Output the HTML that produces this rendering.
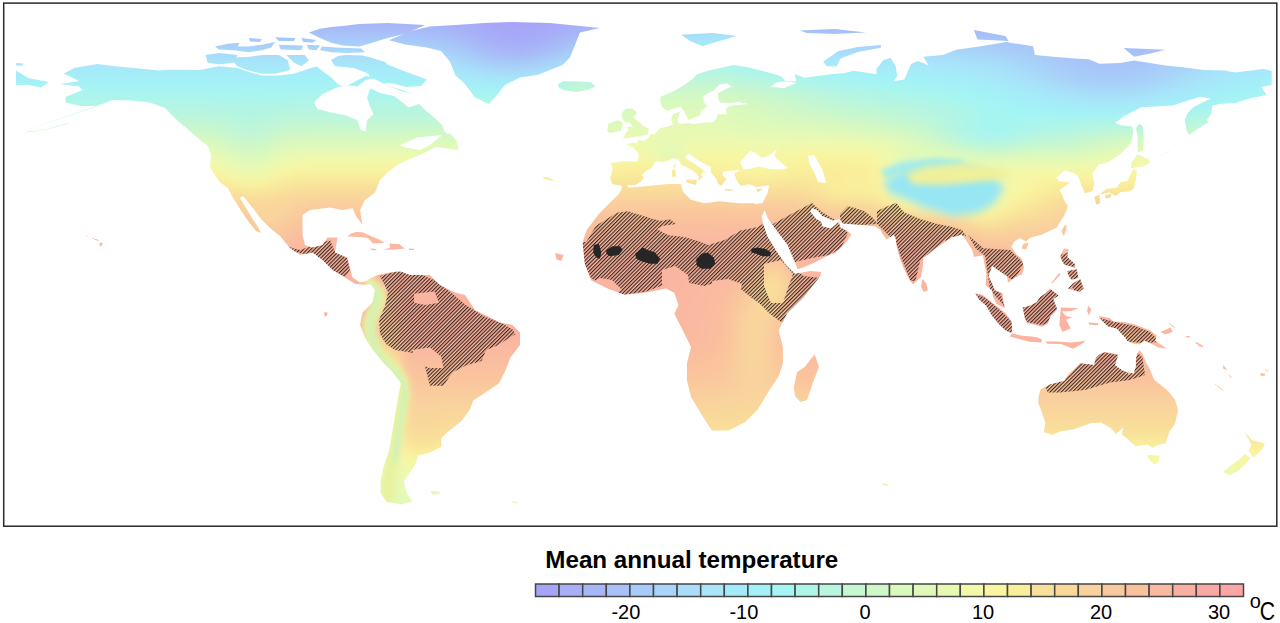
<!DOCTYPE html>
<html><head><meta charset="utf-8"><style>
html,body{margin:0;padding:0;background:#fff;width:1280px;height:623px;overflow:hidden}
svg{display:block;font-family:"Liberation Sans",sans-serif}
</style></head><body>
<svg width="1280" height="623" viewBox="0 0 1280 623">
<defs>
<clipPath id="landclip"><path d="M63.8,73.4 L75.0,67.8 L97.5,64.0 L112.5,66.0 L131.0,67.8 L159.0,70.6 L169.0,69.7 L200.0,70.0 L218.8,66.3 L237.5,68.1 L248.8,71.9 L261.9,75.6 L278.8,75.6 L293.8,73.8 L305.0,70.0 L316.3,66.3 L323.8,71.9 L331.3,77.5 L338.8,85.0 L346.3,86.0 L358.0,80.0 L366.0,76.0 L374.0,78.0 L386.0,85.0 L402.0,90.0 L415.0,95.0 L418.0,100.0 L420.0,105.0 L425.0,110.0 L435.0,118.0 L442.0,125.0 L445.0,132.0 L450.0,136.0 L447.0,142.0 L440.0,145.0 L430.0,150.0 L420.0,155.0 L407.5,160.0 L397.5,165.0 L387.5,172.5 L380.0,180.0 L375.0,192.5 L365.0,200.0 L360.0,210.0 L362.5,225.0 L356.0,216.0 L352.5,208.0 L342.5,210.0 L330.0,207.5 L310.0,210.0 L302.5,215.0 L302.5,235.0 L305.0,245.0 L312.5,247.5 L322.5,245.0 L327.5,237.5 L337.5,237.5 L335.0,252.5 L347.5,257.5 L350.0,267.5 L352.5,277.5 L360.0,282.5 L370.0,280.0 L372.0,284.0 L365.0,285.0 L355.0,283.8 L345.0,277.5 L332.5,270.0 L322.5,260.0 L312.5,252.5 L300.0,255.0 L290.0,248.0 L280.0,236.0 L270.0,228.0 L262.0,220.0 L255.0,211.0 L248.0,202.0 L243.0,196.0 L240.0,198.0 L246.0,208.0 L252.0,218.0 L258.0,227.0 L261.0,233.0 L256.0,231.0 L248.0,221.0 L240.0,209.0 L232.0,196.0 L227.5,187.5 L220.0,182.5 L215.0,175.0 L210.0,167.5 L211.0,155.0 L208.0,146.0 L200.0,140.0 L187.5,129.0 L178.0,121.0 L165.0,108.0 L150.0,102.5 L131.0,100.6 L112.5,100.0 L105.0,103.0 L17.0,133.0 L98.0,106.0 L80.6,106.0 L65.6,102.5 L65.6,97.0 L82.5,90.0 L79.0,86.5 L60.0,84.0 L79.0,81.0 Z"/><path d="M308.8,32.5 L320.0,28.8 L331.3,26.9 L342.5,25.9 L359.4,24.1 L387.5,23.1 L425.0,25.0 L406.3,33.4 L387.5,38.1 L368.8,43.8 L359.4,46.6 L342.5,45.6 L331.3,42.8 L320.0,38.1 Z"/><path d="M321.9,46.6 L335.0,47.5 L361.3,48.4 L365.0,52.2 L346.3,53.1 L331.3,52.2 L320.0,50.3 Z"/><path d="M215.0,46.6 L228.1,43.8 L239.4,42.8 L237.5,46.6 L248.8,46.6 L261.9,44.7 L275.0,41.9 L271.3,47.5 L261.9,50.3 L248.8,52.2 L233.8,50.3 L218.8,49.4 Z"/><path d="M248.8,38.1 L261.9,39.0 L260.0,41.9 L250.0,41.5 Z"/><path d="M275.0,37.2 L295.6,38.1 L293.8,40.9 L278.8,40.9 Z"/><path d="M301.3,38.1 L316.3,40.0 L312.5,42.8 L303.1,41.9 Z"/><path d="M278.8,44.7 L303.1,45.6 L301.3,50.3 L280.6,49.4 Z"/><path d="M306.9,44.7 L320.0,45.6 L316.3,50.3 L308.8,49.4 Z"/><path d="M205.6,55.0 L218.8,53.1 L237.5,55.0 L233.8,62.5 L218.8,64.4 L207.5,62.5 Z"/><path d="M230.0,57.8 L246.9,56.9 L263.8,55.0 L278.8,55.0 L288.1,60.6 L290.0,70.0 L275.0,73.8 L261.9,73.8 L246.9,70.0 L237.5,66.3 Z"/><path d="M286.3,55.0 L305.0,55.0 L308.8,60.6 L301.3,66.3 L293.8,62.5 Z"/><path d="M331.0,60.0 L338.0,56.0 L346.3,55.0 L362.0,55.5 L368.8,56.9 L385.0,62.0 L387.5,64.4 L406.3,71.9 L426.9,79.4 L421.3,86.0 L406.3,87.0 L395.0,84.0 L387.5,83.1 L372.0,86.0 L368.8,73.8 L353.8,68.1 L335.0,66.3 Z"/><path d="M350.0,86.0 L362.0,84.0 L366.0,90.0 L356.0,94.0 L349.0,91.0 Z"/><path d="M389.0,40.3 L409.3,31.6 L429.5,26.6 L455.5,25.1 L484.4,22.9 L512.5,22.0 L550.0,23.0 L570.0,25.0 L600.0,28.0 L580.0,32.5 L575.0,45.0 L570.0,57.5 L562.5,65.0 L550.0,70.0 L537.5,75.0 L520.0,77.5 L505.0,85.0 L495.0,97.5 L489.0,104.0 L475.0,97.5 L465.0,84.0 L455.5,75.6 L452.6,68.4 L449.7,61.2 L441.1,51.1 L426.6,47.5 L405.0,44.6 Z"/><path d="M562.9,81.2 L580.3,81.5 L590.8,82.2 L595.6,86.4 L587.3,89.9 L576.8,92.0 L563.9,90.2 L559.4,88.1 L557.7,84.6 Z"/><path d="M16.0,70.5 L28.0,78.0 L49.0,82.0 L41.0,87.5 L28.0,84.7 L16.0,85.0 Z"/><path d="M16.0,63.0 L23.0,63.5 L23.0,65.5 L16.0,65.5 Z"/><path d="M449.7,133.1 L456.6,140.4 L458.4,150.1 L436.4,147.3 L441.0,140.4 L443.8,135.8 Z"/><path d="M355.6,232.0 L362.6,232.3 L371.3,236.2 L379.3,239.6 L384.5,243.1 L373.0,243.5 L367.8,237.9 L359.1,236.9 L347.3,236.5 L350.4,234.1 Z"/><path d="M389.4,243.5 L399.2,244.2 L404.7,248.4 L395.7,249.4 L383.8,249.7 L390.1,247.7 Z"/><path d="M372.0,248.4 L377.2,249.4 L374.1,250.4 L369.9,249.1 Z"/><path d="M408.9,248.4 L414.5,248.7 L413.5,250.1 L408.9,250.1 Z"/><path d="M367.5,280.0 L377.5,275.0 L390.0,272.5 L400.0,271.2 L410.0,275.0 L430.0,275.0 L440.0,285.0 L455.0,292.5 L465.0,295.0 L475.0,310.0 L485.0,315.0 L500.0,322.5 L512.5,325.0 L520.0,332.5 L520.0,345.0 L510.6,357.3 L504.8,371.8 L499.1,383.3 L481.7,394.9 L473.1,400.6 L470.2,409.3 L461.5,420.9 L447.1,432.4 L441.3,438.2 L441.3,446.9 L429.7,452.6 L418.2,455.5 L415.3,464.2 L409.5,472.9 L403.8,481.5 L406.6,493.1 L412.4,501.7 L400.9,504.6 L386.4,501.7 L380.6,493.1 L380.6,481.5 L383.5,467.1 L389.3,449.7 L392.2,432.4 L395.1,415.1 L398.0,397.8 L400.9,383.3 L392.2,371.8 L383.5,363.1 L372.0,348.7 L365.0,337.5 L360.0,325.0 L362.5,312.5 L372.5,302.5 L375.0,290.0 Z"/><path d="M624.3,182.1 L628.9,187.8 L648.2,185.9 L667.4,184.0 L680.9,184.0 L682.9,191.7 L690.6,199.4 L704.0,203.2 L719.5,201.3 L738.7,203.2 L754.1,203.2 L760.0,208.0 L761.6,216.0 L763.0,223.2 L767.3,236.2 L776.0,250.6 L786.1,265.1 L794.8,273.8 L810.6,270.9 L821.0,272.0 L820.4,276.0 L803.7,296.9 L787.0,313.6 L778.7,330.3 L782.9,346.9 L782.9,363.6 L778.7,376.2 L770.3,388.7 L757.8,409.5 L745.3,422.1 L728.6,430.4 L711.9,430.4 L703.6,417.9 L691.0,397.0 L686.9,380.3 L686.9,363.6 L691.0,346.9 L682.7,330.3 L674.3,313.6 L678.5,305.2 L674.3,292.7 L666.0,288.5 L645.1,292.7 L624.3,294.8 L607.6,288.5 L590.9,280.2 L584.6,263.5 L582.5,242.6 L586.7,230.1 L599.2,213.4 L609.6,203.2 L619.3,193.6 Z"/><path d="M814.7,354.6 L818.9,366.8 L813.0,382.5 L807.1,399.9 L800.4,402.0 L795.2,396.4 L793.8,387.7 L797.0,372.0 L805.0,366.8 L810.2,359.8 Z"/><path d="M623.5,187.4 L621.1,185.7 L612.0,183.9 L610.3,178.0 L612.7,169.6 L611.0,163.0 L623.1,161.3 L637.8,161.6 L638.8,154.3 L634.3,148.0 L626.3,144.2 L632.6,142.8 L637.8,143.5 L637.4,139.7 L643.7,140.7 L648.2,138.3 L650.0,135.1 L655.2,133.8 L659.7,128.2 L667.4,126.4 L673.0,124.7 L671.2,119.5 L673.0,113.9 L679.9,111.8 L678.9,116.0 L677.1,119.5 L678.5,123.0 L681.3,124.0 L688.3,123.0 L693.5,124.0 L707.4,122.3 L712.7,122.6 L716.5,118.8 L717.9,114.2 L726.9,114.2 L725.6,109.4 L729.0,105.9 L748.5,104.1 L738.8,102.1 L730.1,103.1 L720.3,102.4 L717.9,98.6 L717.9,93.3 L726.3,88.8 L731.5,86.4 L727.3,83.6 L720.0,84.3 L713.7,90.6 L703.6,95.4 L703.6,101.7 L707.4,106.2 L701.5,110.8 L700.1,115.3 L694.2,117.7 L688.3,119.8 L686.9,117.0 L684.5,111.8 L681.3,107.3 L679.6,106.9 L672.6,109.0 L667.4,110.8 L662.5,107.6 L660.4,102.4 L660.4,96.8 L669.1,93.3 L676.1,89.9 L684.8,84.6 L693.2,78.4 L697.0,74.2 L708.8,70.4 L724.9,66.9 L732.9,65.1 L747.5,67.2 L757.9,69.7 L768.4,72.4 L780.6,75.9 L785.8,81.2 L796.3,81.2 L794.5,74.2 L805.0,77.7 L817.2,75.9 L831.1,74.2 L845.0,73.1 L853.7,70.7 L876.4,74.2 L876.4,69.0 L883.3,60.3 L890.3,57.8 L895.5,65.5 L897.3,75.9 L893.8,81.2 L904.2,79.4 L911.2,63.7 L918.2,61.0 L928.6,65.5 L923.4,56.8 L942.6,55.0 L956.5,49.8 L980.9,46.3 L1006.3,42.1 L1033.1,46.3 L1034.9,55.0 L1050.5,56.4 L1074.9,58.5 L1088.9,59.2 L1099.3,63.7 L1120.2,63.0 L1134.1,60.6 L1165.5,65.5 L1182.9,67.2 L1203.8,70.0 L1224.7,70.4 L1235.2,72.4 L1263.0,69.0 L1271.7,70.7 L1271.7,85.0 L1261.3,87.1 L1266.5,95.1 L1249.1,98.6 L1235.2,103.1 L1221.2,103.8 L1212.5,105.5 L1210.8,114.2 L1206.6,120.2 L1209.0,121.9 L1198.6,128.2 L1188.8,135.1 L1186.4,129.9 L1184.7,119.5 L1188.1,112.5 L1193.4,107.3 L1210.8,98.6 L1200.3,96.8 L1182.9,102.1 L1172.5,105.5 L1158.5,106.2 L1141.1,107.3 L1124.4,116.0 L1115.0,123.0 L1122.0,125.4 L1132.4,126.4 L1133.1,133.4 L1131.0,143.2 L1119.5,154.7 L1108.0,162.3 L1098.3,164.8 L1094.8,170.0 L1092.3,173.8 L1094.4,183.6 L1092.3,191.2 L1084.7,193.3 L1080.9,183.6 L1078.4,176.9 L1074.9,173.8 L1064.5,170.3 L1059.3,175.2 L1055.8,177.6 L1059.6,181.5 L1070.4,182.5 L1059.3,190.2 L1062.0,194.4 L1064.5,201.0 L1067.6,205.5 L1067.3,208.6 L1063.8,216.3 L1056.5,227.8 L1041.8,234.4 L1029.6,237.9 L1026.2,241.4 L1019.9,237.9 L1014.3,241.4 L1011.2,246.6 L1015.7,253.6 L1021.6,258.8 L1024.1,267.5 L1022.0,274.5 L1015.7,276.9 L1008.0,282.8 L1007.0,276.2 L1001.8,272.7 L996.6,268.9 L992.0,265.8 L991.0,269.3 L988.5,276.2 L992.0,283.2 L994.8,290.2 L1002.8,293.6 L1003.5,302.3 L1005.3,308.3 L996.6,304.1 L993.1,297.1 L992.0,290.2 L985.4,284.9 L986.5,274.5 L984.4,264.0 L983.0,255.3 L973.9,257.1 L972.2,250.1 L966.9,241.4 L961.7,234.4 L956.5,236.2 L951.3,237.2 L946.0,241.4 L938.4,246.6 L929.7,253.6 L923.4,257.8 L922.7,267.5 L921.0,276.9 L913.0,284.6 L908.4,278.0 L903.6,268.2 L900.1,258.8 L896.6,246.6 L895.9,239.6 L893.8,234.4 L886.8,239.6 L883.0,234.8 L880.6,230.2 L875.3,226.4 L862.4,225.0 L857.6,224.7 L842.6,223.6 L839.8,218.7 L832.8,220.5 L822.4,216.0 L817.2,210.0 L811.9,208.3 L810.2,211.8 L816.1,218.7 L821.3,221.9 L822.4,226.4 L831.1,228.5 L836.3,224.0 L839.1,220.8 L840.2,227.5 L847.1,230.6 L851.3,234.4 L846.8,241.4 L841.5,247.0 L834.6,253.6 L830.7,254.3 L815.1,262.3 L805.0,266.8 L797.7,269.3 L793.1,258.1 L787.6,244.9 L778.8,233.4 L767.4,217.4 L764.6,210.0 L762.1,216.3 L756.6,208.6 L755.5,204.1 L762.5,203.1 L765.3,197.8 L767.7,192.6 L769.1,185.3 L756.2,187.0 L749.6,184.3 L740.5,185.7 L737.7,182.2 L736.0,178.7 L734.3,173.5 L740.5,170.0 L730.1,170.7 L722.8,171.4 L722.8,175.2 L726.6,178.7 L725.6,180.4 L723.8,182.5 L721.4,186.0 L718.2,183.9 L716.8,179.4 L713.0,175.2 L710.6,171.7 L710.9,167.2 L706.0,164.4 L699.8,161.3 L693.5,156.7 L690.4,155.0 L691.1,154.0 L685.8,154.7 L685.8,158.1 L690.0,160.9 L698.7,166.8 L702.9,170.0 L707.4,173.5 L703.3,171.7 L700.8,174.9 L702.6,177.3 L697.7,180.8 L699.1,177.6 L696.6,173.5 L691.8,170.0 L685.8,166.8 L681.7,164.8 L678.5,160.2 L673.7,158.1 L668.4,160.6 L661.8,162.0 L655.2,161.3 L653.8,164.8 L650.7,168.6 L644.7,171.7 L642.0,175.2 L643.7,178.0 L640.6,181.8 L635.3,185.0 L627.7,185.0 Z"/><path d="M625.6,108.7 L632.6,108.7 L636.7,112.2 L633.9,117.7 L637.8,121.2 L643.3,125.7 L648.9,128.5 L647.9,133.4 L647.5,134.8 L639.5,136.2 L627.3,137.9 L623.1,138.6 L625.6,133.1 L628.7,129.9 L627.0,127.1 L632.6,126.8 L630.8,123.0 L625.6,122.3 L622.8,119.5 L621.4,116.0 L622.4,112.2 Z"/><path d="M617.6,120.2 L623.5,123.0 L621.8,127.1 L620.7,131.0 L609.9,133.1 L607.1,131.3 L608.2,127.1 L607.8,124.0 L614.1,121.2 Z"/><path d="M686.5,179.4 L697.3,179.7 L695.6,185.0 L686.2,182.2 Z"/><path d="M675.0,169.3 L676.4,176.3 L672.3,176.9 L671.6,170.3 Z"/><path d="M675.7,163.0 L675.0,168.6 L673.0,166.8 Z"/><path d="M724.9,189.1 L734.6,189.8 L730.1,190.9 L724.9,190.2 Z"/><path d="M755.5,189.1 L763.2,188.8 L757.9,192.3 Z"/><path d="M681.3,34.8 L712.7,33.1 L737.0,35.9 L719.6,41.1 L702.2,46.3 L690.0,41.1 Z"/><path d="M880.9,44.9 L857.9,47.0 L838.4,50.9 L823.1,61.7 L826.9,66.2 L836.7,66.2 L840.5,58.5 L857.9,51.9 L880.9,47.7 Z"/><path d="M799.7,30.6 L834.6,28.9 L865.9,32.4 L834.6,34.1 L806.7,33.1 Z"/><path d="M973.9,30.0 L1005.3,35.9 L1008.7,41.1 L977.4,39.4 Z"/><path d="M1123.7,48.1 L1165.5,49.8 L1151.6,53.3 L1134.1,56.8 Z"/><path d="M1139.4,123.7 L1142.9,126.4 L1143.9,138.6 L1142.9,150.8 L1137.6,152.6 L1137.6,143.9 L1137.6,135.1 L1135.9,128.2 Z"/><path d="M1137.3,154.3 L1149.1,159.5 L1149.8,163.0 L1142.2,166.5 L1130.7,168.2 L1131.7,162.3 Z"/><path d="M1133.8,168.2 L1136.9,171.7 L1135.9,179.4 L1133.8,188.4 L1130.0,191.2 L1120.2,192.3 L1116.0,196.1 L1109.8,192.6 L1099.3,194.4 L1106.3,189.1 L1116.7,187.4 L1120.2,182.2 L1127.2,180.8 L1130.7,173.5 Z"/><path d="M1099.3,194.7 L1100.4,203.1 L1096.5,204.8 L1094.1,196.8 Z"/><path d="M1111.5,193.7 L1110.5,197.8 L1105.6,198.5 L1105.2,194.7 Z"/><path d="M1066.2,224.7 L1066.6,229.2 L1063.8,236.2 L1061.3,230.9 L1064.5,225.7 Z"/><path d="M1028.6,242.8 L1026.2,249.4 L1021.6,248.4 L1023.4,243.8 Z"/><path d="M922.4,278.7 L926.2,283.2 L927.9,290.2 L923.8,291.9 L921.0,286.7 Z"/><path d="M1063.8,248.4 L1068.7,249.1 L1067.3,257.1 L1074.9,264.0 L1074.9,267.5 L1064.5,264.7 L1062.7,262.3 L1060.3,256.4 Z"/><path d="M1080.2,279.0 L1083.6,288.4 L1079.5,291.9 L1068.0,288.4 L1073.2,283.2 Z"/><path d="M1076.7,269.3 L1078.4,278.0 L1071.4,279.7 L1068.0,274.5 L1067.3,271.0 Z"/><path d="M1059.3,272.7 L1060.3,274.5 L1052.6,283.2 L1051.2,283.2 Z"/><path d="M1049.8,288.4 L1058.6,295.4 L1053.3,298.9 L1057.2,309.3 L1050.5,316.3 L1047.8,323.2 L1041.8,326.7 L1031.4,323.9 L1026.9,323.2 L1024.8,318.0 L1022.7,307.6 L1029.6,305.8 L1036.6,302.3 L1040.1,297.1 L1045.3,293.6 Z"/><path d="M975.0,293.3 L982.6,294.7 L989.6,300.6 L998.3,307.6 L1005.3,312.8 L1011.5,321.5 L1012.2,328.5 L1011.5,333.3 L1005.3,330.2 L999.3,325.0 L992.4,316.3 L986.1,305.8 L979.1,299.6 Z"/><path d="M1012.2,333.3 L1020.9,335.4 L1031.4,336.5 L1036.6,337.2 L1041.8,339.3 L1041.5,342.4 L1029.6,341.7 L1020.9,339.6 L1009.8,336.5 Z"/><path d="M1045.3,341.4 L1057.5,341.4 L1071.4,342.4 L1085.4,340.7 L1083.6,342.8 L1073.2,348.7 L1061.0,344.1 L1047.1,343.8 Z"/><path d="M1061.0,307.6 L1078.8,308.3 L1071.4,311.1 L1062.0,311.4 L1066.2,316.3 L1072.5,317.3 L1066.2,319.8 L1070.7,328.5 L1062.4,332.0 L1059.3,325.0 L1060.3,314.5 Z"/><path d="M1088.2,305.8 L1091.3,309.3 L1088.9,315.6 L1087.1,311.1 Z"/><path d="M1088.9,322.6 L1098.6,323.2 L1097.6,325.3 L1088.9,324.6 Z"/><path d="M1099.3,315.9 L1109.8,318.0 L1113.2,321.5 L1123.7,321.9 L1134.1,324.3 L1149.8,330.2 L1156.8,335.4 L1155.0,340.7 L1167.2,348.7 L1158.5,347.6 L1151.6,344.1 L1144.6,340.7 L1139.4,344.5 L1134.1,344.1 L1127.2,340.7 L1125.4,337.9 L1116.7,328.5 L1108.0,326.4 L1102.8,321.5 L1099.3,318.0 Z"/><path d="M1184.7,336.5 L1189.9,337.9 L1189.2,335.8 Z"/><path d="M1195.1,341.4 L1203.8,345.9 L1202.1,346.9 L1196.1,343.5 Z"/><path d="M1198.6,345.2 L1203.1,347.3 L1197.9,346.2 Z"/><path d="M1223.3,365.0 L1227.5,370.3 L1223.0,368.5 Z"/><path d="M1228.2,373.8 L1232.4,378.3 L1229.9,377.2 Z"/><path d="M1214.3,383.2 L1224.7,390.8 L1221.2,389.4 L1215.0,384.2 Z"/><path d="M1260.6,373.1 L1265.1,373.8 L1264.8,376.2 L1260.2,375.5 Z"/><path d="M1265.8,369.2 L1269.6,371.3 L1264.8,370.6 Z"/><path d="M1167.2,321.5 L1174.2,326.7 L1175.9,328.8 L1171.8,326.0 Z"/><path d="M324.3,312.1 L327.8,312.8 L326.7,316.3 L324.3,316.3 Z"/><path d="M430.5,491.1 L439.9,491.5 L439.2,493.9 L432.3,494.6 Z"/><path d="M510.6,500.9 L517.6,501.9 L517.9,503.3 L512.4,502.6 Z"/><path d="M882.7,482.8 L888.6,484.2 L887.5,485.9 L882.7,485.2 Z"/><path d="M555.2,252.9 L563.6,255.0 L561.1,260.9 L556.6,259.5 Z"/><path d="M543.7,176.9 L549.0,177.6 L554.9,181.5 L553.1,181.1 L543.0,178.7 Z"/><path d="M1186.4,136.9 L1181.2,142.1 L1170.7,150.8 L1155.0,157.8 L1153.3,158.5 L1169.0,151.9 L1180.1,142.8 L1185.3,137.9 Z"/><path d="M68.3,123.0 L56.1,126.4 L42.1,129.9 L26.5,131.7 L25.8,132.4 L42.1,130.6 L56.1,127.1 L68.3,123.7 Z"/><path d="M100.0,242.4 L103.1,243.5 L101.0,246.6 L99.3,244.9 Z"/><path d="M91.9,237.6 L93.7,238.6 L97.5,239.6 L99.6,241.0 L96.1,240.3 L92.3,238.6 Z"/><path d="M86.4,235.5 L88.1,236.2 L86.4,236.5 Z"/><path d="M1170.7,327.4 L1172.5,332.0 L1165.5,334.4 L1160.3,332.0 Z"/><path d="M1139.4,350.1 L1142.9,354.6 L1146.3,363.3 L1149.5,368.5 L1154.3,380.0 L1162.0,385.9 L1168.3,391.2 L1175.2,399.9 L1178.0,410.3 L1174.9,424.3 L1169.7,431.2 L1165.5,443.4 L1156.8,445.2 L1152.6,447.9 L1147.7,444.5 L1135.9,446.2 L1130.0,441.7 L1124.7,436.5 L1122.0,434.7 L1123.0,427.7 L1116.0,434.0 L1110.5,427.7 L1101.1,422.5 L1090.6,423.2 L1073.2,429.5 L1061.0,431.2 L1052.3,434.7 L1043.9,432.3 L1045.3,422.5 L1041.8,412.1 L1038.4,403.4 L1038.4,398.1 L1040.4,389.4 L1050.5,384.2 L1064.5,380.7 L1068.7,373.8 L1073.2,370.3 L1080.2,363.3 L1088.9,364.3 L1094.1,365.0 L1095.8,358.1 L1099.3,354.6 L1104.5,351.8 L1118.5,354.6 L1116.7,359.8 L1115.0,365.0 L1122.0,370.3 L1133.4,373.8 L1135.9,366.8 L1135.9,358.1 L1137.6,352.9 Z"/><path d="M1147.0,454.9 L1159.6,455.6 L1158.2,462.6 L1154.3,464.7 L1148.8,459.1 Z"/><path d="M1244.6,432.6 L1251.9,439.9 L1264.8,443.4 L1262.7,448.6 L1253.3,457.7 L1248.4,450.4 L1251.5,445.2 L1249.1,439.9 Z"/><path d="M1244.9,453.9 L1250.1,458.1 L1245.6,464.3 L1237.9,471.3 L1229.6,475.1 L1223.0,472.3 L1229.9,466.1 L1239.7,459.1 Z"/></clipPath>
<pattern id="hatch" patternUnits="userSpaceOnUse" width="2.62" height="10" patternTransform="rotate(45)">
<rect x="0" y="0" width="1.15" height="10" fill="#35201a"/></pattern>
<filter id="blur" x="0" y="0" width="1280" height="530" filterUnits="userSpaceOnUse"><feGaussianBlur stdDeviation="6"/></filter>
<filter id="ob0" x="0" y="0" width="1280" height="530" filterUnits="userSpaceOnUse"><feGaussianBlur stdDeviation="3"/></filter><filter id="ob1" x="0" y="0" width="1280" height="530" filterUnits="userSpaceOnUse"><feGaussianBlur stdDeviation="2"/></filter><filter id="pb0" x="0" y="0" width="1280" height="530" filterUnits="userSpaceOnUse"><feGaussianBlur stdDeviation="2.5"/></filter><filter id="pb1" x="0" y="0" width="1280" height="530" filterUnits="userSpaceOnUse"><feGaussianBlur stdDeviation="4"/></filter><filter id="pb2" x="0" y="0" width="1280" height="530" filterUnits="userSpaceOnUse"><feGaussianBlur stdDeviation="3"/></filter></defs>
<rect width="1280" height="623" fill="#fff"/>
<g clip-path="url(#landclip)">
<g filter="url(#blur)"><rect x="330" y="0" width="10" height="10" fill="#a6a4f9"/><rect x="340" y="0" width="10" height="10" fill="#a6a4f9"/><rect x="350" y="0" width="10" height="10" fill="#a6a4f9"/><rect x="360" y="0" width="10" height="10" fill="#a6a4f9"/><rect x="370" y="0" width="10" height="10" fill="#a6a4f9"/><rect x="380" y="0" width="10" height="10" fill="#a6a4f9"/><rect x="390" y="0" width="10" height="10" fill="#a6a4f9"/><rect x="400" y="0" width="10" height="10" fill="#a6a4f9"/><rect x="410" y="0" width="10" height="10" fill="#a6a4f9"/><rect x="420" y="0" width="10" height="10" fill="#a6a4f9"/><rect x="430" y="0" width="10" height="10" fill="#a6a4f9"/><rect x="440" y="0" width="10" height="10" fill="#a6a4f9"/><rect x="450" y="0" width="10" height="10" fill="#a6a4f9"/><rect x="460" y="0" width="10" height="10" fill="#a6a4f9"/><rect x="470" y="0" width="10" height="10" fill="#a6a4f9"/><rect x="480" y="0" width="10" height="10" fill="#a6a4f9"/><rect x="490" y="0" width="10" height="10" fill="#a6a4f9"/><rect x="500" y="0" width="10" height="10" fill="#a6a4f9"/><rect x="510" y="0" width="10" height="10" fill="#a6a4f9"/><rect x="520" y="0" width="10" height="10" fill="#a6a4f9"/><rect x="530" y="0" width="10" height="10" fill="#a6a4f9"/><rect x="540" y="0" width="10" height="10" fill="#a6a4f9"/><rect x="550" y="0" width="10" height="10" fill="#a6a4f9"/><rect x="560" y="0" width="10" height="10" fill="#a6a4f9"/><rect x="570" y="0" width="10" height="10" fill="#a6a4f9"/><rect x="580" y="0" width="10" height="10" fill="#a6a4f9"/><rect x="300" y="10" width="10" height="10" fill="#a7abf8"/><rect x="310" y="10" width="10" height="10" fill="#a7abf8"/><rect x="320" y="10" width="10" height="10" fill="#a7abf8"/><rect x="330" y="10" width="10" height="10" fill="#a7abf8"/><rect x="340" y="10" width="10" height="10" fill="#a7abf8"/><rect x="350" y="10" width="10" height="10" fill="#a7abf8"/><rect x="360" y="10" width="10" height="10" fill="#a7abf8"/><rect x="370" y="10" width="10" height="10" fill="#a7abf8"/><rect x="380" y="10" width="10" height="10" fill="#a7abf8"/><rect x="390" y="10" width="10" height="10" fill="#a7abf8"/><rect x="400" y="10" width="10" height="10" fill="#a7abf8"/><rect x="410" y="10" width="10" height="10" fill="#a7aaf8"/><rect x="420" y="10" width="10" height="10" fill="#a7aaf8"/><rect x="430" y="10" width="10" height="10" fill="#a7a9f8"/><rect x="440" y="10" width="10" height="10" fill="#a7a8f8"/><rect x="450" y="10" width="10" height="10" fill="#a7a7f8"/><rect x="460" y="10" width="10" height="10" fill="#a6a6f9"/><rect x="470" y="10" width="10" height="10" fill="#a6a4f9"/><rect x="480" y="10" width="10" height="10" fill="#a6a4f9"/><rect x="490" y="10" width="10" height="10" fill="#a6a4f9"/><rect x="500" y="10" width="10" height="10" fill="#a6a4f9"/><rect x="510" y="10" width="10" height="10" fill="#a6a4f9"/><rect x="520" y="10" width="10" height="10" fill="#a6a4f9"/><rect x="530" y="10" width="10" height="10" fill="#a6a4f9"/><rect x="540" y="10" width="10" height="10" fill="#a6a4f9"/><rect x="550" y="10" width="10" height="10" fill="#a6a4f9"/><rect x="560" y="10" width="10" height="10" fill="#a6a5f9"/><rect x="570" y="10" width="10" height="10" fill="#a6a6f9"/><rect x="580" y="10" width="10" height="10" fill="#a7a8f8"/><rect x="590" y="10" width="10" height="10" fill="#a7a9f8"/><rect x="600" y="10" width="10" height="10" fill="#a7aaf8"/><rect x="610" y="10" width="10" height="10" fill="#a7abf8"/><rect x="670" y="10" width="10" height="10" fill="#a7b2f7"/><rect x="680" y="10" width="10" height="10" fill="#a7b4f7"/><rect x="690" y="10" width="10" height="10" fill="#a6b5f7"/><rect x="700" y="10" width="10" height="10" fill="#a6b7f7"/><rect x="710" y="10" width="10" height="10" fill="#a6b8f7"/><rect x="720" y="10" width="10" height="10" fill="#a6b8f7"/><rect x="730" y="10" width="10" height="10" fill="#a6b6f7"/><rect x="780" y="10" width="10" height="10" fill="#a8b0f7"/><rect x="790" y="10" width="10" height="10" fill="#a8aef7"/><rect x="800" y="10" width="10" height="10" fill="#a8adf7"/><rect x="810" y="10" width="10" height="10" fill="#a7adf7"/><rect x="820" y="10" width="10" height="10" fill="#a7acf8"/><rect x="830" y="10" width="10" height="10" fill="#a7acf8"/><rect x="840" y="10" width="10" height="10" fill="#a7acf8"/><rect x="850" y="10" width="10" height="10" fill="#a7abf8"/><rect x="860" y="10" width="10" height="10" fill="#a7abf8"/><rect x="870" y="10" width="10" height="10" fill="#a7abf8"/><rect x="960" y="10" width="10" height="10" fill="#a7abf8"/><rect x="970" y="10" width="10" height="10" fill="#a7aaf8"/><rect x="980" y="10" width="10" height="10" fill="#a7aaf8"/><rect x="990" y="10" width="10" height="10" fill="#a7aaf8"/><rect x="1000" y="10" width="10" height="10" fill="#a7aaf8"/><rect x="210" y="20" width="10" height="10" fill="#a7b4f7"/><rect x="220" y="20" width="10" height="10" fill="#a7b4f7"/><rect x="230" y="20" width="10" height="10" fill="#a7b4f7"/><rect x="240" y="20" width="10" height="10" fill="#a7b4f7"/><rect x="250" y="20" width="10" height="10" fill="#a7b4f7"/><rect x="260" y="20" width="10" height="10" fill="#a7b4f7"/><rect x="270" y="20" width="10" height="10" fill="#a7b4f7"/><rect x="280" y="20" width="10" height="10" fill="#a7b4f7"/><rect x="290" y="20" width="10" height="10" fill="#a7b4f7"/><rect x="300" y="20" width="10" height="10" fill="#a7b4f7"/><rect x="310" y="20" width="10" height="10" fill="#a7b4f7"/><rect x="320" y="20" width="10" height="10" fill="#a7b4f7"/><rect x="330" y="20" width="10" height="10" fill="#a7b4f7"/><rect x="340" y="20" width="10" height="10" fill="#a7b4f7"/><rect x="350" y="20" width="10" height="10" fill="#a7b4f7"/><rect x="360" y="20" width="10" height="10" fill="#a7b4f7"/><rect x="370" y="20" width="10" height="10" fill="#a7b4f7"/><rect x="380" y="20" width="10" height="10" fill="#a7b4f7"/><rect x="390" y="20" width="10" height="10" fill="#a7b4f7"/><rect x="400" y="20" width="10" height="10" fill="#a7b3f7"/><rect x="410" y="20" width="10" height="10" fill="#a7b3f7"/><rect x="420" y="20" width="10" height="10" fill="#a7b2f7"/><rect x="430" y="20" width="10" height="10" fill="#a7b2f7"/><rect x="440" y="20" width="10" height="10" fill="#a7b1f7"/><rect x="450" y="20" width="10" height="10" fill="#a8aff7"/><rect x="460" y="20" width="10" height="10" fill="#a8adf7"/><rect x="470" y="20" width="10" height="10" fill="#a7aaf8"/><rect x="480" y="20" width="10" height="10" fill="#a7a7f8"/><rect x="490" y="20" width="10" height="10" fill="#a6a5f9"/><rect x="500" y="20" width="10" height="10" fill="#a6a4f9"/><rect x="510" y="20" width="10" height="10" fill="#a6a4f9"/><rect x="520" y="20" width="10" height="10" fill="#a6a4f9"/><rect x="530" y="20" width="10" height="10" fill="#a6a4f9"/><rect x="540" y="20" width="10" height="10" fill="#a6a6f9"/><rect x="550" y="20" width="10" height="10" fill="#a7a8f8"/><rect x="560" y="20" width="10" height="10" fill="#a7abf8"/><rect x="570" y="20" width="10" height="10" fill="#a8aef7"/><rect x="580" y="20" width="10" height="10" fill="#a8b0f7"/><rect x="590" y="20" width="10" height="10" fill="#a7b2f7"/><rect x="600" y="20" width="10" height="10" fill="#a7b3f7"/><rect x="610" y="20" width="10" height="10" fill="#a7b4f7"/><rect x="660" y="20" width="10" height="10" fill="#a8c0f9"/><rect x="670" y="20" width="10" height="10" fill="#a8c4f9"/><rect x="680" y="20" width="10" height="10" fill="#a8c7f9"/><rect x="690" y="20" width="10" height="10" fill="#a8caf9"/><rect x="700" y="20" width="10" height="10" fill="#a8ccf9"/><rect x="710" y="20" width="10" height="10" fill="#a8cdf9"/><rect x="720" y="20" width="10" height="10" fill="#a8cdf9"/><rect x="730" y="20" width="10" height="10" fill="#a8ccf9"/><rect x="740" y="20" width="10" height="10" fill="#a8c9f9"/><rect x="750" y="20" width="10" height="10" fill="#a8c7f9"/><rect x="780" y="20" width="10" height="10" fill="#a7bcf8"/><rect x="790" y="20" width="10" height="10" fill="#a7b9f8"/><rect x="800" y="20" width="10" height="10" fill="#a6b7f7"/><rect x="810" y="20" width="10" height="10" fill="#a6b6f7"/><rect x="820" y="20" width="10" height="10" fill="#a6b5f7"/><rect x="830" y="20" width="10" height="10" fill="#a6b5f7"/><rect x="840" y="20" width="10" height="10" fill="#a6b5f7"/><rect x="850" y="20" width="10" height="10" fill="#a7b4f7"/><rect x="860" y="20" width="10" height="10" fill="#a7b4f7"/><rect x="870" y="20" width="10" height="10" fill="#a7b4f7"/><rect x="880" y="20" width="10" height="10" fill="#a7b4f7"/><rect x="950" y="20" width="10" height="10" fill="#a7b3f7"/><rect x="960" y="20" width="10" height="10" fill="#a7b3f7"/><rect x="970" y="20" width="10" height="10" fill="#a7b3f7"/><rect x="980" y="20" width="10" height="10" fill="#a7b3f7"/><rect x="990" y="20" width="10" height="10" fill="#a7b2f7"/><rect x="1000" y="20" width="10" height="10" fill="#a7b2f7"/><rect x="1010" y="20" width="10" height="10" fill="#a7b2f7"/><rect x="1020" y="20" width="10" height="10" fill="#a7b2f7"/><rect x="1030" y="20" width="10" height="10" fill="#a7b1f7"/><rect x="200" y="30" width="10" height="10" fill="#a8c3f9"/><rect x="210" y="30" width="10" height="10" fill="#a8c3f9"/><rect x="220" y="30" width="10" height="10" fill="#a8c3f9"/><rect x="230" y="30" width="10" height="10" fill="#a8c3f9"/><rect x="240" y="30" width="10" height="10" fill="#a8c3f9"/><rect x="250" y="30" width="10" height="10" fill="#a8c3f9"/><rect x="260" y="30" width="10" height="10" fill="#a8c3f9"/><rect x="270" y="30" width="10" height="10" fill="#a8c3f9"/><rect x="280" y="30" width="10" height="10" fill="#a8c3f9"/><rect x="290" y="30" width="10" height="10" fill="#a8c3f9"/><rect x="300" y="30" width="10" height="10" fill="#a8c3f9"/><rect x="310" y="30" width="10" height="10" fill="#a8c3f9"/><rect x="320" y="30" width="10" height="10" fill="#a8c3f9"/><rect x="330" y="30" width="10" height="10" fill="#a8c3f9"/><rect x="340" y="30" width="10" height="10" fill="#a8c3f9"/><rect x="350" y="30" width="10" height="10" fill="#a8c3f9"/><rect x="360" y="30" width="10" height="10" fill="#a8c3f9"/><rect x="370" y="30" width="10" height="10" fill="#a8c3f9"/><rect x="380" y="30" width="10" height="10" fill="#a8c3f9"/><rect x="390" y="30" width="10" height="10" fill="#a8c3f9"/><rect x="400" y="30" width="10" height="10" fill="#a8c2f9"/><rect x="410" y="30" width="10" height="10" fill="#a8c1f9"/><rect x="420" y="30" width="10" height="10" fill="#a8c0f8"/><rect x="430" y="30" width="10" height="10" fill="#a7bef8"/><rect x="440" y="30" width="10" height="10" fill="#a7bbf8"/><rect x="450" y="30" width="10" height="10" fill="#a6b7f7"/><rect x="460" y="30" width="10" height="10" fill="#a7b4f7"/><rect x="470" y="30" width="10" height="10" fill="#a7b2f7"/><rect x="480" y="30" width="10" height="10" fill="#a8aff7"/><rect x="490" y="30" width="10" height="10" fill="#a7acf8"/><rect x="500" y="30" width="10" height="10" fill="#a7a9f8"/><rect x="510" y="30" width="10" height="10" fill="#a7a8f8"/><rect x="520" y="30" width="10" height="10" fill="#a7a8f8"/><rect x="530" y="30" width="10" height="10" fill="#a7aaf8"/><rect x="540" y="30" width="10" height="10" fill="#a8adf7"/><rect x="550" y="30" width="10" height="10" fill="#a8b0f7"/><rect x="560" y="30" width="10" height="10" fill="#a7b3f7"/><rect x="570" y="30" width="10" height="10" fill="#a6b6f7"/><rect x="580" y="30" width="10" height="10" fill="#a7bbf8"/><rect x="590" y="30" width="10" height="10" fill="#a7bff8"/><rect x="600" y="30" width="10" height="10" fill="#a8c3f9"/><rect x="610" y="30" width="10" height="10" fill="#a8c5f9"/><rect x="660" y="30" width="10" height="10" fill="#a8d2f9"/><rect x="670" y="30" width="10" height="10" fill="#a8d6f9"/><rect x="680" y="30" width="10" height="10" fill="#a8daf9"/><rect x="690" y="30" width="10" height="10" fill="#a8dff9"/><rect x="700" y="30" width="10" height="10" fill="#a8e1f9"/><rect x="710" y="30" width="10" height="10" fill="#a8e2f9"/><rect x="720" y="30" width="10" height="10" fill="#a8e2f9"/><rect x="730" y="30" width="10" height="10" fill="#a8e1f9"/><rect x="740" y="30" width="10" height="10" fill="#a8def9"/><rect x="750" y="30" width="10" height="10" fill="#a8d9f9"/><rect x="780" y="30" width="10" height="10" fill="#a8cdf9"/><rect x="790" y="30" width="10" height="10" fill="#a8caf9"/><rect x="800" y="30" width="10" height="10" fill="#a8c8f9"/><rect x="810" y="30" width="10" height="10" fill="#a8c7f9"/><rect x="820" y="30" width="10" height="10" fill="#a8c6f9"/><rect x="830" y="30" width="10" height="10" fill="#a8c5f9"/><rect x="840" y="30" width="10" height="10" fill="#a8c5f9"/><rect x="850" y="30" width="10" height="10" fill="#a8c4f9"/><rect x="860" y="30" width="10" height="10" fill="#a8c4f9"/><rect x="870" y="30" width="10" height="10" fill="#a8c4f9"/><rect x="880" y="30" width="10" height="10" fill="#a8c4f9"/><rect x="890" y="30" width="10" height="10" fill="#a8c4f9"/><rect x="920" y="30" width="10" height="10" fill="#a8c3f9"/><rect x="930" y="30" width="10" height="10" fill="#a8c3f9"/><rect x="940" y="30" width="10" height="10" fill="#a8c2f9"/><rect x="950" y="30" width="10" height="10" fill="#a8c2f9"/><rect x="960" y="30" width="10" height="10" fill="#a8c1f9"/><rect x="970" y="30" width="10" height="10" fill="#a8c1f9"/><rect x="980" y="30" width="10" height="10" fill="#a8c0f8"/><rect x="990" y="30" width="10" height="10" fill="#a7bff8"/><rect x="1000" y="30" width="10" height="10" fill="#a7bef8"/><rect x="1010" y="30" width="10" height="10" fill="#a7bdf8"/><rect x="1020" y="30" width="10" height="10" fill="#a7bcf8"/><rect x="1030" y="30" width="10" height="10" fill="#a7baf8"/><rect x="1040" y="30" width="10" height="10" fill="#a7b9f8"/><rect x="1050" y="30" width="10" height="10" fill="#a6b8f7"/><rect x="1110" y="30" width="10" height="10" fill="#a6b5f7"/><rect x="1120" y="30" width="10" height="10" fill="#a6b5f7"/><rect x="1130" y="30" width="10" height="10" fill="#a6b6f7"/><rect x="1140" y="30" width="10" height="10" fill="#a6b6f7"/><rect x="1150" y="30" width="10" height="10" fill="#a6b7f7"/><rect x="1160" y="30" width="10" height="10" fill="#a6b8f7"/><rect x="1170" y="30" width="10" height="10" fill="#a7b9f8"/><rect x="0" y="40" width="10" height="10" fill="#a8cff9"/><rect x="10" y="40" width="10" height="10" fill="#a8cff9"/><rect x="20" y="40" width="10" height="10" fill="#a8cff9"/><rect x="80" y="40" width="10" height="10" fill="#a8cff9"/><rect x="90" y="40" width="10" height="10" fill="#a8cff9"/><rect x="100" y="40" width="10" height="10" fill="#a8cff9"/><rect x="110" y="40" width="10" height="10" fill="#a8cff9"/><rect x="190" y="40" width="10" height="10" fill="#a8cff9"/><rect x="200" y="40" width="10" height="10" fill="#a8cff9"/><rect x="210" y="40" width="10" height="10" fill="#a8cff9"/><rect x="220" y="40" width="10" height="10" fill="#a8cff9"/><rect x="230" y="40" width="10" height="10" fill="#a8cff9"/><rect x="240" y="40" width="10" height="10" fill="#a8cff9"/><rect x="250" y="40" width="10" height="10" fill="#a8cff9"/><rect x="260" y="40" width="10" height="10" fill="#a8cff9"/><rect x="270" y="40" width="10" height="10" fill="#a8cff9"/><rect x="280" y="40" width="10" height="10" fill="#a8cff9"/><rect x="290" y="40" width="10" height="10" fill="#a8cff9"/><rect x="300" y="40" width="10" height="10" fill="#a8cff9"/><rect x="310" y="40" width="10" height="10" fill="#a8cff9"/><rect x="320" y="40" width="10" height="10" fill="#a8cff9"/><rect x="330" y="40" width="10" height="10" fill="#a8cff9"/><rect x="340" y="40" width="10" height="10" fill="#a8cff9"/><rect x="350" y="40" width="10" height="10" fill="#a8cff9"/><rect x="360" y="40" width="10" height="10" fill="#a8cff9"/><rect x="370" y="40" width="10" height="10" fill="#a8cff9"/><rect x="380" y="40" width="10" height="10" fill="#a8cff9"/><rect x="390" y="40" width="10" height="10" fill="#a8cff9"/><rect x="400" y="40" width="10" height="10" fill="#a8cef9"/><rect x="410" y="40" width="10" height="10" fill="#a8cef9"/><rect x="420" y="40" width="10" height="10" fill="#a8ccf9"/><rect x="430" y="40" width="10" height="10" fill="#a8caf9"/><rect x="440" y="40" width="10" height="10" fill="#a8c8f9"/><rect x="450" y="40" width="10" height="10" fill="#a8c5f9"/><rect x="460" y="40" width="10" height="10" fill="#a8c0f9"/><rect x="470" y="40" width="10" height="10" fill="#a7baf8"/><rect x="480" y="40" width="10" height="10" fill="#a6b5f7"/><rect x="490" y="40" width="10" height="10" fill="#a7b2f7"/><rect x="500" y="40" width="10" height="10" fill="#a8b0f7"/><rect x="510" y="40" width="10" height="10" fill="#a8aff7"/><rect x="520" y="40" width="10" height="10" fill="#a8aff7"/><rect x="530" y="40" width="10" height="10" fill="#a7b1f7"/><rect x="540" y="40" width="10" height="10" fill="#a7b4f7"/><rect x="550" y="40" width="10" height="10" fill="#a6b8f7"/><rect x="560" y="40" width="10" height="10" fill="#a7bef8"/><rect x="570" y="40" width="10" height="10" fill="#a8c4f9"/><rect x="580" y="40" width="10" height="10" fill="#a8c9f9"/><rect x="590" y="40" width="10" height="10" fill="#a8cdf9"/><rect x="600" y="40" width="10" height="10" fill="#a8d0f9"/><rect x="660" y="40" width="10" height="10" fill="#a8e2f9"/><rect x="670" y="40" width="10" height="10" fill="#a8e5f9"/><rect x="680" y="40" width="10" height="10" fill="#a6e8f9"/><rect x="690" y="40" width="10" height="10" fill="#a5eaf9"/><rect x="700" y="40" width="10" height="10" fill="#a4ebf9"/><rect x="710" y="40" width="10" height="10" fill="#a4ecf9"/><rect x="720" y="40" width="10" height="10" fill="#a4ecf9"/><rect x="730" y="40" width="10" height="10" fill="#a4ebf9"/><rect x="740" y="40" width="10" height="10" fill="#a5e9f9"/><rect x="750" y="40" width="10" height="10" fill="#a7e7f9"/><rect x="780" y="40" width="10" height="10" fill="#a8ddf9"/><rect x="790" y="40" width="10" height="10" fill="#a8d9f9"/><rect x="800" y="40" width="10" height="10" fill="#a8d7f9"/><rect x="810" y="40" width="10" height="10" fill="#a8d5f9"/><rect x="820" y="40" width="10" height="10" fill="#a8d4f9"/><rect x="830" y="40" width="10" height="10" fill="#a8d3f9"/><rect x="840" y="40" width="10" height="10" fill="#a8d2f9"/><rect x="850" y="40" width="10" height="10" fill="#a8d2f9"/><rect x="860" y="40" width="10" height="10" fill="#a8d1f9"/><rect x="870" y="40" width="10" height="10" fill="#a8d1f9"/><rect x="880" y="40" width="10" height="10" fill="#a8d0f9"/><rect x="890" y="40" width="10" height="10" fill="#a8d0f9"/><rect x="900" y="40" width="10" height="10" fill="#a8d0f9"/><rect x="910" y="40" width="10" height="10" fill="#a8cff9"/><rect x="920" y="40" width="10" height="10" fill="#a8cff9"/><rect x="930" y="40" width="10" height="10" fill="#a8cff9"/><rect x="940" y="40" width="10" height="10" fill="#a8cef9"/><rect x="950" y="40" width="10" height="10" fill="#a8cef9"/><rect x="960" y="40" width="10" height="10" fill="#a8cdf9"/><rect x="970" y="40" width="10" height="10" fill="#a8ccf9"/><rect x="980" y="40" width="10" height="10" fill="#a8cbf9"/><rect x="990" y="40" width="10" height="10" fill="#a8caf9"/><rect x="1000" y="40" width="10" height="10" fill="#a8c9f9"/><rect x="1010" y="40" width="10" height="10" fill="#a8c7f9"/><rect x="1020" y="40" width="10" height="10" fill="#a8c6f9"/><rect x="1030" y="40" width="10" height="10" fill="#a8c4f9"/><rect x="1040" y="40" width="10" height="10" fill="#a8c3f9"/><rect x="1050" y="40" width="10" height="10" fill="#a8c1f9"/><rect x="1060" y="40" width="10" height="10" fill="#a7bff8"/><rect x="1070" y="40" width="10" height="10" fill="#a7bef8"/><rect x="1080" y="40" width="10" height="10" fill="#a7bcf8"/><rect x="1090" y="40" width="10" height="10" fill="#a7bcf8"/><rect x="1100" y="40" width="10" height="10" fill="#a7bbf8"/><rect x="1110" y="40" width="10" height="10" fill="#a7bbf8"/><rect x="1120" y="40" width="10" height="10" fill="#a7bcf8"/><rect x="1130" y="40" width="10" height="10" fill="#a7bcf8"/><rect x="1140" y="40" width="10" height="10" fill="#a7bef8"/><rect x="1150" y="40" width="10" height="10" fill="#a7bff8"/><rect x="1160" y="40" width="10" height="10" fill="#a8c1f9"/><rect x="1170" y="40" width="10" height="10" fill="#a8c3f9"/><rect x="1180" y="40" width="10" height="10" fill="#a8c4f9"/><rect x="0" y="50" width="10" height="10" fill="#a8ddf9"/><rect x="10" y="50" width="10" height="10" fill="#a8ddf9"/><rect x="20" y="50" width="10" height="10" fill="#a8ddf9"/><rect x="30" y="50" width="10" height="10" fill="#a8ddf9"/><rect x="50" y="50" width="10" height="10" fill="#a8ddf9"/><rect x="60" y="50" width="10" height="10" fill="#a8ddf9"/><rect x="70" y="50" width="10" height="10" fill="#a8ddf9"/><rect x="80" y="50" width="10" height="10" fill="#a8ddf9"/><rect x="90" y="50" width="10" height="10" fill="#a8ddf9"/><rect x="100" y="50" width="10" height="10" fill="#a8ddf9"/><rect x="110" y="50" width="10" height="10" fill="#a8ddf9"/><rect x="120" y="50" width="10" height="10" fill="#a8ddf9"/><rect x="130" y="50" width="10" height="10" fill="#a8ddf9"/><rect x="140" y="50" width="10" height="10" fill="#a8ddf9"/><rect x="150" y="50" width="10" height="10" fill="#a8ddf9"/><rect x="160" y="50" width="10" height="10" fill="#a8ddf9"/><rect x="170" y="50" width="10" height="10" fill="#a8ddf9"/><rect x="180" y="50" width="10" height="10" fill="#a8ddf9"/><rect x="190" y="50" width="10" height="10" fill="#a8ddf9"/><rect x="200" y="50" width="10" height="10" fill="#a8ddf9"/><rect x="210" y="50" width="10" height="10" fill="#a8ddf9"/><rect x="220" y="50" width="10" height="10" fill="#a8ddf9"/><rect x="230" y="50" width="10" height="10" fill="#a8ddf9"/><rect x="240" y="50" width="10" height="10" fill="#a8ddf9"/><rect x="250" y="50" width="10" height="10" fill="#a8ddf9"/><rect x="260" y="50" width="10" height="10" fill="#a8ddf9"/><rect x="270" y="50" width="10" height="10" fill="#a8ddf9"/><rect x="280" y="50" width="10" height="10" fill="#a8ddf9"/><rect x="290" y="50" width="10" height="10" fill="#a8ddf9"/><rect x="300" y="50" width="10" height="10" fill="#a8ddf9"/><rect x="310" y="50" width="10" height="10" fill="#a8ddf9"/><rect x="320" y="50" width="10" height="10" fill="#a8ddf9"/><rect x="330" y="50" width="10" height="10" fill="#a8ddf9"/><rect x="340" y="50" width="10" height="10" fill="#a8ddf9"/><rect x="350" y="50" width="10" height="10" fill="#a8ddf9"/><rect x="360" y="50" width="10" height="10" fill="#a8ddf9"/><rect x="370" y="50" width="10" height="10" fill="#a8ddf9"/><rect x="380" y="50" width="10" height="10" fill="#a8ddf9"/><rect x="390" y="50" width="10" height="10" fill="#a8ddf9"/><rect x="400" y="50" width="10" height="10" fill="#a8dcf9"/><rect x="410" y="50" width="10" height="10" fill="#a8dbf9"/><rect x="420" y="50" width="10" height="10" fill="#a8d9f9"/><rect x="430" y="50" width="10" height="10" fill="#a8d7f9"/><rect x="440" y="50" width="10" height="10" fill="#a8d4f9"/><rect x="450" y="50" width="10" height="10" fill="#a8d0f9"/><rect x="460" y="50" width="10" height="10" fill="#a8ccf9"/><rect x="470" y="50" width="10" height="10" fill="#a8c8f9"/><rect x="480" y="50" width="10" height="10" fill="#a8c3f9"/><rect x="490" y="50" width="10" height="10" fill="#a7bef8"/><rect x="500" y="50" width="10" height="10" fill="#a7bbf8"/><rect x="510" y="50" width="10" height="10" fill="#a7b9f7"/><rect x="520" y="50" width="10" height="10" fill="#a7baf8"/><rect x="530" y="50" width="10" height="10" fill="#a7bdf8"/><rect x="540" y="50" width="10" height="10" fill="#a8c2f9"/><rect x="550" y="50" width="10" height="10" fill="#a8c7f9"/><rect x="560" y="50" width="10" height="10" fill="#a8ccf9"/><rect x="570" y="50" width="10" height="10" fill="#a8d2f9"/><rect x="580" y="50" width="10" height="10" fill="#a8d7f9"/><rect x="670" y="50" width="10" height="10" fill="#a4edf9"/><rect x="680" y="50" width="10" height="10" fill="#a4eff9"/><rect x="690" y="50" width="10" height="10" fill="#a4f1f8"/><rect x="700" y="50" width="10" height="10" fill="#a4f2f7"/><rect x="710" y="50" width="10" height="10" fill="#a4f3f6"/><rect x="720" y="50" width="10" height="10" fill="#a4f3f6"/><rect x="730" y="50" width="10" height="10" fill="#a4f2f7"/><rect x="740" y="50" width="10" height="10" fill="#a4f0f9"/><rect x="750" y="50" width="10" height="10" fill="#a4eef9"/><rect x="760" y="50" width="10" height="10" fill="#a4ecf9"/><rect x="770" y="50" width="10" height="10" fill="#a5eaf9"/><rect x="780" y="50" width="10" height="10" fill="#a6e8f9"/><rect x="790" y="50" width="10" height="10" fill="#a7e6f9"/><rect x="800" y="50" width="10" height="10" fill="#a8e5f9"/><rect x="810" y="50" width="10" height="10" fill="#a8e3f9"/><rect x="820" y="50" width="10" height="10" fill="#a8e2f9"/><rect x="830" y="50" width="10" height="10" fill="#a8e2f9"/><rect x="840" y="50" width="10" height="10" fill="#a8e1f9"/><rect x="850" y="50" width="10" height="10" fill="#a8e0f9"/><rect x="860" y="50" width="10" height="10" fill="#a8e0f9"/><rect x="870" y="50" width="10" height="10" fill="#a8dff9"/><rect x="880" y="50" width="10" height="10" fill="#a8dff9"/><rect x="890" y="50" width="10" height="10" fill="#a8dff9"/><rect x="900" y="50" width="10" height="10" fill="#a8def9"/><rect x="910" y="50" width="10" height="10" fill="#a8ddf9"/><rect x="920" y="50" width="10" height="10" fill="#a8ddf9"/><rect x="930" y="50" width="10" height="10" fill="#a8dcf9"/><rect x="940" y="50" width="10" height="10" fill="#a8dbf9"/><rect x="950" y="50" width="10" height="10" fill="#a8daf9"/><rect x="960" y="50" width="10" height="10" fill="#a8d9f9"/><rect x="970" y="50" width="10" height="10" fill="#a8d7f9"/><rect x="980" y="50" width="10" height="10" fill="#a8d5f9"/><rect x="990" y="50" width="10" height="10" fill="#a8d3f9"/><rect x="1000" y="50" width="10" height="10" fill="#a8d2f9"/><rect x="1010" y="50" width="10" height="10" fill="#a8cff9"/><rect x="1020" y="50" width="10" height="10" fill="#a8cdf9"/><rect x="1030" y="50" width="10" height="10" fill="#a8cbf9"/><rect x="1040" y="50" width="10" height="10" fill="#a8c9f9"/><rect x="1050" y="50" width="10" height="10" fill="#a8c7f9"/><rect x="1060" y="50" width="10" height="10" fill="#a8c5f9"/><rect x="1070" y="50" width="10" height="10" fill="#a8c3f9"/><rect x="1080" y="50" width="10" height="10" fill="#a8c1f9"/><rect x="1090" y="50" width="10" height="10" fill="#a8c0f9"/><rect x="1100" y="50" width="10" height="10" fill="#a7bff8"/><rect x="1110" y="50" width="10" height="10" fill="#a7bff8"/><rect x="1120" y="50" width="10" height="10" fill="#a8c0f9"/><rect x="1130" y="50" width="10" height="10" fill="#a8c1f9"/><rect x="1140" y="50" width="10" height="10" fill="#a8c3f9"/><rect x="1150" y="50" width="10" height="10" fill="#a8c5f9"/><rect x="1160" y="50" width="10" height="10" fill="#a8c7f9"/><rect x="1170" y="50" width="10" height="10" fill="#a8c9f9"/><rect x="1180" y="50" width="10" height="10" fill="#a8cbf9"/><rect x="1190" y="50" width="10" height="10" fill="#a8cdf9"/><rect x="1200" y="50" width="10" height="10" fill="#a8cff9"/><rect x="1210" y="50" width="10" height="10" fill="#a8d1f9"/><rect x="1220" y="50" width="10" height="10" fill="#a8d3f9"/><rect x="1230" y="50" width="10" height="10" fill="#a8d5f9"/><rect x="1240" y="50" width="10" height="10" fill="#a8d7f9"/><rect x="1250" y="50" width="10" height="10" fill="#a8d8f9"/><rect x="1260" y="50" width="10" height="10" fill="#a8d9f9"/><rect x="1270" y="50" width="10" height="10" fill="#a8daf9"/><rect x="0" y="60" width="10" height="10" fill="#a7e7f9"/><rect x="10" y="60" width="10" height="10" fill="#a7e7f9"/><rect x="20" y="60" width="10" height="10" fill="#a7e7f9"/><rect x="30" y="60" width="10" height="10" fill="#a7e7f9"/><rect x="40" y="60" width="10" height="10" fill="#a7e7f9"/><rect x="50" y="60" width="10" height="10" fill="#a7e7f9"/><rect x="60" y="60" width="10" height="10" fill="#a7e7f9"/><rect x="70" y="60" width="10" height="10" fill="#a7e7f9"/><rect x="80" y="60" width="10" height="10" fill="#a7e7f9"/><rect x="90" y="60" width="10" height="10" fill="#a7e7f9"/><rect x="100" y="60" width="10" height="10" fill="#a7e7f9"/><rect x="110" y="60" width="10" height="10" fill="#a7e7f9"/><rect x="120" y="60" width="10" height="10" fill="#a7e7f9"/><rect x="130" y="60" width="10" height="10" fill="#a7e7f9"/><rect x="140" y="60" width="10" height="10" fill="#a7e7f9"/><rect x="150" y="60" width="10" height="10" fill="#a7e7f9"/><rect x="160" y="60" width="10" height="10" fill="#a7e7f9"/><rect x="170" y="60" width="10" height="10" fill="#a7e7f9"/><rect x="180" y="60" width="10" height="10" fill="#a7e7f9"/><rect x="190" y="60" width="10" height="10" fill="#a7e7f9"/><rect x="200" y="60" width="10" height="10" fill="#a7e7f9"/><rect x="210" y="60" width="10" height="10" fill="#a7e7f9"/><rect x="220" y="60" width="10" height="10" fill="#a7e7f9"/><rect x="230" y="60" width="10" height="10" fill="#a7e7f9"/><rect x="240" y="60" width="10" height="10" fill="#a7e7f9"/><rect x="250" y="60" width="10" height="10" fill="#a7e7f9"/><rect x="260" y="60" width="10" height="10" fill="#a7e7f9"/><rect x="270" y="60" width="10" height="10" fill="#a7e7f9"/><rect x="280" y="60" width="10" height="10" fill="#a7e7f9"/><rect x="290" y="60" width="10" height="10" fill="#a7e7f9"/><rect x="300" y="60" width="10" height="10" fill="#a7e7f9"/><rect x="310" y="60" width="10" height="10" fill="#a7e7f9"/><rect x="320" y="60" width="10" height="10" fill="#a7e7f9"/><rect x="330" y="60" width="10" height="10" fill="#a7e7f9"/><rect x="340" y="60" width="10" height="10" fill="#a7e7f9"/><rect x="350" y="60" width="10" height="10" fill="#a7e7f9"/><rect x="360" y="60" width="10" height="10" fill="#a7e7f9"/><rect x="370" y="60" width="10" height="10" fill="#a7e7f9"/><rect x="380" y="60" width="10" height="10" fill="#a7e7f9"/><rect x="390" y="60" width="10" height="10" fill="#a7e7f9"/><rect x="400" y="60" width="10" height="10" fill="#a7e7f9"/><rect x="410" y="60" width="10" height="10" fill="#a8e6f9"/><rect x="420" y="60" width="10" height="10" fill="#a8e5f9"/><rect x="430" y="60" width="10" height="10" fill="#a8e4f9"/><rect x="440" y="60" width="10" height="10" fill="#a8e2f9"/><rect x="450" y="60" width="10" height="10" fill="#a8dff9"/><rect x="460" y="60" width="10" height="10" fill="#a8dbf9"/><rect x="470" y="60" width="10" height="10" fill="#a8d7f9"/><rect x="480" y="60" width="10" height="10" fill="#a8d2f9"/><rect x="490" y="60" width="10" height="10" fill="#a8cff9"/><rect x="500" y="60" width="10" height="10" fill="#a8cdf9"/><rect x="510" y="60" width="10" height="10" fill="#a8ccf9"/><rect x="520" y="60" width="10" height="10" fill="#a8cdf9"/><rect x="530" y="60" width="10" height="10" fill="#a8cff9"/><rect x="540" y="60" width="10" height="10" fill="#a8d3f9"/><rect x="550" y="60" width="10" height="10" fill="#a8d8f9"/><rect x="560" y="60" width="10" height="10" fill="#a8dff9"/><rect x="570" y="60" width="10" height="10" fill="#a8e3f9"/><rect x="580" y="60" width="10" height="10" fill="#a7e7f9"/><rect x="590" y="60" width="10" height="10" fill="#a5e9f9"/><rect x="670" y="60" width="10" height="10" fill="#a5f5f3"/><rect x="680" y="60" width="10" height="10" fill="#a8f5f0"/><rect x="690" y="60" width="10" height="10" fill="#aaf5ed"/><rect x="700" y="60" width="10" height="10" fill="#abf5ec"/><rect x="710" y="60" width="10" height="10" fill="#acf5eb"/><rect x="720" y="60" width="10" height="10" fill="#abf5ec"/><rect x="730" y="60" width="10" height="10" fill="#a9f5ee"/><rect x="740" y="60" width="10" height="10" fill="#a7f5f1"/><rect x="750" y="60" width="10" height="10" fill="#a4f5f4"/><rect x="760" y="60" width="10" height="10" fill="#a4f3f6"/><rect x="770" y="60" width="10" height="10" fill="#a4f2f7"/><rect x="780" y="60" width="10" height="10" fill="#a4f0f9"/><rect x="790" y="60" width="10" height="10" fill="#a4eff9"/><rect x="800" y="60" width="10" height="10" fill="#a4edf9"/><rect x="810" y="60" width="10" height="10" fill="#a4edf9"/><rect x="820" y="60" width="10" height="10" fill="#a4ecf9"/><rect x="830" y="60" width="10" height="10" fill="#a4ebf9"/><rect x="840" y="60" width="10" height="10" fill="#a5eaf9"/><rect x="850" y="60" width="10" height="10" fill="#a5eaf9"/><rect x="860" y="60" width="10" height="10" fill="#a5e9f9"/><rect x="870" y="60" width="10" height="10" fill="#a6e9f9"/><rect x="880" y="60" width="10" height="10" fill="#a6e8f9"/><rect x="890" y="60" width="10" height="10" fill="#a6e8f9"/><rect x="900" y="60" width="10" height="10" fill="#a6e8f9"/><rect x="910" y="60" width="10" height="10" fill="#a7e7f9"/><rect x="920" y="60" width="10" height="10" fill="#a7e7f9"/><rect x="930" y="60" width="10" height="10" fill="#a7e6f9"/><rect x="940" y="60" width="10" height="10" fill="#a8e6f9"/><rect x="950" y="60" width="10" height="10" fill="#a8e5f9"/><rect x="960" y="60" width="10" height="10" fill="#a8e3f9"/><rect x="970" y="60" width="10" height="10" fill="#a8e2f9"/><rect x="980" y="60" width="10" height="10" fill="#a8e0f9"/><rect x="990" y="60" width="10" height="10" fill="#a8dff9"/><rect x="1000" y="60" width="10" height="10" fill="#a8dcf9"/><rect x="1010" y="60" width="10" height="10" fill="#a8d9f9"/><rect x="1020" y="60" width="10" height="10" fill="#a8d5f9"/><rect x="1030" y="60" width="10" height="10" fill="#a8d2f9"/><rect x="1040" y="60" width="10" height="10" fill="#a8cff9"/><rect x="1050" y="60" width="10" height="10" fill="#a8ccf9"/><rect x="1060" y="60" width="10" height="10" fill="#a8caf9"/><rect x="1070" y="60" width="10" height="10" fill="#a8c7f9"/><rect x="1080" y="60" width="10" height="10" fill="#a8c6f9"/><rect x="1090" y="60" width="10" height="10" fill="#a8c4f9"/><rect x="1100" y="60" width="10" height="10" fill="#a8c4f9"/><rect x="1110" y="60" width="10" height="10" fill="#a8c4f9"/><rect x="1120" y="60" width="10" height="10" fill="#a8c4f9"/><rect x="1130" y="60" width="10" height="10" fill="#a8c6f9"/><rect x="1140" y="60" width="10" height="10" fill="#a8c7f9"/><rect x="1150" y="60" width="10" height="10" fill="#a8caf9"/><rect x="1160" y="60" width="10" height="10" fill="#a8ccf9"/><rect x="1170" y="60" width="10" height="10" fill="#a8cff9"/><rect x="1180" y="60" width="10" height="10" fill="#a8d2f9"/><rect x="1190" y="60" width="10" height="10" fill="#a8d5f9"/><rect x="1200" y="60" width="10" height="10" fill="#a8d8f9"/><rect x="1210" y="60" width="10" height="10" fill="#a8dcf9"/><rect x="1220" y="60" width="10" height="10" fill="#a8dff9"/><rect x="1230" y="60" width="10" height="10" fill="#a8e0f9"/><rect x="1240" y="60" width="10" height="10" fill="#a8e2f9"/><rect x="1250" y="60" width="10" height="10" fill="#a8e3f9"/><rect x="1260" y="60" width="10" height="10" fill="#a8e4f9"/><rect x="1270" y="60" width="10" height="10" fill="#a8e5f9"/><rect x="0" y="70" width="10" height="10" fill="#a4edf9"/><rect x="10" y="70" width="10" height="10" fill="#a4edf9"/><rect x="20" y="70" width="10" height="10" fill="#a4edf9"/><rect x="30" y="70" width="10" height="10" fill="#a4edf9"/><rect x="40" y="70" width="10" height="10" fill="#a4edf9"/><rect x="50" y="70" width="10" height="10" fill="#a4edf9"/><rect x="60" y="70" width="10" height="10" fill="#a4edf9"/><rect x="70" y="70" width="10" height="10" fill="#a4edf9"/><rect x="80" y="70" width="10" height="10" fill="#a4edf9"/><rect x="90" y="70" width="10" height="10" fill="#a4edf9"/><rect x="100" y="70" width="10" height="10" fill="#a4edf9"/><rect x="110" y="70" width="10" height="10" fill="#a4edf9"/><rect x="120" y="70" width="10" height="10" fill="#a4edf9"/><rect x="130" y="70" width="10" height="10" fill="#a4edf9"/><rect x="140" y="70" width="10" height="10" fill="#a4edf9"/><rect x="150" y="70" width="10" height="10" fill="#a4edf9"/><rect x="160" y="70" width="10" height="10" fill="#a4edf9"/><rect x="170" y="70" width="10" height="10" fill="#a4edf9"/><rect x="180" y="70" width="10" height="10" fill="#a4edf9"/><rect x="190" y="70" width="10" height="10" fill="#a4edf9"/><rect x="200" y="70" width="10" height="10" fill="#a4edf9"/><rect x="210" y="70" width="10" height="10" fill="#a4edf9"/><rect x="220" y="70" width="10" height="10" fill="#a4edf9"/><rect x="230" y="70" width="10" height="10" fill="#a4edf9"/><rect x="240" y="70" width="10" height="10" fill="#a4edf9"/><rect x="250" y="70" width="10" height="10" fill="#a4edf9"/><rect x="260" y="70" width="10" height="10" fill="#a4edf9"/><rect x="270" y="70" width="10" height="10" fill="#a4edf9"/><rect x="280" y="70" width="10" height="10" fill="#a4edf9"/><rect x="290" y="70" width="10" height="10" fill="#a4edf9"/><rect x="300" y="70" width="10" height="10" fill="#a4edf9"/><rect x="310" y="70" width="10" height="10" fill="#a4edf9"/><rect x="320" y="70" width="10" height="10" fill="#a4edf9"/><rect x="330" y="70" width="10" height="10" fill="#a4edf9"/><rect x="340" y="70" width="10" height="10" fill="#a4edf9"/><rect x="350" y="70" width="10" height="10" fill="#a4edf9"/><rect x="360" y="70" width="10" height="10" fill="#a4edf9"/><rect x="370" y="70" width="10" height="10" fill="#a4edf9"/><rect x="380" y="70" width="10" height="10" fill="#a4edf9"/><rect x="390" y="70" width="10" height="10" fill="#a4edf9"/><rect x="400" y="70" width="10" height="10" fill="#a4edf9"/><rect x="410" y="70" width="10" height="10" fill="#a4edf9"/><rect x="420" y="70" width="10" height="10" fill="#a4ecf9"/><rect x="430" y="70" width="10" height="10" fill="#a4ebf9"/><rect x="440" y="70" width="10" height="10" fill="#a5eaf9"/><rect x="450" y="70" width="10" height="10" fill="#a6e9f9"/><rect x="460" y="70" width="10" height="10" fill="#a7e7f9"/><rect x="470" y="70" width="10" height="10" fill="#a8e6f9"/><rect x="480" y="70" width="10" height="10" fill="#a8e3f9"/><rect x="490" y="70" width="10" height="10" fill="#a8e1f9"/><rect x="500" y="70" width="10" height="10" fill="#a8e0f9"/><rect x="510" y="70" width="10" height="10" fill="#a8e0f9"/><rect x="520" y="70" width="10" height="10" fill="#a8e1f9"/><rect x="530" y="70" width="10" height="10" fill="#a8e3f9"/><rect x="540" y="70" width="10" height="10" fill="#a8e6f9"/><rect x="550" y="70" width="10" height="10" fill="#a5eaf9"/><rect x="560" y="70" width="10" height="10" fill="#a4eef9"/><rect x="570" y="70" width="10" height="10" fill="#a4f2f7"/><rect x="580" y="70" width="10" height="10" fill="#a4f4f5"/><rect x="590" y="70" width="10" height="10" fill="#a4f5f4"/><rect x="600" y="70" width="10" height="10" fill="#a5f5f3"/><rect x="660" y="70" width="10" height="10" fill="#b3f5e3"/><rect x="670" y="70" width="10" height="10" fill="#b5f5e1"/><rect x="680" y="70" width="10" height="10" fill="#b6f5e0"/><rect x="690" y="70" width="10" height="10" fill="#b7f5df"/><rect x="700" y="70" width="10" height="10" fill="#b8f5de"/><rect x="710" y="70" width="10" height="10" fill="#b8f5de"/><rect x="720" y="70" width="10" height="10" fill="#b7f5df"/><rect x="730" y="70" width="10" height="10" fill="#b5f5e1"/><rect x="740" y="70" width="10" height="10" fill="#b3f5e3"/><rect x="750" y="70" width="10" height="10" fill="#b1f5e5"/><rect x="760" y="70" width="10" height="10" fill="#aef5e8"/><rect x="770" y="70" width="10" height="10" fill="#acf5eb"/><rect x="780" y="70" width="10" height="10" fill="#a9f5ee"/><rect x="790" y="70" width="10" height="10" fill="#a7f5f1"/><rect x="800" y="70" width="10" height="10" fill="#a4f5f4"/><rect x="810" y="70" width="10" height="10" fill="#a4f4f5"/><rect x="820" y="70" width="10" height="10" fill="#a4f3f6"/><rect x="830" y="70" width="10" height="10" fill="#a4f3f6"/><rect x="840" y="70" width="10" height="10" fill="#a4f2f7"/><rect x="850" y="70" width="10" height="10" fill="#a4f1f8"/><rect x="860" y="70" width="10" height="10" fill="#a4f0f8"/><rect x="870" y="70" width="10" height="10" fill="#a4f0f9"/><rect x="880" y="70" width="10" height="10" fill="#a4eff9"/><rect x="890" y="70" width="10" height="10" fill="#a4eff9"/><rect x="900" y="70" width="10" height="10" fill="#a4eef9"/><rect x="910" y="70" width="10" height="10" fill="#a4eef9"/><rect x="920" y="70" width="10" height="10" fill="#a4edf9"/><rect x="930" y="70" width="10" height="10" fill="#a4ecf9"/><rect x="940" y="70" width="10" height="10" fill="#a4ecf9"/><rect x="950" y="70" width="10" height="10" fill="#a4ebf9"/><rect x="960" y="70" width="10" height="10" fill="#a5eaf9"/><rect x="970" y="70" width="10" height="10" fill="#a6e9f9"/><rect x="980" y="70" width="10" height="10" fill="#a7e7f9"/><rect x="990" y="70" width="10" height="10" fill="#a8e6f9"/><rect x="1000" y="70" width="10" height="10" fill="#a8e3f9"/><rect x="1010" y="70" width="10" height="10" fill="#a8e1f9"/><rect x="1020" y="70" width="10" height="10" fill="#a8def9"/><rect x="1030" y="70" width="10" height="10" fill="#a8daf9"/><rect x="1040" y="70" width="10" height="10" fill="#a8d6f9"/><rect x="1050" y="70" width="10" height="10" fill="#a8d2f9"/><rect x="1060" y="70" width="10" height="10" fill="#a8cff9"/><rect x="1070" y="70" width="10" height="10" fill="#a8ccf9"/><rect x="1080" y="70" width="10" height="10" fill="#a8caf9"/><rect x="1090" y="70" width="10" height="10" fill="#a8c9f9"/><rect x="1100" y="70" width="10" height="10" fill="#a8c8f9"/><rect x="1110" y="70" width="10" height="10" fill="#a8c8f9"/><rect x="1120" y="70" width="10" height="10" fill="#a8c9f9"/><rect x="1130" y="70" width="10" height="10" fill="#a8caf9"/><rect x="1140" y="70" width="10" height="10" fill="#a8ccf9"/><rect x="1150" y="70" width="10" height="10" fill="#a8cff9"/><rect x="1160" y="70" width="10" height="10" fill="#a8d2f9"/><rect x="1170" y="70" width="10" height="10" fill="#a8d6f9"/><rect x="1180" y="70" width="10" height="10" fill="#a8daf9"/><rect x="1190" y="70" width="10" height="10" fill="#a8def9"/><rect x="1200" y="70" width="10" height="10" fill="#a8e1f9"/><rect x="1210" y="70" width="10" height="10" fill="#a8e3f9"/><rect x="1220" y="70" width="10" height="10" fill="#a8e6f9"/><rect x="1230" y="70" width="10" height="10" fill="#a7e7f9"/><rect x="1240" y="70" width="10" height="10" fill="#a6e8f9"/><rect x="1250" y="70" width="10" height="10" fill="#a5e9f9"/><rect x="1260" y="70" width="10" height="10" fill="#a5eaf9"/><rect x="1270" y="70" width="10" height="10" fill="#a4ebf9"/><rect x="0" y="80" width="10" height="10" fill="#a4f3f6"/><rect x="10" y="80" width="10" height="10" fill="#a4f3f6"/><rect x="20" y="80" width="10" height="10" fill="#a4f3f6"/><rect x="30" y="80" width="10" height="10" fill="#a4f3f6"/><rect x="40" y="80" width="10" height="10" fill="#a4f3f6"/><rect x="50" y="80" width="10" height="10" fill="#a4f3f6"/><rect x="60" y="80" width="10" height="10" fill="#a4f3f6"/><rect x="70" y="80" width="10" height="10" fill="#a4f3f6"/><rect x="80" y="80" width="10" height="10" fill="#a4f3f6"/><rect x="90" y="80" width="10" height="10" fill="#a4f3f6"/><rect x="100" y="80" width="10" height="10" fill="#a4f3f6"/><rect x="110" y="80" width="10" height="10" fill="#a4f3f6"/><rect x="120" y="80" width="10" height="10" fill="#a4f3f6"/><rect x="130" y="80" width="10" height="10" fill="#a4f3f6"/><rect x="140" y="80" width="10" height="10" fill="#a4f3f6"/><rect x="150" y="80" width="10" height="10" fill="#a4f3f6"/><rect x="160" y="80" width="10" height="10" fill="#a4f3f6"/><rect x="170" y="80" width="10" height="10" fill="#a4f3f6"/><rect x="180" y="80" width="10" height="10" fill="#a4f3f6"/><rect x="190" y="80" width="10" height="10" fill="#a4f3f6"/><rect x="200" y="80" width="10" height="10" fill="#a4f3f6"/><rect x="210" y="80" width="10" height="10" fill="#a4f3f6"/><rect x="220" y="80" width="10" height="10" fill="#a4f3f6"/><rect x="230" y="80" width="10" height="10" fill="#a4f3f6"/><rect x="240" y="80" width="10" height="10" fill="#a4f3f6"/><rect x="250" y="80" width="10" height="10" fill="#a4f3f6"/><rect x="260" y="80" width="10" height="10" fill="#a4f3f6"/><rect x="270" y="80" width="10" height="10" fill="#a4f3f6"/><rect x="280" y="80" width="10" height="10" fill="#a4f3f6"/><rect x="290" y="80" width="10" height="10" fill="#a4f3f6"/><rect x="300" y="80" width="10" height="10" fill="#a4f3f6"/><rect x="310" y="80" width="10" height="10" fill="#a4f3f6"/><rect x="320" y="80" width="10" height="10" fill="#a4f3f6"/><rect x="330" y="80" width="10" height="10" fill="#a4f3f6"/><rect x="340" y="80" width="10" height="10" fill="#a4f3f6"/><rect x="350" y="80" width="10" height="10" fill="#a4f3f6"/><rect x="360" y="80" width="10" height="10" fill="#a4f3f6"/><rect x="370" y="80" width="10" height="10" fill="#a4f3f6"/><rect x="380" y="80" width="10" height="10" fill="#a4f3f6"/><rect x="390" y="80" width="10" height="10" fill="#a4f3f6"/><rect x="400" y="80" width="10" height="10" fill="#a4f3f6"/><rect x="410" y="80" width="10" height="10" fill="#a4f2f6"/><rect x="420" y="80" width="10" height="10" fill="#a4f2f7"/><rect x="430" y="80" width="10" height="10" fill="#a4f2f7"/><rect x="440" y="80" width="10" height="10" fill="#a4f1f8"/><rect x="450" y="80" width="10" height="10" fill="#a4f0f9"/><rect x="460" y="80" width="10" height="10" fill="#a4eff9"/><rect x="470" y="80" width="10" height="10" fill="#a4eef9"/><rect x="480" y="80" width="10" height="10" fill="#a4edf9"/><rect x="490" y="80" width="10" height="10" fill="#a4edf9"/><rect x="500" y="80" width="10" height="10" fill="#a4ecf9"/><rect x="510" y="80" width="10" height="10" fill="#a4ecf9"/><rect x="520" y="80" width="10" height="10" fill="#a4edf9"/><rect x="530" y="80" width="10" height="10" fill="#a4eff9"/><rect x="540" y="80" width="10" height="10" fill="#a4f2f7"/><rect x="550" y="80" width="10" height="10" fill="#abf5eb"/><rect x="560" y="80" width="10" height="10" fill="#bcf6da"/><rect x="570" y="80" width="10" height="10" fill="#c8f7cf"/><rect x="580" y="80" width="10" height="10" fill="#c6f7d0"/><rect x="590" y="80" width="10" height="10" fill="#bef6d8"/><rect x="600" y="80" width="10" height="10" fill="#b9f5dd"/><rect x="610" y="80" width="10" height="10" fill="#b9f5dd"/><rect x="640" y="80" width="10" height="10" fill="#c0f6d7"/><rect x="650" y="80" width="10" height="10" fill="#c1f7d5"/><rect x="660" y="80" width="10" height="10" fill="#c3f7d3"/><rect x="670" y="80" width="10" height="10" fill="#c4f7d2"/><rect x="680" y="80" width="10" height="10" fill="#c5f7d2"/><rect x="690" y="80" width="10" height="10" fill="#c5f7d1"/><rect x="700" y="80" width="10" height="10" fill="#c5f7d1"/><rect x="710" y="80" width="10" height="10" fill="#c4f7d2"/><rect x="720" y="80" width="10" height="10" fill="#c3f7d3"/><rect x="730" y="80" width="10" height="10" fill="#c2f7d4"/><rect x="740" y="80" width="10" height="10" fill="#c0f6d6"/><rect x="750" y="80" width="10" height="10" fill="#bef6d8"/><rect x="760" y="80" width="10" height="10" fill="#bcf6db"/><rect x="770" y="80" width="10" height="10" fill="#b9f5dd"/><rect x="780" y="80" width="10" height="10" fill="#b7f5e0"/><rect x="790" y="80" width="10" height="10" fill="#b4f5e2"/><rect x="800" y="80" width="10" height="10" fill="#b2f5e4"/><rect x="810" y="80" width="10" height="10" fill="#b0f5e6"/><rect x="820" y="80" width="10" height="10" fill="#aef5e9"/><rect x="830" y="80" width="10" height="10" fill="#acf5eb"/><rect x="840" y="80" width="10" height="10" fill="#aaf5ed"/><rect x="850" y="80" width="10" height="10" fill="#a8f5ef"/><rect x="860" y="80" width="10" height="10" fill="#a7f5f1"/><rect x="870" y="80" width="10" height="10" fill="#a5f5f3"/><rect x="880" y="80" width="10" height="10" fill="#a4f5f4"/><rect x="890" y="80" width="10" height="10" fill="#a4f4f4"/><rect x="900" y="80" width="10" height="10" fill="#a4f4f5"/><rect x="910" y="80" width="10" height="10" fill="#a4f3f6"/><rect x="920" y="80" width="10" height="10" fill="#a4f3f6"/><rect x="930" y="80" width="10" height="10" fill="#a4f2f7"/><rect x="940" y="80" width="10" height="10" fill="#a4f1f8"/><rect x="950" y="80" width="10" height="10" fill="#a4f0f9"/><rect x="960" y="80" width="10" height="10" fill="#a4eff9"/><rect x="970" y="80" width="10" height="10" fill="#a4eef9"/><rect x="980" y="80" width="10" height="10" fill="#a4ecf9"/><rect x="990" y="80" width="10" height="10" fill="#a4ebf9"/><rect x="1000" y="80" width="10" height="10" fill="#a6e9f9"/><rect x="1010" y="80" width="10" height="10" fill="#a7e7f9"/><rect x="1020" y="80" width="10" height="10" fill="#a8e5f9"/><rect x="1030" y="80" width="10" height="10" fill="#a8e2f9"/><rect x="1040" y="80" width="10" height="10" fill="#a8dff9"/><rect x="1050" y="80" width="10" height="10" fill="#a8dbf9"/><rect x="1060" y="80" width="10" height="10" fill="#a8d8f9"/><rect x="1070" y="80" width="10" height="10" fill="#a8d4f9"/><rect x="1080" y="80" width="10" height="10" fill="#a8d2f9"/><rect x="1090" y="80" width="10" height="10" fill="#a8d1f9"/><rect x="1100" y="80" width="10" height="10" fill="#a8d0f9"/><rect x="1110" y="80" width="10" height="10" fill="#a8d0f9"/><rect x="1120" y="80" width="10" height="10" fill="#a8d1f9"/><rect x="1130" y="80" width="10" height="10" fill="#a8d2f9"/><rect x="1140" y="80" width="10" height="10" fill="#a8d4f9"/><rect x="1150" y="80" width="10" height="10" fill="#a8d8f9"/><rect x="1160" y="80" width="10" height="10" fill="#a8dbf9"/><rect x="1170" y="80" width="10" height="10" fill="#a8dff9"/><rect x="1180" y="80" width="10" height="10" fill="#a8e2f9"/><rect x="1190" y="80" width="10" height="10" fill="#a8e5f9"/><rect x="1200" y="80" width="10" height="10" fill="#a7e7f9"/><rect x="1210" y="80" width="10" height="10" fill="#a6e9f9"/><rect x="1220" y="80" width="10" height="10" fill="#a4ebf9"/><rect x="1230" y="80" width="10" height="10" fill="#a4ecf9"/><rect x="1240" y="80" width="10" height="10" fill="#a4edf9"/><rect x="1250" y="80" width="10" height="10" fill="#a4eff9"/><rect x="1260" y="80" width="10" height="10" fill="#a4f0f9"/><rect x="1270" y="80" width="10" height="10" fill="#a4f0f9"/><rect x="0" y="90" width="10" height="10" fill="#aaf5ed"/><rect x="10" y="90" width="10" height="10" fill="#aaf5ed"/><rect x="20" y="90" width="10" height="10" fill="#aaf5ed"/><rect x="30" y="90" width="10" height="10" fill="#aaf5ed"/><rect x="40" y="90" width="10" height="10" fill="#aaf5ed"/><rect x="50" y="90" width="10" height="10" fill="#aaf5ed"/><rect x="60" y="90" width="10" height="10" fill="#aaf5ed"/><rect x="70" y="90" width="10" height="10" fill="#aaf5ed"/><rect x="80" y="90" width="10" height="10" fill="#aaf5ed"/><rect x="90" y="90" width="10" height="10" fill="#aaf5ed"/><rect x="100" y="90" width="10" height="10" fill="#aaf5ed"/><rect x="110" y="90" width="10" height="10" fill="#aaf5ed"/><rect x="120" y="90" width="10" height="10" fill="#aaf5ed"/><rect x="130" y="90" width="10" height="10" fill="#aaf5ed"/><rect x="140" y="90" width="10" height="10" fill="#aaf5ed"/><rect x="150" y="90" width="10" height="10" fill="#aaf5ed"/><rect x="160" y="90" width="10" height="10" fill="#aaf5ed"/><rect x="170" y="90" width="10" height="10" fill="#aaf5ed"/><rect x="180" y="90" width="10" height="10" fill="#aaf5ed"/><rect x="190" y="90" width="10" height="10" fill="#aaf5ed"/><rect x="200" y="90" width="10" height="10" fill="#aaf5ed"/><rect x="210" y="90" width="10" height="10" fill="#a9f5ee"/><rect x="220" y="90" width="10" height="10" fill="#a9f5ee"/><rect x="230" y="90" width="10" height="10" fill="#a9f5ee"/><rect x="240" y="90" width="10" height="10" fill="#a9f5ee"/><rect x="250" y="90" width="10" height="10" fill="#a9f5ee"/><rect x="260" y="90" width="10" height="10" fill="#a9f5ee"/><rect x="270" y="90" width="10" height="10" fill="#a9f5ee"/><rect x="280" y="90" width="10" height="10" fill="#a9f5ee"/><rect x="290" y="90" width="10" height="10" fill="#aaf5ed"/><rect x="300" y="90" width="10" height="10" fill="#aaf5ed"/><rect x="310" y="90" width="10" height="10" fill="#aaf5ed"/><rect x="320" y="90" width="10" height="10" fill="#aaf5ed"/><rect x="330" y="90" width="10" height="10" fill="#aaf5ed"/><rect x="340" y="90" width="10" height="10" fill="#aaf5ed"/><rect x="350" y="90" width="10" height="10" fill="#aaf5ed"/><rect x="360" y="90" width="10" height="10" fill="#aaf5ed"/><rect x="370" y="90" width="10" height="10" fill="#aaf5ed"/><rect x="380" y="90" width="10" height="10" fill="#aaf5ed"/><rect x="390" y="90" width="10" height="10" fill="#aaf5ed"/><rect x="400" y="90" width="10" height="10" fill="#aaf5ed"/><rect x="410" y="90" width="10" height="10" fill="#aaf5ed"/><rect x="420" y="90" width="10" height="10" fill="#aaf5ed"/><rect x="430" y="90" width="10" height="10" fill="#a9f5ee"/><rect x="440" y="90" width="10" height="10" fill="#a9f5ee"/><rect x="450" y="90" width="10" height="10" fill="#a8f5ef"/><rect x="460" y="90" width="10" height="10" fill="#a7f5f0"/><rect x="470" y="90" width="10" height="10" fill="#a7f5f1"/><rect x="480" y="90" width="10" height="10" fill="#a6f5f2"/><rect x="490" y="90" width="10" height="10" fill="#a6f5f2"/><rect x="500" y="90" width="10" height="10" fill="#a6f5f2"/><rect x="510" y="90" width="10" height="10" fill="#a7f5f1"/><rect x="520" y="90" width="10" height="10" fill="#a8f5ef"/><rect x="530" y="90" width="10" height="10" fill="#abf5ec"/><rect x="540" y="90" width="10" height="10" fill="#aff5e7"/><rect x="550" y="90" width="10" height="10" fill="#b5f5e2"/><rect x="560" y="90" width="10" height="10" fill="#bbf6db"/><rect x="570" y="90" width="10" height="10" fill="#c1f7d5"/><rect x="580" y="90" width="10" height="10" fill="#c3f7d3"/><rect x="590" y="90" width="10" height="10" fill="#c4f7d2"/><rect x="600" y="90" width="10" height="10" fill="#c5f7d1"/><rect x="610" y="90" width="10" height="10" fill="#c7f7cf"/><rect x="620" y="90" width="10" height="10" fill="#caf7cc"/><rect x="630" y="90" width="10" height="10" fill="#ccf7ca"/><rect x="640" y="90" width="10" height="10" fill="#cef7c8"/><rect x="650" y="90" width="10" height="10" fill="#d0f7c6"/><rect x="660" y="90" width="10" height="10" fill="#d1f8c5"/><rect x="670" y="90" width="10" height="10" fill="#d2f8c4"/><rect x="680" y="90" width="10" height="10" fill="#d3f8c4"/><rect x="690" y="90" width="10" height="10" fill="#d3f8c3"/><rect x="700" y="90" width="10" height="10" fill="#d2f8c4"/><rect x="710" y="90" width="10" height="10" fill="#d2f8c4"/><rect x="720" y="90" width="10" height="10" fill="#d1f7c6"/><rect x="730" y="90" width="10" height="10" fill="#cff7c7"/><rect x="740" y="90" width="10" height="10" fill="#cdf7c9"/><rect x="750" y="90" width="10" height="10" fill="#cbf7cb"/><rect x="760" y="90" width="10" height="10" fill="#c9f7cd"/><rect x="770" y="90" width="10" height="10" fill="#c6f7d0"/><rect x="780" y="90" width="10" height="10" fill="#c4f7d2"/><rect x="790" y="90" width="10" height="10" fill="#c1f7d5"/><rect x="800" y="90" width="10" height="10" fill="#bff6d7"/><rect x="810" y="90" width="10" height="10" fill="#bdf6da"/><rect x="820" y="90" width="10" height="10" fill="#baf5dc"/><rect x="830" y="90" width="10" height="10" fill="#b8f5de"/><rect x="840" y="90" width="10" height="10" fill="#b6f5e0"/><rect x="850" y="90" width="10" height="10" fill="#b4f5e2"/><rect x="860" y="90" width="10" height="10" fill="#b3f5e4"/><rect x="870" y="90" width="10" height="10" fill="#b1f5e5"/><rect x="880" y="90" width="10" height="10" fill="#aff5e7"/><rect x="890" y="90" width="10" height="10" fill="#aef5e8"/><rect x="900" y="90" width="10" height="10" fill="#adf5ea"/><rect x="910" y="90" width="10" height="10" fill="#abf5eb"/><rect x="920" y="90" width="10" height="10" fill="#aaf5ed"/><rect x="930" y="90" width="10" height="10" fill="#a8f5ef"/><rect x="940" y="90" width="10" height="10" fill="#a7f5f1"/><rect x="950" y="90" width="10" height="10" fill="#a5f5f3"/><rect x="960" y="90" width="10" height="10" fill="#a4f5f4"/><rect x="970" y="90" width="10" height="10" fill="#a4f3f5"/><rect x="980" y="90" width="10" height="10" fill="#a4f2f7"/><rect x="990" y="90" width="10" height="10" fill="#a4f1f8"/><rect x="1000" y="90" width="10" height="10" fill="#a4eff9"/><rect x="1010" y="90" width="10" height="10" fill="#a4edf9"/><rect x="1020" y="90" width="10" height="10" fill="#a4ebf9"/><rect x="1030" y="90" width="10" height="10" fill="#a5eaf9"/><rect x="1040" y="90" width="10" height="10" fill="#a6e8f9"/><rect x="1050" y="90" width="10" height="10" fill="#a8e6f9"/><rect x="1060" y="90" width="10" height="10" fill="#a8e4f9"/><rect x="1070" y="90" width="10" height="10" fill="#a8e2f9"/><rect x="1080" y="90" width="10" height="10" fill="#a8e0f9"/><rect x="1090" y="90" width="10" height="10" fill="#a8dff9"/><rect x="1100" y="90" width="10" height="10" fill="#a8dff9"/><rect x="1110" y="90" width="10" height="10" fill="#a8dff9"/><rect x="1120" y="90" width="10" height="10" fill="#a8dff9"/><rect x="1130" y="90" width="10" height="10" fill="#a8e0f9"/><rect x="1140" y="90" width="10" height="10" fill="#a8e2f9"/><rect x="1150" y="90" width="10" height="10" fill="#a8e4f9"/><rect x="1160" y="90" width="10" height="10" fill="#a8e6f9"/><rect x="1170" y="90" width="10" height="10" fill="#a6e8f9"/><rect x="1180" y="90" width="10" height="10" fill="#a5eaf9"/><rect x="1190" y="90" width="10" height="10" fill="#a4ebf9"/><rect x="1200" y="90" width="10" height="10" fill="#a4edf9"/><rect x="1210" y="90" width="10" height="10" fill="#a4eff9"/><rect x="1220" y="90" width="10" height="10" fill="#a4f1f8"/><rect x="1230" y="90" width="10" height="10" fill="#a4f2f7"/><rect x="1240" y="90" width="10" height="10" fill="#a4f3f6"/><rect x="1250" y="90" width="10" height="10" fill="#a4f4f5"/><rect x="1260" y="90" width="10" height="10" fill="#a4f5f4"/><rect x="1270" y="90" width="10" height="10" fill="#a5f5f2"/><rect x="10" y="100" width="10" height="10" fill="#b2f5e5"/><rect x="20" y="100" width="10" height="10" fill="#b2f5e5"/><rect x="30" y="100" width="10" height="10" fill="#b2f5e5"/><rect x="40" y="100" width="10" height="10" fill="#b2f5e5"/><rect x="50" y="100" width="10" height="10" fill="#b2f5e5"/><rect x="60" y="100" width="10" height="10" fill="#b2f5e5"/><rect x="70" y="100" width="10" height="10" fill="#b2f5e5"/><rect x="80" y="100" width="10" height="10" fill="#b2f5e5"/><rect x="90" y="100" width="10" height="10" fill="#b2f5e5"/><rect x="100" y="100" width="10" height="10" fill="#b2f5e5"/><rect x="110" y="100" width="10" height="10" fill="#b2f5e5"/><rect x="120" y="100" width="10" height="10" fill="#b2f5e5"/><rect x="130" y="100" width="10" height="10" fill="#b2f5e5"/><rect x="140" y="100" width="10" height="10" fill="#b2f5e5"/><rect x="150" y="100" width="10" height="10" fill="#b2f5e5"/><rect x="160" y="100" width="10" height="10" fill="#b2f5e5"/><rect x="170" y="100" width="10" height="10" fill="#b2f5e5"/><rect x="180" y="100" width="10" height="10" fill="#b2f5e5"/><rect x="190" y="100" width="10" height="10" fill="#b2f5e5"/><rect x="200" y="100" width="10" height="10" fill="#b1f5e5"/><rect x="210" y="100" width="10" height="10" fill="#b1f5e5"/><rect x="220" y="100" width="10" height="10" fill="#b0f5e6"/><rect x="230" y="100" width="10" height="10" fill="#b0f5e6"/><rect x="240" y="100" width="10" height="10" fill="#aff5e7"/><rect x="250" y="100" width="10" height="10" fill="#aff5e7"/><rect x="260" y="100" width="10" height="10" fill="#b0f5e6"/><rect x="270" y="100" width="10" height="10" fill="#b0f5e6"/><rect x="280" y="100" width="10" height="10" fill="#b1f5e5"/><rect x="290" y="100" width="10" height="10" fill="#b1f5e5"/><rect x="300" y="100" width="10" height="10" fill="#b2f5e5"/><rect x="310" y="100" width="10" height="10" fill="#b2f5e5"/><rect x="320" y="100" width="10" height="10" fill="#b2f5e5"/><rect x="330" y="100" width="10" height="10" fill="#b2f5e5"/><rect x="340" y="100" width="10" height="10" fill="#b2f5e4"/><rect x="350" y="100" width="10" height="10" fill="#b2f5e4"/><rect x="360" y="100" width="10" height="10" fill="#b2f5e4"/><rect x="370" y="100" width="10" height="10" fill="#b2f5e4"/><rect x="380" y="100" width="10" height="10" fill="#b2f5e4"/><rect x="390" y="100" width="10" height="10" fill="#b2f5e4"/><rect x="400" y="100" width="10" height="10" fill="#b2f5e4"/><rect x="410" y="100" width="10" height="10" fill="#b2f5e4"/><rect x="420" y="100" width="10" height="10" fill="#b2f5e4"/><rect x="430" y="100" width="10" height="10" fill="#b2f5e4"/><rect x="440" y="100" width="10" height="10" fill="#b2f5e4"/><rect x="450" y="100" width="10" height="10" fill="#b2f5e4"/><rect x="460" y="100" width="10" height="10" fill="#b2f5e4"/><rect x="470" y="100" width="10" height="10" fill="#b2f5e4"/><rect x="480" y="100" width="10" height="10" fill="#b3f5e4"/><rect x="490" y="100" width="10" height="10" fill="#b3f5e3"/><rect x="500" y="100" width="10" height="10" fill="#b4f5e2"/><rect x="510" y="100" width="10" height="10" fill="#b5f5e1"/><rect x="550" y="100" width="10" height="10" fill="#bef6d8"/><rect x="560" y="100" width="10" height="10" fill="#c2f7d5"/><rect x="570" y="100" width="10" height="10" fill="#c5f7d1"/><rect x="580" y="100" width="10" height="10" fill="#c8f7ce"/><rect x="590" y="100" width="10" height="10" fill="#cbf7cb"/><rect x="600" y="100" width="10" height="10" fill="#cef7c8"/><rect x="610" y="100" width="10" height="10" fill="#d1f7c5"/><rect x="620" y="100" width="10" height="10" fill="#d3f8c3"/><rect x="630" y="100" width="10" height="10" fill="#d6f8c0"/><rect x="640" y="100" width="10" height="10" fill="#d8f9bf"/><rect x="650" y="100" width="10" height="10" fill="#d9f9bd"/><rect x="660" y="100" width="10" height="10" fill="#daf9bd"/><rect x="670" y="100" width="10" height="10" fill="#dbf9bc"/><rect x="680" y="100" width="10" height="10" fill="#dbf9bc"/><rect x="690" y="100" width="10" height="10" fill="#dbf9bc"/><rect x="700" y="100" width="10" height="10" fill="#dbf9bc"/><rect x="710" y="100" width="10" height="10" fill="#daf9bc"/><rect x="720" y="100" width="10" height="10" fill="#d9f9bd"/><rect x="730" y="100" width="10" height="10" fill="#d8f9be"/><rect x="740" y="100" width="10" height="10" fill="#d6f8c0"/><rect x="750" y="100" width="10" height="10" fill="#d4f8c2"/><rect x="760" y="100" width="10" height="10" fill="#d2f8c4"/><rect x="770" y="100" width="10" height="10" fill="#cff7c7"/><rect x="780" y="100" width="10" height="10" fill="#cdf7c9"/><rect x="790" y="100" width="10" height="10" fill="#cbf7cc"/><rect x="800" y="100" width="10" height="10" fill="#c8f7ce"/><rect x="810" y="100" width="10" height="10" fill="#c6f7d0"/><rect x="820" y="100" width="10" height="10" fill="#c4f7d3"/><rect x="830" y="100" width="10" height="10" fill="#c1f7d5"/><rect x="840" y="100" width="10" height="10" fill="#bff6d7"/><rect x="850" y="100" width="10" height="10" fill="#bef6d9"/><rect x="860" y="100" width="10" height="10" fill="#bcf6da"/><rect x="870" y="100" width="10" height="10" fill="#baf5dc"/><rect x="880" y="100" width="10" height="10" fill="#b8f5de"/><rect x="890" y="100" width="10" height="10" fill="#b7f5df"/><rect x="900" y="100" width="10" height="10" fill="#b5f5e1"/><rect x="910" y="100" width="10" height="10" fill="#b4f5e2"/><rect x="920" y="100" width="10" height="10" fill="#b2f5e4"/><rect x="930" y="100" width="10" height="10" fill="#b0f5e6"/><rect x="940" y="100" width="10" height="10" fill="#aff5e8"/><rect x="950" y="100" width="10" height="10" fill="#adf5ea"/><rect x="960" y="100" width="10" height="10" fill="#abf5ec"/><rect x="970" y="100" width="10" height="10" fill="#a8f5ef"/><rect x="980" y="100" width="10" height="10" fill="#a6f5f2"/><rect x="990" y="100" width="10" height="10" fill="#a4f5f4"/><rect x="1000" y="100" width="10" height="10" fill="#a4f4f5"/><rect x="1010" y="100" width="10" height="10" fill="#a4f2f6"/><rect x="1020" y="100" width="10" height="10" fill="#a4f1f8"/><rect x="1030" y="100" width="10" height="10" fill="#a4f0f9"/><rect x="1040" y="100" width="10" height="10" fill="#a4eef9"/><rect x="1050" y="100" width="10" height="10" fill="#a4edf9"/><rect x="1060" y="100" width="10" height="10" fill="#a4ecf9"/><rect x="1070" y="100" width="10" height="10" fill="#a4ebf9"/><rect x="1080" y="100" width="10" height="10" fill="#a5eaf9"/><rect x="1090" y="100" width="10" height="10" fill="#a5e9f9"/><rect x="1100" y="100" width="10" height="10" fill="#a5e9f9"/><rect x="1110" y="100" width="10" height="10" fill="#a5e9f9"/><rect x="1120" y="100" width="10" height="10" fill="#a5e9f9"/><rect x="1130" y="100" width="10" height="10" fill="#a5eaf9"/><rect x="1140" y="100" width="10" height="10" fill="#a4ebf9"/><rect x="1150" y="100" width="10" height="10" fill="#a4ecf9"/><rect x="1160" y="100" width="10" height="10" fill="#a4eef9"/><rect x="1170" y="100" width="10" height="10" fill="#a4eff9"/><rect x="1180" y="100" width="10" height="10" fill="#a4f0f8"/><rect x="1190" y="100" width="10" height="10" fill="#a4f2f7"/><rect x="1200" y="100" width="10" height="10" fill="#a4f3f5"/><rect x="1210" y="100" width="10" height="10" fill="#a4f5f4"/><rect x="1220" y="100" width="10" height="10" fill="#a6f5f2"/><rect x="1230" y="100" width="10" height="10" fill="#a8f5ef"/><rect x="1240" y="100" width="10" height="10" fill="#aaf5ed"/><rect x="1250" y="100" width="10" height="10" fill="#acf5eb"/><rect x="1260" y="100" width="10" height="10" fill="#adf5e9"/><rect x="1270" y="100" width="10" height="10" fill="#aef5e8"/><rect x="10" y="110" width="10" height="10" fill="#b9f5dd"/><rect x="20" y="110" width="10" height="10" fill="#b9f5dd"/><rect x="30" y="110" width="10" height="10" fill="#b9f5dd"/><rect x="40" y="110" width="10" height="10" fill="#b9f5dd"/><rect x="50" y="110" width="10" height="10" fill="#b9f5dd"/><rect x="60" y="110" width="10" height="10" fill="#b9f5dd"/><rect x="70" y="110" width="10" height="10" fill="#b9f5dd"/><rect x="80" y="110" width="10" height="10" fill="#b9f5dd"/><rect x="90" y="110" width="10" height="10" fill="#b9f5dd"/><rect x="100" y="110" width="10" height="10" fill="#b9f5dd"/><rect x="110" y="110" width="10" height="10" fill="#b9f5dd"/><rect x="120" y="110" width="10" height="10" fill="#b9f5dd"/><rect x="130" y="110" width="10" height="10" fill="#b9f5dd"/><rect x="140" y="110" width="10" height="10" fill="#b9f5dd"/><rect x="150" y="110" width="10" height="10" fill="#b9f5dd"/><rect x="160" y="110" width="10" height="10" fill="#b9f5dd"/><rect x="170" y="110" width="10" height="10" fill="#b9f5dd"/><rect x="180" y="110" width="10" height="10" fill="#b9f5dd"/><rect x="190" y="110" width="10" height="10" fill="#b9f5dd"/><rect x="200" y="110" width="10" height="10" fill="#b9f5dd"/><rect x="210" y="110" width="10" height="10" fill="#b8f5de"/><rect x="220" y="110" width="10" height="10" fill="#b7f5df"/><rect x="230" y="110" width="10" height="10" fill="#b6f5e1"/><rect x="240" y="110" width="10" height="10" fill="#b4f5e2"/><rect x="250" y="110" width="10" height="10" fill="#b4f5e2"/><rect x="260" y="110" width="10" height="10" fill="#b6f5e1"/><rect x="270" y="110" width="10" height="10" fill="#b7f5df"/><rect x="280" y="110" width="10" height="10" fill="#b8f5de"/><rect x="290" y="110" width="10" height="10" fill="#b9f5dd"/><rect x="300" y="110" width="10" height="10" fill="#b9f5dd"/><rect x="310" y="110" width="10" height="10" fill="#b9f5dd"/><rect x="320" y="110" width="10" height="10" fill="#baf5dd"/><rect x="330" y="110" width="10" height="10" fill="#baf5dd"/><rect x="340" y="110" width="10" height="10" fill="#baf5dd"/><rect x="350" y="110" width="10" height="10" fill="#baf5dd"/><rect x="360" y="110" width="10" height="10" fill="#baf5dc"/><rect x="370" y="110" width="10" height="10" fill="#baf5dc"/><rect x="380" y="110" width="10" height="10" fill="#baf5dc"/><rect x="390" y="110" width="10" height="10" fill="#baf5dc"/><rect x="400" y="110" width="10" height="10" fill="#baf5dc"/><rect x="410" y="110" width="10" height="10" fill="#baf5dc"/><rect x="420" y="110" width="10" height="10" fill="#baf5dc"/><rect x="430" y="110" width="10" height="10" fill="#bbf6dc"/><rect x="440" y="110" width="10" height="10" fill="#bbf6db"/><rect x="450" y="110" width="10" height="10" fill="#bbf6db"/><rect x="460" y="110" width="10" height="10" fill="#bcf6db"/><rect x="470" y="110" width="10" height="10" fill="#bcf6da"/><rect x="480" y="110" width="10" height="10" fill="#bdf6d9"/><rect x="490" y="110" width="10" height="10" fill="#bef6d9"/><rect x="500" y="110" width="10" height="10" fill="#bff6d8"/><rect x="590" y="110" width="10" height="10" fill="#d3f8c3"/><rect x="600" y="110" width="10" height="10" fill="#d5f8c1"/><rect x="610" y="110" width="10" height="10" fill="#d8f9be"/><rect x="620" y="110" width="10" height="10" fill="#daf9bd"/><rect x="630" y="110" width="10" height="10" fill="#dbf9bc"/><rect x="640" y="110" width="10" height="10" fill="#dcf9bb"/><rect x="650" y="110" width="10" height="10" fill="#ddf9bb"/><rect x="660" y="110" width="10" height="10" fill="#def9ba"/><rect x="670" y="110" width="10" height="10" fill="#dff9ba"/><rect x="680" y="110" width="10" height="10" fill="#dff9ba"/><rect x="690" y="110" width="10" height="10" fill="#dff9ba"/><rect x="700" y="110" width="10" height="10" fill="#dff9ba"/><rect x="710" y="110" width="10" height="10" fill="#def9ba"/><rect x="720" y="110" width="10" height="10" fill="#def9bb"/><rect x="730" y="110" width="10" height="10" fill="#ddf9bb"/><rect x="740" y="110" width="10" height="10" fill="#dcf9bc"/><rect x="750" y="110" width="10" height="10" fill="#daf9bc"/><rect x="760" y="110" width="10" height="10" fill="#d9f9bd"/><rect x="770" y="110" width="10" height="10" fill="#d7f8bf"/><rect x="780" y="110" width="10" height="10" fill="#d5f8c1"/><rect x="790" y="110" width="10" height="10" fill="#d3f8c3"/><rect x="800" y="110" width="10" height="10" fill="#d1f7c5"/><rect x="810" y="110" width="10" height="10" fill="#cff7c7"/><rect x="820" y="110" width="10" height="10" fill="#cdf7c9"/><rect x="830" y="110" width="10" height="10" fill="#cbf7cb"/><rect x="840" y="110" width="10" height="10" fill="#c9f7cd"/><rect x="850" y="110" width="10" height="10" fill="#c7f7cf"/><rect x="860" y="110" width="10" height="10" fill="#c5f7d1"/><rect x="870" y="110" width="10" height="10" fill="#c3f7d3"/><rect x="880" y="110" width="10" height="10" fill="#c2f7d5"/><rect x="890" y="110" width="10" height="10" fill="#c0f6d6"/><rect x="900" y="110" width="10" height="10" fill="#bef6d9"/><rect x="910" y="110" width="10" height="10" fill="#bbf6db"/><rect x="920" y="110" width="10" height="10" fill="#b9f5dd"/><rect x="930" y="110" width="10" height="10" fill="#b6f5e0"/><rect x="940" y="110" width="10" height="10" fill="#b4f5e2"/><rect x="950" y="110" width="10" height="10" fill="#b1f5e5"/><rect x="960" y="110" width="10" height="10" fill="#aef5e8"/><rect x="970" y="110" width="10" height="10" fill="#abf5eb"/><rect x="980" y="110" width="10" height="10" fill="#a9f5ee"/><rect x="990" y="110" width="10" height="10" fill="#a7f5f0"/><rect x="1000" y="110" width="10" height="10" fill="#a6f5f2"/><rect x="1010" y="110" width="10" height="10" fill="#a5f5f3"/><rect x="1020" y="110" width="10" height="10" fill="#a4f5f4"/><rect x="1030" y="110" width="10" height="10" fill="#a4f5f4"/><rect x="1040" y="110" width="10" height="10" fill="#a4f5f4"/><rect x="1050" y="110" width="10" height="10" fill="#a4f4f5"/><rect x="1060" y="110" width="10" height="10" fill="#a4f3f5"/><rect x="1070" y="110" width="10" height="10" fill="#a4f3f6"/><rect x="1080" y="110" width="10" height="10" fill="#a4f3f6"/><rect x="1090" y="110" width="10" height="10" fill="#a4f2f6"/><rect x="1100" y="110" width="10" height="10" fill="#a4f2f6"/><rect x="1110" y="110" width="10" height="10" fill="#a4f3f6"/><rect x="1120" y="110" width="10" height="10" fill="#a4f3f6"/><rect x="1130" y="110" width="10" height="10" fill="#a4f3f5"/><rect x="1140" y="110" width="10" height="10" fill="#a4f4f5"/><rect x="1150" y="110" width="10" height="10" fill="#a4f5f4"/><rect x="1160" y="110" width="10" height="10" fill="#a5f5f2"/><rect x="1170" y="110" width="10" height="10" fill="#a7f5f0"/><rect x="1180" y="110" width="10" height="10" fill="#a9f5ee"/><rect x="1190" y="110" width="10" height="10" fill="#acf5eb"/><rect x="1200" y="110" width="10" height="10" fill="#aef5e9"/><rect x="1210" y="110" width="10" height="10" fill="#b0f5e7"/><rect x="1220" y="110" width="10" height="10" fill="#b1f5e5"/><rect x="1230" y="110" width="10" height="10" fill="#b3f5e3"/><rect x="1240" y="110" width="10" height="10" fill="#b4f5e2"/><rect x="1250" y="110" width="10" height="10" fill="#b5f5e1"/><rect x="1260" y="110" width="10" height="10" fill="#b6f5e0"/><rect x="1270" y="110" width="10" height="10" fill="#b7f5df"/><rect x="10" y="120" width="10" height="10" fill="#c4f7d2"/><rect x="20" y="120" width="10" height="10" fill="#c4f7d2"/><rect x="30" y="120" width="10" height="10" fill="#c4f7d2"/><rect x="40" y="120" width="10" height="10" fill="#c4f7d2"/><rect x="50" y="120" width="10" height="10" fill="#c4f7d2"/><rect x="60" y="120" width="10" height="10" fill="#c4f7d2"/><rect x="70" y="120" width="10" height="10" fill="#c4f7d2"/><rect x="80" y="120" width="10" height="10" fill="#c4f7d2"/><rect x="90" y="120" width="10" height="10" fill="#c4f7d2"/><rect x="100" y="120" width="10" height="10" fill="#c4f7d2"/><rect x="150" y="120" width="10" height="10" fill="#c4f7d2"/><rect x="160" y="120" width="10" height="10" fill="#c4f7d2"/><rect x="170" y="120" width="10" height="10" fill="#c4f7d2"/><rect x="180" y="120" width="10" height="10" fill="#c4f7d2"/><rect x="190" y="120" width="10" height="10" fill="#c4f7d2"/><rect x="200" y="120" width="10" height="10" fill="#c3f7d3"/><rect x="210" y="120" width="10" height="10" fill="#c2f7d4"/><rect x="220" y="120" width="10" height="10" fill="#c0f6d7"/><rect x="230" y="120" width="10" height="10" fill="#bdf6da"/><rect x="240" y="120" width="10" height="10" fill="#baf5dc"/><rect x="250" y="120" width="10" height="10" fill="#baf5dc"/><rect x="260" y="120" width="10" height="10" fill="#bdf6da"/><rect x="270" y="120" width="10" height="10" fill="#c0f6d7"/><rect x="280" y="120" width="10" height="10" fill="#c2f7d4"/><rect x="290" y="120" width="10" height="10" fill="#c3f7d3"/><rect x="300" y="120" width="10" height="10" fill="#c4f7d2"/><rect x="310" y="120" width="10" height="10" fill="#c4f7d2"/><rect x="320" y="120" width="10" height="10" fill="#c4f7d2"/><rect x="330" y="120" width="10" height="10" fill="#c4f7d2"/><rect x="340" y="120" width="10" height="10" fill="#c4f7d2"/><rect x="350" y="120" width="10" height="10" fill="#c4f7d2"/><rect x="360" y="120" width="10" height="10" fill="#c4f7d2"/><rect x="370" y="120" width="10" height="10" fill="#c4f7d2"/><rect x="380" y="120" width="10" height="10" fill="#c4f7d2"/><rect x="390" y="120" width="10" height="10" fill="#c4f7d2"/><rect x="400" y="120" width="10" height="10" fill="#c5f7d2"/><rect x="410" y="120" width="10" height="10" fill="#c5f7d1"/><rect x="420" y="120" width="10" height="10" fill="#c5f7d1"/><rect x="430" y="120" width="10" height="10" fill="#c5f7d1"/><rect x="440" y="120" width="10" height="10" fill="#c6f7d1"/><rect x="450" y="120" width="10" height="10" fill="#c6f7d0"/><rect x="460" y="120" width="10" height="10" fill="#c6f7d0"/><rect x="480" y="120" width="10" height="10" fill="#c8f7ce"/><rect x="490" y="120" width="10" height="10" fill="#c9f7cd"/><rect x="590" y="120" width="10" height="10" fill="#daf9bc"/><rect x="600" y="120" width="10" height="10" fill="#dcf9bc"/><rect x="610" y="120" width="10" height="10" fill="#ddf9bb"/><rect x="620" y="120" width="10" height="10" fill="#def9ba"/><rect x="630" y="120" width="10" height="10" fill="#e0f9ba"/><rect x="640" y="120" width="10" height="10" fill="#e1f9b9"/><rect x="650" y="120" width="10" height="10" fill="#e2f9b8"/><rect x="660" y="120" width="10" height="10" fill="#e3f9b7"/><rect x="670" y="120" width="10" height="10" fill="#e3f9b7"/><rect x="680" y="120" width="10" height="10" fill="#e4f9b7"/><rect x="690" y="120" width="10" height="10" fill="#e4f9b7"/><rect x="700" y="120" width="10" height="10" fill="#e3f9b7"/><rect x="710" y="120" width="10" height="10" fill="#e3f9b7"/><rect x="720" y="120" width="10" height="10" fill="#e2f9b8"/><rect x="730" y="120" width="10" height="10" fill="#e1f9b9"/><rect x="740" y="120" width="10" height="10" fill="#e0f9b9"/><rect x="750" y="120" width="10" height="10" fill="#dff9ba"/><rect x="760" y="120" width="10" height="10" fill="#def9ba"/><rect x="770" y="120" width="10" height="10" fill="#ddf9bb"/><rect x="780" y="120" width="10" height="10" fill="#dcf9bb"/><rect x="790" y="120" width="10" height="10" fill="#dcf9bc"/><rect x="800" y="120" width="10" height="10" fill="#dbf9bc"/><rect x="810" y="120" width="10" height="10" fill="#daf9bd"/><rect x="820" y="120" width="10" height="10" fill="#d9f9bd"/><rect x="830" y="120" width="10" height="10" fill="#d7f9bf"/><rect x="840" y="120" width="10" height="10" fill="#d6f8c0"/><rect x="850" y="120" width="10" height="10" fill="#d4f8c2"/><rect x="860" y="120" width="10" height="10" fill="#d2f8c4"/><rect x="870" y="120" width="10" height="10" fill="#d0f7c6"/><rect x="880" y="120" width="10" height="10" fill="#cef7c8"/><rect x="890" y="120" width="10" height="10" fill="#cbf7cb"/><rect x="900" y="120" width="10" height="10" fill="#c8f7ce"/><rect x="910" y="120" width="10" height="10" fill="#c5f7d1"/><rect x="920" y="120" width="10" height="10" fill="#c1f7d5"/><rect x="930" y="120" width="10" height="10" fill="#bdf6da"/><rect x="940" y="120" width="10" height="10" fill="#b8f5df"/><rect x="950" y="120" width="10" height="10" fill="#b3f5e4"/><rect x="960" y="120" width="10" height="10" fill="#aef5e9"/><rect x="970" y="120" width="10" height="10" fill="#aaf5ed"/><rect x="980" y="120" width="10" height="10" fill="#a7f5f0"/><rect x="990" y="120" width="10" height="10" fill="#a6f5f2"/><rect x="1000" y="120" width="10" height="10" fill="#a6f5f1"/><rect x="1010" y="120" width="10" height="10" fill="#a8f5f0"/><rect x="1020" y="120" width="10" height="10" fill="#a9f5ee"/><rect x="1030" y="120" width="10" height="10" fill="#abf5ec"/><rect x="1040" y="120" width="10" height="10" fill="#adf5ea"/><rect x="1050" y="120" width="10" height="10" fill="#aef5e9"/><rect x="1060" y="120" width="10" height="10" fill="#aef5e8"/><rect x="1070" y="120" width="10" height="10" fill="#aff5e7"/><rect x="1080" y="120" width="10" height="10" fill="#b0f5e6"/><rect x="1090" y="120" width="10" height="10" fill="#b1f5e5"/><rect x="1100" y="120" width="10" height="10" fill="#b2f5e4"/><rect x="1110" y="120" width="10" height="10" fill="#b3f5e3"/><rect x="1120" y="120" width="10" height="10" fill="#b4f5e2"/><rect x="1130" y="120" width="10" height="10" fill="#b5f5e2"/><rect x="1140" y="120" width="10" height="10" fill="#b5f5e1"/><rect x="1150" y="120" width="10" height="10" fill="#b6f5e0"/><rect x="1160" y="120" width="10" height="10" fill="#b8f5df"/><rect x="1170" y="120" width="10" height="10" fill="#b9f5dd"/><rect x="1180" y="120" width="10" height="10" fill="#baf5dc"/><rect x="1190" y="120" width="10" height="10" fill="#bbf6db"/><rect x="1200" y="120" width="10" height="10" fill="#bdf6d9"/><rect x="1210" y="120" width="10" height="10" fill="#bef6d8"/><rect x="1220" y="120" width="10" height="10" fill="#bff6d7"/><rect x="1230" y="120" width="10" height="10" fill="#c0f6d6"/><rect x="0" y="130" width="10" height="10" fill="#d1f8c5"/><rect x="10" y="130" width="10" height="10" fill="#d1f8c5"/><rect x="20" y="130" width="10" height="10" fill="#d1f8c5"/><rect x="30" y="130" width="10" height="10" fill="#d1f8c5"/><rect x="40" y="130" width="10" height="10" fill="#d1f8c5"/><rect x="50" y="130" width="10" height="10" fill="#d1f8c5"/><rect x="60" y="130" width="10" height="10" fill="#d1f8c5"/><rect x="70" y="130" width="10" height="10" fill="#d1f8c5"/><rect x="80" y="130" width="10" height="10" fill="#d1f8c5"/><rect x="160" y="130" width="10" height="10" fill="#d1f8c5"/><rect x="170" y="130" width="10" height="10" fill="#d1f8c5"/><rect x="180" y="130" width="10" height="10" fill="#d1f8c5"/><rect x="190" y="130" width="10" height="10" fill="#d1f7c5"/><rect x="200" y="130" width="10" height="10" fill="#d0f7c6"/><rect x="210" y="130" width="10" height="10" fill="#cef7c8"/><rect x="220" y="130" width="10" height="10" fill="#caf7cc"/><rect x="230" y="130" width="10" height="10" fill="#c5f7d1"/><rect x="240" y="130" width="10" height="10" fill="#c2f7d4"/><rect x="250" y="130" width="10" height="10" fill="#c2f7d4"/><rect x="260" y="130" width="10" height="10" fill="#c5f7d1"/><rect x="270" y="130" width="10" height="10" fill="#caf7cc"/><rect x="280" y="130" width="10" height="10" fill="#cef7c8"/><rect x="290" y="130" width="10" height="10" fill="#d0f7c6"/><rect x="300" y="130" width="10" height="10" fill="#d1f7c5"/><rect x="310" y="130" width="10" height="10" fill="#d1f8c5"/><rect x="320" y="130" width="10" height="10" fill="#d1f8c5"/><rect x="330" y="130" width="10" height="10" fill="#d1f8c5"/><rect x="340" y="130" width="10" height="10" fill="#d1f8c5"/><rect x="350" y="130" width="10" height="10" fill="#d1f8c5"/><rect x="360" y="130" width="10" height="10" fill="#d1f8c5"/><rect x="370" y="130" width="10" height="10" fill="#d1f8c5"/><rect x="380" y="130" width="10" height="10" fill="#d2f8c5"/><rect x="390" y="130" width="10" height="10" fill="#d2f8c5"/><rect x="400" y="130" width="10" height="10" fill="#d2f8c4"/><rect x="410" y="130" width="10" height="10" fill="#d2f8c4"/><rect x="420" y="130" width="10" height="10" fill="#d2f8c4"/><rect x="430" y="130" width="10" height="10" fill="#d2f8c4"/><rect x="440" y="130" width="10" height="10" fill="#d3f8c4"/><rect x="450" y="130" width="10" height="10" fill="#d3f8c3"/><rect x="460" y="130" width="10" height="10" fill="#d3f8c3"/><rect x="470" y="130" width="10" height="10" fill="#d4f8c2"/><rect x="590" y="130" width="10" height="10" fill="#e0f9b9"/><rect x="600" y="130" width="10" height="10" fill="#e2f9b8"/><rect x="610" y="130" width="10" height="10" fill="#e3f9b7"/><rect x="620" y="130" width="10" height="10" fill="#e5f9b6"/><rect x="630" y="130" width="10" height="10" fill="#e6f9b5"/><rect x="640" y="130" width="10" height="10" fill="#e7f9b4"/><rect x="650" y="130" width="10" height="10" fill="#e8f9b3"/><rect x="660" y="130" width="10" height="10" fill="#e8f9b3"/><rect x="670" y="130" width="10" height="10" fill="#e9f9b3"/><rect x="680" y="130" width="10" height="10" fill="#e9f9b2"/><rect x="690" y="130" width="10" height="10" fill="#e9f9b2"/><rect x="700" y="130" width="10" height="10" fill="#e9f9b2"/><rect x="710" y="130" width="10" height="10" fill="#e9f9b3"/><rect x="720" y="130" width="10" height="10" fill="#e8f9b3"/><rect x="730" y="130" width="10" height="10" fill="#e8f9b4"/><rect x="740" y="130" width="10" height="10" fill="#e7f9b4"/><rect x="750" y="130" width="10" height="10" fill="#e6f9b5"/><rect x="760" y="130" width="10" height="10" fill="#e6f9b5"/><rect x="770" y="130" width="10" height="10" fill="#e5f9b6"/><rect x="780" y="130" width="10" height="10" fill="#e5f9b6"/><rect x="790" y="130" width="10" height="10" fill="#e4f9b6"/><rect x="800" y="130" width="10" height="10" fill="#e4f9b6"/><rect x="810" y="130" width="10" height="10" fill="#e4f9b7"/><rect x="820" y="130" width="10" height="10" fill="#e3f9b7"/><rect x="830" y="130" width="10" height="10" fill="#e3f9b7"/><rect x="840" y="130" width="10" height="10" fill="#e2f9b8"/><rect x="850" y="130" width="10" height="10" fill="#e1f9b9"/><rect x="860" y="130" width="10" height="10" fill="#dff9ba"/><rect x="870" y="130" width="10" height="10" fill="#def9bb"/><rect x="880" y="130" width="10" height="10" fill="#dcf9bc"/><rect x="890" y="130" width="10" height="10" fill="#daf9bd"/><rect x="900" y="130" width="10" height="10" fill="#d6f8c0"/><rect x="910" y="130" width="10" height="10" fill="#d2f8c5"/><rect x="920" y="130" width="10" height="10" fill="#ccf7ca"/><rect x="930" y="130" width="10" height="10" fill="#c5f7d1"/><rect x="940" y="130" width="10" height="10" fill="#bef6d8"/><rect x="950" y="130" width="10" height="10" fill="#b7f5df"/><rect x="960" y="130" width="10" height="10" fill="#b1f5e6"/><rect x="970" y="130" width="10" height="10" fill="#abf5ec"/><rect x="980" y="130" width="10" height="10" fill="#a8f5ef"/><rect x="990" y="130" width="10" height="10" fill="#a7f5f0"/><rect x="1000" y="130" width="10" height="10" fill="#a9f5ef"/><rect x="1010" y="130" width="10" height="10" fill="#acf5eb"/><rect x="1020" y="130" width="10" height="10" fill="#b0f5e7"/><rect x="1030" y="130" width="10" height="10" fill="#b3f5e3"/><rect x="1040" y="130" width="10" height="10" fill="#b6f5e0"/><rect x="1050" y="130" width="10" height="10" fill="#b8f5de"/><rect x="1060" y="130" width="10" height="10" fill="#baf5dd"/><rect x="1070" y="130" width="10" height="10" fill="#bcf6da"/><rect x="1080" y="130" width="10" height="10" fill="#bef6d8"/><rect x="1090" y="130" width="10" height="10" fill="#c1f7d5"/><rect x="1100" y="130" width="10" height="10" fill="#c4f7d2"/><rect x="1110" y="130" width="10" height="10" fill="#c6f7d0"/><rect x="1120" y="130" width="10" height="10" fill="#c8f7cf"/><rect x="1130" y="130" width="10" height="10" fill="#c8f7ce"/><rect x="1140" y="130" width="10" height="10" fill="#c9f7cd"/><rect x="1150" y="130" width="10" height="10" fill="#caf7cc"/><rect x="1160" y="130" width="10" height="10" fill="#caf7cc"/><rect x="1170" y="130" width="10" height="10" fill="#cbf7cb"/><rect x="1180" y="130" width="10" height="10" fill="#ccf7ca"/><rect x="1190" y="130" width="10" height="10" fill="#cdf7ca"/><rect x="1200" y="130" width="10" height="10" fill="#cdf7c9"/><rect x="1210" y="130" width="10" height="10" fill="#cef7c8"/><rect x="1220" y="130" width="10" height="10" fill="#cff7c8"/><rect x="10" y="140" width="10" height="10" fill="#def9ba"/><rect x="20" y="140" width="10" height="10" fill="#def9ba"/><rect x="30" y="140" width="10" height="10" fill="#def9ba"/><rect x="40" y="140" width="10" height="10" fill="#def9ba"/><rect x="50" y="140" width="10" height="10" fill="#def9ba"/><rect x="60" y="140" width="10" height="10" fill="#def9ba"/><rect x="170" y="140" width="10" height="10" fill="#def9ba"/><rect x="180" y="140" width="10" height="10" fill="#def9ba"/><rect x="190" y="140" width="10" height="10" fill="#def9bb"/><rect x="200" y="140" width="10" height="10" fill="#ddf9bb"/><rect x="210" y="140" width="10" height="10" fill="#dbf9bc"/><rect x="220" y="140" width="10" height="10" fill="#d7f8bf"/><rect x="230" y="140" width="10" height="10" fill="#d0f7c6"/><rect x="240" y="140" width="10" height="10" fill="#ccf7ca"/><rect x="250" y="140" width="10" height="10" fill="#ccf7ca"/><rect x="260" y="140" width="10" height="10" fill="#d0f7c6"/><rect x="270" y="140" width="10" height="10" fill="#d7f8bf"/><rect x="280" y="140" width="10" height="10" fill="#dbf9bc"/><rect x="290" y="140" width="10" height="10" fill="#ddf9bb"/><rect x="300" y="140" width="10" height="10" fill="#def9bb"/><rect x="310" y="140" width="10" height="10" fill="#def9ba"/><rect x="320" y="140" width="10" height="10" fill="#def9ba"/><rect x="330" y="140" width="10" height="10" fill="#def9ba"/><rect x="340" y="140" width="10" height="10" fill="#def9ba"/><rect x="350" y="140" width="10" height="10" fill="#def9ba"/><rect x="360" y="140" width="10" height="10" fill="#dff9ba"/><rect x="370" y="140" width="10" height="10" fill="#dff9ba"/><rect x="380" y="140" width="10" height="10" fill="#dff9ba"/><rect x="390" y="140" width="10" height="10" fill="#dff9ba"/><rect x="400" y="140" width="10" height="10" fill="#dff9ba"/><rect x="410" y="140" width="10" height="10" fill="#dff9ba"/><rect x="420" y="140" width="10" height="10" fill="#dff9ba"/><rect x="430" y="140" width="10" height="10" fill="#dff9ba"/><rect x="440" y="140" width="10" height="10" fill="#dff9ba"/><rect x="450" y="140" width="10" height="10" fill="#dff9ba"/><rect x="460" y="140" width="10" height="10" fill="#e0f9ba"/><rect x="470" y="140" width="10" height="10" fill="#e0f9ba"/><rect x="590" y="140" width="10" height="10" fill="#eaf9b2"/><rect x="600" y="140" width="10" height="10" fill="#ebf9b1"/><rect x="610" y="140" width="10" height="10" fill="#ecf9b0"/><rect x="620" y="140" width="10" height="10" fill="#edf9af"/><rect x="630" y="140" width="10" height="10" fill="#eef9af"/><rect x="640" y="140" width="10" height="10" fill="#eef9af"/><rect x="650" y="140" width="10" height="10" fill="#ebf9b1"/><rect x="660" y="140" width="10" height="10" fill="#e8f9b3"/><rect x="670" y="140" width="10" height="10" fill="#e8f9b3"/><rect x="680" y="140" width="10" height="10" fill="#ecf9b0"/><rect x="690" y="140" width="10" height="10" fill="#eff9ad"/><rect x="700" y="140" width="10" height="10" fill="#f0f9ad"/><rect x="710" y="140" width="10" height="10" fill="#f0f9ad"/><rect x="720" y="140" width="10" height="10" fill="#f0f9ad"/><rect x="730" y="140" width="10" height="10" fill="#eff9ad"/><rect x="740" y="140" width="10" height="10" fill="#eff9ae"/><rect x="750" y="140" width="10" height="10" fill="#eff9ae"/><rect x="760" y="140" width="10" height="10" fill="#eff9ae"/><rect x="770" y="140" width="10" height="10" fill="#eff9ae"/><rect x="780" y="140" width="10" height="10" fill="#eff9ae"/><rect x="790" y="140" width="10" height="10" fill="#f0f9ad"/><rect x="800" y="140" width="10" height="10" fill="#f0f9ad"/><rect x="810" y="140" width="10" height="10" fill="#f0f9ad"/><rect x="820" y="140" width="10" height="10" fill="#f1f9ac"/><rect x="830" y="140" width="10" height="10" fill="#f1f9ac"/><rect x="840" y="140" width="10" height="10" fill="#f0f9ad"/><rect x="850" y="140" width="10" height="10" fill="#eff9ad"/><rect x="860" y="140" width="10" height="10" fill="#eef9af"/><rect x="870" y="140" width="10" height="10" fill="#ecf9b0"/><rect x="880" y="140" width="10" height="10" fill="#eaf9b2"/><rect x="890" y="140" width="10" height="10" fill="#e7f9b4"/><rect x="900" y="140" width="10" height="10" fill="#e3f9b7"/><rect x="910" y="140" width="10" height="10" fill="#dff9ba"/><rect x="920" y="140" width="10" height="10" fill="#dbf9bc"/><rect x="930" y="140" width="10" height="10" fill="#d6f8c0"/><rect x="940" y="140" width="10" height="10" fill="#cff7c7"/><rect x="950" y="140" width="10" height="10" fill="#c8f7cf"/><rect x="960" y="140" width="10" height="10" fill="#c1f7d5"/><rect x="970" y="140" width="10" height="10" fill="#bcf6da"/><rect x="980" y="140" width="10" height="10" fill="#b9f5dd"/><rect x="990" y="140" width="10" height="10" fill="#b8f5de"/><rect x="1000" y="140" width="10" height="10" fill="#baf5dc"/><rect x="1010" y="140" width="10" height="10" fill="#bdf6d9"/><rect x="1020" y="140" width="10" height="10" fill="#c1f7d6"/><rect x="1030" y="140" width="10" height="10" fill="#c4f7d3"/><rect x="1040" y="140" width="10" height="10" fill="#c5f7d1"/><rect x="1050" y="140" width="10" height="10" fill="#c7f7d0"/><rect x="1060" y="140" width="10" height="10" fill="#c8f7ce"/><rect x="1070" y="140" width="10" height="10" fill="#caf7cc"/><rect x="1080" y="140" width="10" height="10" fill="#cef7c8"/><rect x="1090" y="140" width="10" height="10" fill="#d2f8c4"/><rect x="1100" y="140" width="10" height="10" fill="#d6f8c0"/><rect x="1110" y="140" width="10" height="10" fill="#d9f9bd"/><rect x="1120" y="140" width="10" height="10" fill="#dbf9bc"/><rect x="1130" y="140" width="10" height="10" fill="#dbf9bc"/><rect x="1140" y="140" width="10" height="10" fill="#dcf9bc"/><rect x="1150" y="140" width="10" height="10" fill="#dcf9bc"/><rect x="1160" y="140" width="10" height="10" fill="#dcf9bb"/><rect x="1170" y="140" width="10" height="10" fill="#ddf9bb"/><rect x="1180" y="140" width="10" height="10" fill="#ddf9bb"/><rect x="1190" y="140" width="10" height="10" fill="#ddf9bb"/><rect x="1200" y="140" width="10" height="10" fill="#ddf9bb"/><rect x="180" y="150" width="10" height="10" fill="#ebf9b1"/><rect x="190" y="150" width="10" height="10" fill="#ebf9b1"/><rect x="200" y="150" width="10" height="10" fill="#e9f9b2"/><rect x="210" y="150" width="10" height="10" fill="#e7f9b4"/><rect x="220" y="150" width="10" height="10" fill="#e1f9b9"/><rect x="230" y="150" width="10" height="10" fill="#dcf9bc"/><rect x="240" y="150" width="10" height="10" fill="#d8f9be"/><rect x="250" y="150" width="10" height="10" fill="#d8f9be"/><rect x="260" y="150" width="10" height="10" fill="#dcf9bc"/><rect x="270" y="150" width="10" height="10" fill="#e1f9b9"/><rect x="280" y="150" width="10" height="10" fill="#e7f9b4"/><rect x="290" y="150" width="10" height="10" fill="#e9f9b2"/><rect x="300" y="150" width="10" height="10" fill="#ebf9b1"/><rect x="310" y="150" width="10" height="10" fill="#ebf9b1"/><rect x="320" y="150" width="10" height="10" fill="#ebf9b1"/><rect x="330" y="150" width="10" height="10" fill="#ebf9b1"/><rect x="340" y="150" width="10" height="10" fill="#ebf9b1"/><rect x="350" y="150" width="10" height="10" fill="#ebf9b1"/><rect x="360" y="150" width="10" height="10" fill="#ebf9b1"/><rect x="370" y="150" width="10" height="10" fill="#ebf9b1"/><rect x="380" y="150" width="10" height="10" fill="#ebf9b1"/><rect x="390" y="150" width="10" height="10" fill="#ebf9b1"/><rect x="400" y="150" width="10" height="10" fill="#ebf9b1"/><rect x="410" y="150" width="10" height="10" fill="#ebf9b0"/><rect x="420" y="150" width="10" height="10" fill="#ecf9b0"/><rect x="430" y="150" width="10" height="10" fill="#ecf9b0"/><rect x="440" y="150" width="10" height="10" fill="#ecf9b0"/><rect x="450" y="150" width="10" height="10" fill="#ecf9b0"/><rect x="460" y="150" width="10" height="10" fill="#ecf9b0"/><rect x="470" y="150" width="10" height="10" fill="#ecf9b0"/><rect x="540" y="150" width="10" height="10" fill="#f0f9ad"/><rect x="590" y="150" width="10" height="10" fill="#f3f8aa"/><rect x="600" y="150" width="10" height="10" fill="#f4f8a9"/><rect x="610" y="150" width="10" height="10" fill="#f4f8a8"/><rect x="620" y="150" width="10" height="10" fill="#f5f7a7"/><rect x="630" y="150" width="10" height="10" fill="#f5f7a7"/><rect x="640" y="150" width="10" height="10" fill="#f3f8a9"/><rect x="650" y="150" width="10" height="10" fill="#eaf9b2"/><rect x="660" y="150" width="10" height="10" fill="#def9bb"/><rect x="670" y="150" width="10" height="10" fill="#def9ba"/><rect x="680" y="150" width="10" height="10" fill="#ebf9b1"/><rect x="690" y="150" width="10" height="10" fill="#f4f8a8"/><rect x="700" y="150" width="10" height="10" fill="#f6f7a5"/><rect x="710" y="150" width="10" height="10" fill="#f6f7a4"/><rect x="720" y="150" width="10" height="10" fill="#f6f7a5"/><rect x="730" y="150" width="10" height="10" fill="#f6f7a5"/><rect x="740" y="150" width="10" height="10" fill="#f6f7a6"/><rect x="750" y="150" width="10" height="10" fill="#f5f7a6"/><rect x="760" y="150" width="10" height="10" fill="#f6f7a6"/><rect x="770" y="150" width="10" height="10" fill="#f6f7a5"/><rect x="780" y="150" width="10" height="10" fill="#f7f6a4"/><rect x="790" y="150" width="10" height="10" fill="#f8f6a3"/><rect x="800" y="150" width="10" height="10" fill="#f8f6a2"/><rect x="810" y="150" width="10" height="10" fill="#f9f5a1"/><rect x="820" y="150" width="10" height="10" fill="#f9f5a0"/><rect x="830" y="150" width="10" height="10" fill="#f9f4a0"/><rect x="840" y="150" width="10" height="10" fill="#f9f5a0"/><rect x="850" y="150" width="10" height="10" fill="#f9f5a1"/><rect x="860" y="150" width="10" height="10" fill="#f8f6a2"/><rect x="870" y="150" width="10" height="10" fill="#f6f7a5"/><rect x="880" y="150" width="10" height="10" fill="#f2f9aa"/><rect x="890" y="150" width="10" height="10" fill="#ebf9b1"/><rect x="900" y="150" width="10" height="10" fill="#e4f9b7"/><rect x="910" y="150" width="10" height="10" fill="#e1f9b9"/><rect x="920" y="150" width="10" height="10" fill="#e1f9b9"/><rect x="930" y="150" width="10" height="10" fill="#e2f9b8"/><rect x="940" y="150" width="10" height="10" fill="#e0f9b9"/><rect x="950" y="150" width="10" height="10" fill="#def9bb"/><rect x="960" y="150" width="10" height="10" fill="#dbf9bc"/><rect x="970" y="150" width="10" height="10" fill="#d8f9be"/><rect x="980" y="150" width="10" height="10" fill="#d6f8c0"/><rect x="990" y="150" width="10" height="10" fill="#d6f8c0"/><rect x="1000" y="150" width="10" height="10" fill="#d7f8bf"/><rect x="1010" y="150" width="10" height="10" fill="#d9f9bd"/><rect x="1020" y="150" width="10" height="10" fill="#daf9bc"/><rect x="1030" y="150" width="10" height="10" fill="#dbf9bc"/><rect x="1040" y="150" width="10" height="10" fill="#dbf9bc"/><rect x="1050" y="150" width="10" height="10" fill="#dbf9bc"/><rect x="1060" y="150" width="10" height="10" fill="#dbf9bc"/><rect x="1070" y="150" width="10" height="10" fill="#dcf9bc"/><rect x="1080" y="150" width="10" height="10" fill="#def9ba"/><rect x="1090" y="150" width="10" height="10" fill="#e1f9b9"/><rect x="1100" y="150" width="10" height="10" fill="#e4f9b7"/><rect x="1110" y="150" width="10" height="10" fill="#e6f9b5"/><rect x="1120" y="150" width="10" height="10" fill="#e7f9b4"/><rect x="1130" y="150" width="10" height="10" fill="#e8f9b3"/><rect x="1140" y="150" width="10" height="10" fill="#e9f9b2"/><rect x="1150" y="150" width="10" height="10" fill="#eaf9b2"/><rect x="1160" y="150" width="10" height="10" fill="#eaf9b2"/><rect x="1170" y="150" width="10" height="10" fill="#eaf9b2"/><rect x="1180" y="150" width="10" height="10" fill="#eaf9b1"/><rect x="1190" y="150" width="10" height="10" fill="#eaf9b1"/><rect x="190" y="160" width="10" height="10" fill="#f6f7a6"/><rect x="200" y="160" width="10" height="10" fill="#f5f7a7"/><rect x="210" y="160" width="10" height="10" fill="#f2f9ab"/><rect x="220" y="160" width="10" height="10" fill="#edf9af"/><rect x="230" y="160" width="10" height="10" fill="#e7f9b4"/><rect x="240" y="160" width="10" height="10" fill="#e2f9b8"/><rect x="250" y="160" width="10" height="10" fill="#e2f9b8"/><rect x="260" y="160" width="10" height="10" fill="#e7f9b4"/><rect x="270" y="160" width="10" height="10" fill="#edf9af"/><rect x="280" y="160" width="10" height="10" fill="#f2f9ab"/><rect x="290" y="160" width="10" height="10" fill="#f5f7a7"/><rect x="300" y="160" width="10" height="10" fill="#f6f7a6"/><rect x="310" y="160" width="10" height="10" fill="#f6f7a5"/><rect x="320" y="160" width="10" height="10" fill="#f6f7a5"/><rect x="330" y="160" width="10" height="10" fill="#f6f7a5"/><rect x="340" y="160" width="10" height="10" fill="#f6f7a5"/><rect x="350" y="160" width="10" height="10" fill="#f6f7a5"/><rect x="360" y="160" width="10" height="10" fill="#f6f7a5"/><rect x="370" y="160" width="10" height="10" fill="#f6f7a5"/><rect x="380" y="160" width="10" height="10" fill="#f6f7a5"/><rect x="390" y="160" width="10" height="10" fill="#f6f7a5"/><rect x="400" y="160" width="10" height="10" fill="#f6f7a5"/><rect x="410" y="160" width="10" height="10" fill="#f6f7a5"/><rect x="420" y="160" width="10" height="10" fill="#f6f7a5"/><rect x="430" y="160" width="10" height="10" fill="#f6f7a5"/><rect x="440" y="160" width="10" height="10" fill="#f6f7a5"/><rect x="450" y="160" width="10" height="10" fill="#f6f7a5"/><rect x="460" y="160" width="10" height="10" fill="#f6f7a4"/><rect x="530" y="160" width="10" height="10" fill="#f8f6a2"/><rect x="540" y="160" width="10" height="10" fill="#f8f6a2"/><rect x="550" y="160" width="10" height="10" fill="#f9f5a1"/><rect x="560" y="160" width="10" height="10" fill="#f9f5a1"/><rect x="590" y="160" width="10" height="10" fill="#f9f4a0"/><rect x="600" y="160" width="10" height="10" fill="#f9f49f"/><rect x="610" y="160" width="10" height="10" fill="#f9f39f"/><rect x="620" y="160" width="10" height="10" fill="#f9f39f"/><rect x="630" y="160" width="10" height="10" fill="#f9f39e"/><rect x="640" y="160" width="10" height="10" fill="#f9f39e"/><rect x="650" y="160" width="10" height="10" fill="#f9f39e"/><rect x="660" y="160" width="10" height="10" fill="#f9f39f"/><rect x="670" y="160" width="10" height="10" fill="#f9f39f"/><rect x="680" y="160" width="10" height="10" fill="#f9f29e"/><rect x="690" y="160" width="10" height="10" fill="#f9f29e"/><rect x="700" y="160" width="10" height="10" fill="#f9f29e"/><rect x="710" y="160" width="10" height="10" fill="#f9f39e"/><rect x="720" y="160" width="10" height="10" fill="#f9f39f"/><rect x="730" y="160" width="10" height="10" fill="#f9f4a0"/><rect x="740" y="160" width="10" height="10" fill="#f9f5a1"/><rect x="750" y="160" width="10" height="10" fill="#f8f6a2"/><rect x="760" y="160" width="10" height="10" fill="#f8f5a1"/><rect x="770" y="160" width="10" height="10" fill="#f9f5a0"/><rect x="780" y="160" width="10" height="10" fill="#f9f39f"/><rect x="790" y="160" width="10" height="10" fill="#f9f29d"/><rect x="800" y="160" width="10" height="10" fill="#f9f19c"/><rect x="810" y="160" width="10" height="10" fill="#f9f09b"/><rect x="820" y="160" width="10" height="10" fill="#f9ef9b"/><rect x="830" y="160" width="10" height="10" fill="#f9ef9a"/><rect x="840" y="160" width="10" height="10" fill="#f9ef9b"/><rect x="850" y="160" width="10" height="10" fill="#f9f09b"/><rect x="860" y="160" width="10" height="10" fill="#f9f19c"/><rect x="870" y="160" width="10" height="10" fill="#f9f39f"/><rect x="880" y="160" width="10" height="10" fill="#f5f7a7"/><rect x="890" y="160" width="10" height="10" fill="#e9f9b3"/><rect x="900" y="160" width="10" height="10" fill="#ddf9bb"/><rect x="910" y="160" width="10" height="10" fill="#dbf9bc"/><rect x="920" y="160" width="10" height="10" fill="#e1f9b8"/><rect x="930" y="160" width="10" height="10" fill="#eaf9b2"/><rect x="940" y="160" width="10" height="10" fill="#edf9af"/><rect x="950" y="160" width="10" height="10" fill="#ecf9b0"/><rect x="960" y="160" width="10" height="10" fill="#ebf9b1"/><rect x="970" y="160" width="10" height="10" fill="#eaf9b1"/><rect x="980" y="160" width="10" height="10" fill="#eaf9b2"/><rect x="990" y="160" width="10" height="10" fill="#eaf9b2"/><rect x="1000" y="160" width="10" height="10" fill="#ebf9b1"/><rect x="1010" y="160" width="10" height="10" fill="#ecf9b0"/><rect x="1020" y="160" width="10" height="10" fill="#ecf9b0"/><rect x="1030" y="160" width="10" height="10" fill="#edf9b0"/><rect x="1040" y="160" width="10" height="10" fill="#ecf9b0"/><rect x="1050" y="160" width="10" height="10" fill="#ecf9b0"/><rect x="1060" y="160" width="10" height="10" fill="#ecf9b0"/><rect x="1070" y="160" width="10" height="10" fill="#edf9b0"/><rect x="1080" y="160" width="10" height="10" fill="#eef9af"/><rect x="1090" y="160" width="10" height="10" fill="#eff9ad"/><rect x="1100" y="160" width="10" height="10" fill="#f0f9ad"/><rect x="1110" y="160" width="10" height="10" fill="#f1f9ac"/><rect x="1120" y="160" width="10" height="10" fill="#f2f9ab"/><rect x="1130" y="160" width="10" height="10" fill="#f3f8aa"/><rect x="1140" y="160" width="10" height="10" fill="#f4f8a8"/><rect x="1150" y="160" width="10" height="10" fill="#f5f7a7"/><rect x="1160" y="160" width="10" height="10" fill="#f5f7a6"/><rect x="1170" y="160" width="10" height="10" fill="#f6f7a6"/><rect x="1180" y="160" width="10" height="10" fill="#f6f7a6"/><rect x="190" y="170" width="10" height="10" fill="#f9f09c"/><rect x="200" y="170" width="10" height="10" fill="#f9f19d"/><rect x="210" y="170" width="10" height="10" fill="#f9f39f"/><rect x="220" y="170" width="10" height="10" fill="#f7f6a3"/><rect x="230" y="170" width="10" height="10" fill="#f3f8aa"/><rect x="240" y="170" width="10" height="10" fill="#eff9ad"/><rect x="250" y="170" width="10" height="10" fill="#eff9ad"/><rect x="260" y="170" width="10" height="10" fill="#f3f8aa"/><rect x="270" y="170" width="10" height="10" fill="#f7f6a3"/><rect x="280" y="170" width="10" height="10" fill="#f9f39f"/><rect x="290" y="170" width="10" height="10" fill="#f9f19d"/><rect x="300" y="170" width="10" height="10" fill="#f9f09c"/><rect x="310" y="170" width="10" height="10" fill="#f9f09c"/><rect x="320" y="170" width="10" height="10" fill="#f9f09c"/><rect x="330" y="170" width="10" height="10" fill="#f9f09c"/><rect x="340" y="170" width="10" height="10" fill="#f9f09c"/><rect x="350" y="170" width="10" height="10" fill="#f9f09c"/><rect x="360" y="170" width="10" height="10" fill="#f9f09c"/><rect x="370" y="170" width="10" height="10" fill="#f9f09c"/><rect x="380" y="170" width="10" height="10" fill="#f9f09c"/><rect x="390" y="170" width="10" height="10" fill="#f9f09c"/><rect x="400" y="170" width="10" height="10" fill="#f9f09b"/><rect x="410" y="170" width="10" height="10" fill="#f9f09b"/><rect x="420" y="170" width="10" height="10" fill="#f9f09b"/><rect x="520" y="170" width="10" height="10" fill="#f9ef9b"/><rect x="530" y="170" width="10" height="10" fill="#f9ef9a"/><rect x="540" y="170" width="10" height="10" fill="#f9ef9a"/><rect x="550" y="170" width="10" height="10" fill="#f9ef9a"/><rect x="560" y="170" width="10" height="10" fill="#f9ee9a"/><rect x="570" y="170" width="10" height="10" fill="#f9ee9a"/><rect x="590" y="170" width="10" height="10" fill="#f9ed9a"/><rect x="600" y="170" width="10" height="10" fill="#f9ec9a"/><rect x="610" y="170" width="10" height="10" fill="#f9ec9a"/><rect x="620" y="170" width="10" height="10" fill="#f9ec9a"/><rect x="630" y="170" width="10" height="10" fill="#f9eb9a"/><rect x="640" y="170" width="10" height="10" fill="#f9eb9a"/><rect x="650" y="170" width="10" height="10" fill="#f9eb9a"/><rect x="660" y="170" width="10" height="10" fill="#f9ea9a"/><rect x="670" y="170" width="10" height="10" fill="#f9ea9a"/><rect x="680" y="170" width="10" height="10" fill="#f9ea9a"/><rect x="690" y="170" width="10" height="10" fill="#f9eb9a"/><rect x="700" y="170" width="10" height="10" fill="#f9eb9a"/><rect x="710" y="170" width="10" height="10" fill="#f9ed9a"/><rect x="720" y="170" width="10" height="10" fill="#f9ef9a"/><rect x="730" y="170" width="10" height="10" fill="#f9f19c"/><rect x="740" y="170" width="10" height="10" fill="#f9f29e"/><rect x="750" y="170" width="10" height="10" fill="#f9f39f"/><rect x="760" y="170" width="10" height="10" fill="#f9f39e"/><rect x="770" y="170" width="10" height="10" fill="#f9f29d"/><rect x="780" y="170" width="10" height="10" fill="#f9f09b"/><rect x="790" y="170" width="10" height="10" fill="#f9ee9a"/><rect x="800" y="170" width="10" height="10" fill="#f9ec9a"/><rect x="810" y="170" width="10" height="10" fill="#f9eb9a"/><rect x="820" y="170" width="10" height="10" fill="#f9eb9a"/><rect x="830" y="170" width="10" height="10" fill="#f9eb9a"/><rect x="840" y="170" width="10" height="10" fill="#f9ec9a"/><rect x="850" y="170" width="10" height="10" fill="#f9ee9a"/><rect x="860" y="170" width="10" height="10" fill="#f9ef9b"/><rect x="870" y="170" width="10" height="10" fill="#f9f19c"/><rect x="880" y="170" width="10" height="10" fill="#f9f39f"/><rect x="890" y="170" width="10" height="10" fill="#f8f6a2"/><rect x="900" y="170" width="10" height="10" fill="#f6f7a6"/><rect x="910" y="170" width="10" height="10" fill="#f3f8a9"/><rect x="920" y="170" width="10" height="10" fill="#f1f9ac"/><rect x="930" y="170" width="10" height="10" fill="#f0f9ad"/><rect x="940" y="170" width="10" height="10" fill="#eff9ae"/><rect x="950" y="170" width="10" height="10" fill="#eef9ae"/><rect x="960" y="170" width="10" height="10" fill="#eef9ae"/><rect x="970" y="170" width="10" height="10" fill="#eff9ae"/><rect x="980" y="170" width="10" height="10" fill="#f0f9ad"/><rect x="990" y="170" width="10" height="10" fill="#f2f9ab"/><rect x="1000" y="170" width="10" height="10" fill="#f3f8a9"/><rect x="1010" y="170" width="10" height="10" fill="#f5f7a7"/><rect x="1020" y="170" width="10" height="10" fill="#f6f7a5"/><rect x="1030" y="170" width="10" height="10" fill="#f7f6a4"/><rect x="1040" y="170" width="10" height="10" fill="#f8f6a3"/><rect x="1050" y="170" width="10" height="10" fill="#f8f6a2"/><rect x="1060" y="170" width="10" height="10" fill="#f9f5a1"/><rect x="1070" y="170" width="10" height="10" fill="#f9f5a1"/><rect x="1080" y="170" width="10" height="10" fill="#f9f5a0"/><rect x="1090" y="170" width="10" height="10" fill="#f9f5a1"/><rect x="1100" y="170" width="10" height="10" fill="#f8f6a2"/><rect x="1110" y="170" width="10" height="10" fill="#f8f6a3"/><rect x="1120" y="170" width="10" height="10" fill="#f8f6a2"/><rect x="1130" y="170" width="10" height="10" fill="#f9f5a0"/><rect x="1140" y="170" width="10" height="10" fill="#f9f39e"/><rect x="1150" y="170" width="10" height="10" fill="#f9f19d"/><rect x="1160" y="170" width="10" height="10" fill="#f9f19c"/><rect x="200" y="180" width="10" height="10" fill="#f9e39a"/><rect x="210" y="180" width="10" height="10" fill="#f9e69a"/><rect x="220" y="180" width="10" height="10" fill="#f9eb9a"/><rect x="230" y="180" width="10" height="10" fill="#f9f09b"/><rect x="240" y="180" width="10" height="10" fill="#f9f29e"/><rect x="250" y="180" width="10" height="10" fill="#f9f29e"/><rect x="260" y="180" width="10" height="10" fill="#f9f09c"/><rect x="270" y="180" width="10" height="10" fill="#f9ec9a"/><rect x="280" y="180" width="10" height="10" fill="#f9e79a"/><rect x="290" y="180" width="10" height="10" fill="#f9e39a"/><rect x="300" y="180" width="10" height="10" fill="#f9e29a"/><rect x="310" y="180" width="10" height="10" fill="#f9e29a"/><rect x="320" y="180" width="10" height="10" fill="#f9e19a"/><rect x="330" y="180" width="10" height="10" fill="#f9e19a"/><rect x="340" y="180" width="10" height="10" fill="#f9e19a"/><rect x="350" y="180" width="10" height="10" fill="#f9e19a"/><rect x="360" y="180" width="10" height="10" fill="#f9e19a"/><rect x="370" y="180" width="10" height="10" fill="#f9e19a"/><rect x="380" y="180" width="10" height="10" fill="#f9e19a"/><rect x="390" y="180" width="10" height="10" fill="#f9e19a"/><rect x="400" y="180" width="10" height="10" fill="#f9e19a"/><rect x="520" y="180" width="10" height="10" fill="#f9e09a"/><rect x="530" y="180" width="10" height="10" fill="#f9e09a"/><rect x="540" y="180" width="10" height="10" fill="#f9e09a"/><rect x="550" y="180" width="10" height="10" fill="#f9e09a"/><rect x="560" y="180" width="10" height="10" fill="#f9e09a"/><rect x="570" y="180" width="10" height="10" fill="#f9e09a"/><rect x="590" y="180" width="10" height="10" fill="#f9df9a"/><rect x="600" y="180" width="10" height="10" fill="#f9df9a"/><rect x="610" y="180" width="10" height="10" fill="#f9df9a"/><rect x="620" y="180" width="10" height="10" fill="#f9df9a"/><rect x="630" y="180" width="10" height="10" fill="#f9df9a"/><rect x="640" y="180" width="10" height="10" fill="#f9df9a"/><rect x="650" y="180" width="10" height="10" fill="#f9df9a"/><rect x="660" y="180" width="10" height="10" fill="#f9df9a"/><rect x="670" y="180" width="10" height="10" fill="#f9df9a"/><rect x="680" y="180" width="10" height="10" fill="#f9df9a"/><rect x="690" y="180" width="10" height="10" fill="#f9df9a"/><rect x="700" y="180" width="10" height="10" fill="#f9df9a"/><rect x="710" y="180" width="10" height="10" fill="#f9e09a"/><rect x="720" y="180" width="10" height="10" fill="#f9e19a"/><rect x="730" y="180" width="10" height="10" fill="#f9e39a"/><rect x="740" y="180" width="10" height="10" fill="#f9e49a"/><rect x="750" y="180" width="10" height="10" fill="#f9e69a"/><rect x="760" y="180" width="10" height="10" fill="#f9e69a"/><rect x="770" y="180" width="10" height="10" fill="#f9e49a"/><rect x="780" y="180" width="10" height="10" fill="#f9e39a"/><rect x="790" y="180" width="10" height="10" fill="#f9e29a"/><rect x="800" y="180" width="10" height="10" fill="#f9e39a"/><rect x="810" y="180" width="10" height="10" fill="#f9e79a"/><rect x="820" y="180" width="10" height="10" fill="#f9eb9a"/><rect x="830" y="180" width="10" height="10" fill="#f9ee9a"/><rect x="840" y="180" width="10" height="10" fill="#f9ef9a"/><rect x="850" y="180" width="10" height="10" fill="#f9ef9b"/><rect x="860" y="180" width="10" height="10" fill="#f9f09b"/><rect x="870" y="180" width="10" height="10" fill="#f9f29d"/><rect x="880" y="180" width="10" height="10" fill="#f9f5a0"/><rect x="890" y="180" width="10" height="10" fill="#f5f7a6"/><rect x="900" y="180" width="10" height="10" fill="#f1f9ac"/><rect x="910" y="180" width="10" height="10" fill="#edf9af"/><rect x="920" y="180" width="10" height="10" fill="#e9f9b3"/><rect x="930" y="180" width="10" height="10" fill="#e6f9b5"/><rect x="940" y="180" width="10" height="10" fill="#e5f9b6"/><rect x="950" y="180" width="10" height="10" fill="#e5f9b6"/><rect x="960" y="180" width="10" height="10" fill="#e6f9b5"/><rect x="970" y="180" width="10" height="10" fill="#e9f9b3"/><rect x="980" y="180" width="10" height="10" fill="#ecf9b0"/><rect x="990" y="180" width="10" height="10" fill="#f0f9ad"/><rect x="1000" y="180" width="10" height="10" fill="#f3f8aa"/><rect x="1010" y="180" width="10" height="10" fill="#f6f7a5"/><rect x="1020" y="180" width="10" height="10" fill="#f9f5a1"/><rect x="1030" y="180" width="10" height="10" fill="#f9f39f"/><rect x="1040" y="180" width="10" height="10" fill="#f9f19d"/><rect x="1050" y="180" width="10" height="10" fill="#f9ef9b"/><rect x="1060" y="180" width="10" height="10" fill="#f9ed9a"/><rect x="1070" y="180" width="10" height="10" fill="#f9eb9a"/><rect x="1080" y="180" width="10" height="10" fill="#f9eb9a"/><rect x="1090" y="180" width="10" height="10" fill="#f9ec9a"/><rect x="1100" y="180" width="10" height="10" fill="#f9ee9a"/><rect x="1110" y="180" width="10" height="10" fill="#f9ef9b"/><rect x="1120" y="180" width="10" height="10" fill="#f9ef9b"/><rect x="1130" y="180" width="10" height="10" fill="#f9ec9a"/><rect x="1140" y="180" width="10" height="10" fill="#f9e89a"/><rect x="1150" y="180" width="10" height="10" fill="#f9e59a"/><rect x="200" y="190" width="10" height="10" fill="#f9d99a"/><rect x="210" y="190" width="10" height="10" fill="#f9d99a"/><rect x="220" y="190" width="10" height="10" fill="#f9db9a"/><rect x="230" y="190" width="10" height="10" fill="#f9dd9a"/><rect x="240" y="190" width="10" height="10" fill="#f9df9a"/><rect x="250" y="190" width="10" height="10" fill="#f9e09a"/><rect x="260" y="190" width="10" height="10" fill="#f9df9a"/><rect x="270" y="190" width="10" height="10" fill="#f9dd9a"/><rect x="280" y="190" width="10" height="10" fill="#f9db9a"/><rect x="290" y="190" width="10" height="10" fill="#f9d99a"/><rect x="300" y="190" width="10" height="10" fill="#f9d99a"/><rect x="310" y="190" width="10" height="10" fill="#f9d89a"/><rect x="320" y="190" width="10" height="10" fill="#f9d89a"/><rect x="330" y="190" width="10" height="10" fill="#f9d89a"/><rect x="340" y="190" width="10" height="10" fill="#f9d89a"/><rect x="350" y="190" width="10" height="10" fill="#f9d89a"/><rect x="360" y="190" width="10" height="10" fill="#f9d89a"/><rect x="370" y="190" width="10" height="10" fill="#f9d89a"/><rect x="380" y="190" width="10" height="10" fill="#f9d89a"/><rect x="390" y="190" width="10" height="10" fill="#f9d89a"/><rect x="530" y="190" width="10" height="10" fill="#f9d89b"/><rect x="540" y="190" width="10" height="10" fill="#f9d89b"/><rect x="550" y="190" width="10" height="10" fill="#f9d89b"/><rect x="560" y="190" width="10" height="10" fill="#f9d89b"/><rect x="590" y="190" width="10" height="10" fill="#f9d79b"/><rect x="600" y="190" width="10" height="10" fill="#f9d79b"/><rect x="610" y="190" width="10" height="10" fill="#f9d79b"/><rect x="620" y="190" width="10" height="10" fill="#f9d79b"/><rect x="630" y="190" width="10" height="10" fill="#f9d79b"/><rect x="640" y="190" width="10" height="10" fill="#f9d79b"/><rect x="650" y="190" width="10" height="10" fill="#f9d79b"/><rect x="660" y="190" width="10" height="10" fill="#f9d79b"/><rect x="670" y="190" width="10" height="10" fill="#f9d79b"/><rect x="680" y="190" width="10" height="10" fill="#f9d79b"/><rect x="690" y="190" width="10" height="10" fill="#f9d79b"/><rect x="700" y="190" width="10" height="10" fill="#f9d79b"/><rect x="710" y="190" width="10" height="10" fill="#f9d79b"/><rect x="720" y="190" width="10" height="10" fill="#f9d79b"/><rect x="730" y="190" width="10" height="10" fill="#f9d89b"/><rect x="740" y="190" width="10" height="10" fill="#f9d89a"/><rect x="750" y="190" width="10" height="10" fill="#f9d89a"/><rect x="760" y="190" width="10" height="10" fill="#f9d89a"/><rect x="770" y="190" width="10" height="10" fill="#f9d89a"/><rect x="780" y="190" width="10" height="10" fill="#f9d89a"/><rect x="790" y="190" width="10" height="10" fill="#f9d99a"/><rect x="800" y="190" width="10" height="10" fill="#f9db9a"/><rect x="810" y="190" width="10" height="10" fill="#f9df9a"/><rect x="820" y="190" width="10" height="10" fill="#f9e59a"/><rect x="830" y="190" width="10" height="10" fill="#f9ea9a"/><rect x="840" y="190" width="10" height="10" fill="#f9eb9a"/><rect x="850" y="190" width="10" height="10" fill="#f9eb9a"/><rect x="860" y="190" width="10" height="10" fill="#f9ec9a"/><rect x="870" y="190" width="10" height="10" fill="#f9ef9b"/><rect x="880" y="190" width="10" height="10" fill="#f9f39f"/><rect x="890" y="190" width="10" height="10" fill="#f6f7a5"/><rect x="900" y="190" width="10" height="10" fill="#f1f9ac"/><rect x="910" y="190" width="10" height="10" fill="#ebf9b1"/><rect x="920" y="190" width="10" height="10" fill="#e6f9b5"/><rect x="930" y="190" width="10" height="10" fill="#e3f9b7"/><rect x="940" y="190" width="10" height="10" fill="#e1f9b9"/><rect x="950" y="190" width="10" height="10" fill="#e1f9b9"/><rect x="960" y="190" width="10" height="10" fill="#e3f9b7"/><rect x="970" y="190" width="10" height="10" fill="#e5f9b5"/><rect x="980" y="190" width="10" height="10" fill="#e9f9b2"/><rect x="990" y="190" width="10" height="10" fill="#eef9ae"/><rect x="1000" y="190" width="10" height="10" fill="#f3f8a9"/><rect x="1010" y="190" width="10" height="10" fill="#f7f6a3"/><rect x="1020" y="190" width="10" height="10" fill="#f9f39f"/><rect x="1030" y="190" width="10" height="10" fill="#f9f09b"/><rect x="1040" y="190" width="10" height="10" fill="#f9eb9a"/><rect x="1050" y="190" width="10" height="10" fill="#f9e69a"/><rect x="1060" y="190" width="10" height="10" fill="#f9e19a"/><rect x="1070" y="190" width="10" height="10" fill="#f9df9a"/><rect x="1080" y="190" width="10" height="10" fill="#f9dd9a"/><rect x="1090" y="190" width="10" height="10" fill="#f9dd9a"/><rect x="1100" y="190" width="10" height="10" fill="#f9de9a"/><rect x="1110" y="190" width="10" height="10" fill="#f9df9a"/><rect x="1120" y="190" width="10" height="10" fill="#f9de9a"/><rect x="1130" y="190" width="10" height="10" fill="#f9dd9a"/><rect x="1140" y="190" width="10" height="10" fill="#f9db9a"/><rect x="210" y="200" width="10" height="10" fill="#f9ce9d"/><rect x="220" y="200" width="10" height="10" fill="#f9d09d"/><rect x="230" y="200" width="10" height="10" fill="#f9d29d"/><rect x="240" y="200" width="10" height="10" fill="#f9d59c"/><rect x="250" y="200" width="10" height="10" fill="#f9d69b"/><rect x="260" y="200" width="10" height="10" fill="#f9d79b"/><rect x="270" y="200" width="10" height="10" fill="#f9d69b"/><rect x="280" y="200" width="10" height="10" fill="#f9d49d"/><rect x="290" y="200" width="10" height="10" fill="#f9d19d"/><rect x="300" y="200" width="10" height="10" fill="#f9cf9d"/><rect x="310" y="200" width="10" height="10" fill="#f9ce9d"/><rect x="320" y="200" width="10" height="10" fill="#f9cd9d"/><rect x="330" y="200" width="10" height="10" fill="#f9cd9d"/><rect x="340" y="200" width="10" height="10" fill="#f9cd9d"/><rect x="350" y="200" width="10" height="10" fill="#f9cd9d"/><rect x="360" y="200" width="10" height="10" fill="#f9cd9d"/><rect x="370" y="200" width="10" height="10" fill="#f9cd9d"/><rect x="380" y="200" width="10" height="10" fill="#f9cd9d"/><rect x="580" y="200" width="10" height="10" fill="#f9cc9d"/><rect x="590" y="200" width="10" height="10" fill="#f9cc9d"/><rect x="600" y="200" width="10" height="10" fill="#f9cc9d"/><rect x="610" y="200" width="10" height="10" fill="#f9cc9d"/><rect x="620" y="200" width="10" height="10" fill="#f9cc9d"/><rect x="630" y="200" width="10" height="10" fill="#f9cc9d"/><rect x="640" y="200" width="10" height="10" fill="#f9cc9d"/><rect x="650" y="200" width="10" height="10" fill="#f9cc9d"/><rect x="660" y="200" width="10" height="10" fill="#f9cc9d"/><rect x="670" y="200" width="10" height="10" fill="#f9cc9d"/><rect x="680" y="200" width="10" height="10" fill="#f9cc9d"/><rect x="690" y="200" width="10" height="10" fill="#f9cc9d"/><rect x="700" y="200" width="10" height="10" fill="#f9cc9d"/><rect x="710" y="200" width="10" height="10" fill="#f9cc9d"/><rect x="720" y="200" width="10" height="10" fill="#f9cc9d"/><rect x="730" y="200" width="10" height="10" fill="#f9cc9d"/><rect x="740" y="200" width="10" height="10" fill="#f9cc9d"/><rect x="750" y="200" width="10" height="10" fill="#f9cc9d"/><rect x="760" y="200" width="10" height="10" fill="#f9cd9d"/><rect x="770" y="200" width="10" height="10" fill="#f9cd9d"/><rect x="780" y="200" width="10" height="10" fill="#f9cd9d"/><rect x="790" y="200" width="10" height="10" fill="#f9ce9d"/><rect x="800" y="200" width="10" height="10" fill="#f9d09d"/><rect x="810" y="200" width="10" height="10" fill="#f9d39d"/><rect x="820" y="200" width="10" height="10" fill="#f9d69b"/><rect x="830" y="200" width="10" height="10" fill="#f9d89a"/><rect x="840" y="200" width="10" height="10" fill="#f9d99a"/><rect x="850" y="200" width="10" height="10" fill="#f9d99a"/><rect x="860" y="200" width="10" height="10" fill="#f9db9a"/><rect x="870" y="200" width="10" height="10" fill="#f9dd9a"/><rect x="880" y="200" width="10" height="10" fill="#f9e19a"/><rect x="890" y="200" width="10" height="10" fill="#f9e99a"/><rect x="900" y="200" width="10" height="10" fill="#f9f09c"/><rect x="910" y="200" width="10" height="10" fill="#f9f4a0"/><rect x="920" y="200" width="10" height="10" fill="#f6f7a5"/><rect x="930" y="200" width="10" height="10" fill="#f4f8a8"/><rect x="940" y="200" width="10" height="10" fill="#f2f9aa"/><rect x="950" y="200" width="10" height="10" fill="#f2f9ab"/><rect x="960" y="200" width="10" height="10" fill="#f1f9ac"/><rect x="970" y="200" width="10" height="10" fill="#f1f9ac"/><rect x="980" y="200" width="10" height="10" fill="#f2f9ab"/><rect x="990" y="200" width="10" height="10" fill="#f5f7a6"/><rect x="1000" y="200" width="10" height="10" fill="#f9f4a0"/><rect x="1010" y="200" width="10" height="10" fill="#f9f09c"/><rect x="1020" y="200" width="10" height="10" fill="#f9eb9a"/><rect x="1030" y="200" width="10" height="10" fill="#f9e59a"/><rect x="1040" y="200" width="10" height="10" fill="#f9df9a"/><rect x="1050" y="200" width="10" height="10" fill="#f9dc9a"/><rect x="1060" y="200" width="10" height="10" fill="#f9d99a"/><rect x="1070" y="200" width="10" height="10" fill="#f9d79b"/><rect x="1080" y="200" width="10" height="10" fill="#f9d59c"/><rect x="1090" y="200" width="10" height="10" fill="#f9d49d"/><rect x="1100" y="200" width="10" height="10" fill="#f9d39d"/><rect x="1110" y="200" width="10" height="10" fill="#f9d39d"/><rect x="1120" y="200" width="10" height="10" fill="#f9d29d"/><rect x="1130" y="200" width="10" height="10" fill="#f9d19d"/><rect x="1140" y="200" width="10" height="10" fill="#f9cf9d"/><rect x="80" y="210" width="10" height="10" fill="#fac59d"/><rect x="220" y="210" width="10" height="10" fill="#fac79d"/><rect x="230" y="210" width="10" height="10" fill="#fac99d"/><rect x="240" y="210" width="10" height="10" fill="#f9ce9d"/><rect x="250" y="210" width="10" height="10" fill="#f9d29d"/><rect x="260" y="210" width="10" height="10" fill="#f9d59c"/><rect x="270" y="210" width="10" height="10" fill="#f9d49c"/><rect x="280" y="210" width="10" height="10" fill="#f9d19d"/><rect x="290" y="210" width="10" height="10" fill="#f9cc9d"/><rect x="300" y="210" width="10" height="10" fill="#fac79d"/><rect x="310" y="210" width="10" height="10" fill="#fac69d"/><rect x="320" y="210" width="10" height="10" fill="#fac59d"/><rect x="330" y="210" width="10" height="10" fill="#fac59d"/><rect x="340" y="210" width="10" height="10" fill="#fac59d"/><rect x="350" y="210" width="10" height="10" fill="#fac59d"/><rect x="360" y="210" width="10" height="10" fill="#fac59d"/><rect x="370" y="210" width="10" height="10" fill="#fac59d"/><rect x="570" y="210" width="10" height="10" fill="#fac59d"/><rect x="580" y="210" width="10" height="10" fill="#fac59d"/><rect x="590" y="210" width="10" height="10" fill="#fac59d"/><rect x="600" y="210" width="10" height="10" fill="#fac59d"/><rect x="610" y="210" width="10" height="10" fill="#fac59d"/><rect x="620" y="210" width="10" height="10" fill="#fac59d"/><rect x="630" y="210" width="10" height="10" fill="#fac59d"/><rect x="640" y="210" width="10" height="10" fill="#fac59d"/><rect x="650" y="210" width="10" height="10" fill="#fac59d"/><rect x="660" y="210" width="10" height="10" fill="#fac59d"/><rect x="670" y="210" width="10" height="10" fill="#fac59d"/><rect x="680" y="210" width="10" height="10" fill="#fac59d"/><rect x="690" y="210" width="10" height="10" fill="#fac59d"/><rect x="700" y="210" width="10" height="10" fill="#fac59d"/><rect x="710" y="210" width="10" height="10" fill="#fac59d"/><rect x="720" y="210" width="10" height="10" fill="#fac59d"/><rect x="730" y="210" width="10" height="10" fill="#fac59d"/><rect x="740" y="210" width="10" height="10" fill="#fac59d"/><rect x="750" y="210" width="10" height="10" fill="#fac59d"/><rect x="760" y="210" width="10" height="10" fill="#fac59d"/><rect x="770" y="210" width="10" height="10" fill="#fac59d"/><rect x="780" y="210" width="10" height="10" fill="#fac59d"/><rect x="790" y="210" width="10" height="10" fill="#fac59d"/><rect x="800" y="210" width="10" height="10" fill="#fac69d"/><rect x="810" y="210" width="10" height="10" fill="#fac69d"/><rect x="820" y="210" width="10" height="10" fill="#fac79d"/><rect x="830" y="210" width="10" height="10" fill="#fac89d"/><rect x="840" y="210" width="10" height="10" fill="#fac99d"/><rect x="850" y="210" width="10" height="10" fill="#f9cb9d"/><rect x="860" y="210" width="10" height="10" fill="#f9cd9d"/><rect x="870" y="210" width="10" height="10" fill="#f9cf9d"/><rect x="880" y="210" width="10" height="10" fill="#f9d29d"/><rect x="890" y="210" width="10" height="10" fill="#f9d59c"/><rect x="900" y="210" width="10" height="10" fill="#f9d79b"/><rect x="910" y="210" width="10" height="10" fill="#f9da9a"/><rect x="920" y="210" width="10" height="10" fill="#f9dc9a"/><rect x="930" y="210" width="10" height="10" fill="#f9de9a"/><rect x="940" y="210" width="10" height="10" fill="#f9df9a"/><rect x="950" y="210" width="10" height="10" fill="#f9e29a"/><rect x="960" y="210" width="10" height="10" fill="#f9e99a"/><rect x="970" y="210" width="10" height="10" fill="#f9f09c"/><rect x="980" y="210" width="10" height="10" fill="#f9f39e"/><rect x="990" y="210" width="10" height="10" fill="#f9f19c"/><rect x="1000" y="210" width="10" height="10" fill="#f9e99a"/><rect x="1010" y="210" width="10" height="10" fill="#f9e29a"/><rect x="1020" y="210" width="10" height="10" fill="#f9df9a"/><rect x="1030" y="210" width="10" height="10" fill="#f9dd9a"/><rect x="1040" y="210" width="10" height="10" fill="#f9da9a"/><rect x="1050" y="210" width="10" height="10" fill="#f9d89b"/><rect x="1060" y="210" width="10" height="10" fill="#f9d59c"/><rect x="1070" y="210" width="10" height="10" fill="#f9d29d"/><rect x="1080" y="210" width="10" height="10" fill="#f9ce9d"/><rect x="1090" y="210" width="10" height="10" fill="#f9cb9d"/><rect x="1100" y="210" width="10" height="10" fill="#fac99d"/><rect x="1110" y="210" width="10" height="10" fill="#fac89d"/><rect x="1120" y="210" width="10" height="10" fill="#fac79d"/><rect x="70" y="220" width="10" height="10" fill="#fabf9e"/><rect x="80" y="220" width="10" height="10" fill="#fabf9e"/><rect x="90" y="220" width="10" height="10" fill="#fabf9e"/><rect x="100" y="220" width="10" height="10" fill="#fabf9e"/><rect x="110" y="220" width="10" height="10" fill="#fabf9e"/><rect x="220" y="220" width="10" height="10" fill="#fac09e"/><rect x="230" y="220" width="10" height="10" fill="#fac29d"/><rect x="240" y="220" width="10" height="10" fill="#fac69d"/><rect x="250" y="220" width="10" height="10" fill="#f9cb9d"/><rect x="260" y="220" width="10" height="10" fill="#f9d09d"/><rect x="270" y="220" width="10" height="10" fill="#f9cf9d"/><rect x="280" y="220" width="10" height="10" fill="#f9ca9d"/><rect x="290" y="220" width="10" height="10" fill="#fac59d"/><rect x="300" y="220" width="10" height="10" fill="#fac29d"/><rect x="310" y="220" width="10" height="10" fill="#fac09e"/><rect x="320" y="220" width="10" height="10" fill="#fabf9e"/><rect x="330" y="220" width="10" height="10" fill="#fabf9e"/><rect x="340" y="220" width="10" height="10" fill="#fabf9e"/><rect x="350" y="220" width="10" height="10" fill="#fabf9e"/><rect x="360" y="220" width="10" height="10" fill="#fabf9e"/><rect x="370" y="220" width="10" height="10" fill="#fabf9e"/><rect x="380" y="220" width="10" height="10" fill="#fabf9e"/><rect x="390" y="220" width="10" height="10" fill="#fabf9e"/><rect x="400" y="220" width="10" height="10" fill="#fabf9e"/><rect x="570" y="220" width="10" height="10" fill="#fabf9e"/><rect x="580" y="220" width="10" height="10" fill="#fabf9e"/><rect x="590" y="220" width="10" height="10" fill="#fabf9e"/><rect x="600" y="220" width="10" height="10" fill="#fabf9e"/><rect x="610" y="220" width="10" height="10" fill="#fabf9e"/><rect x="620" y="220" width="10" height="10" fill="#fabf9e"/><rect x="630" y="220" width="10" height="10" fill="#fabf9e"/><rect x="640" y="220" width="10" height="10" fill="#fabf9e"/><rect x="650" y="220" width="10" height="10" fill="#fabf9e"/><rect x="660" y="220" width="10" height="10" fill="#fabf9e"/><rect x="670" y="220" width="10" height="10" fill="#fabf9e"/><rect x="680" y="220" width="10" height="10" fill="#fabf9e"/><rect x="690" y="220" width="10" height="10" fill="#fabf9e"/><rect x="700" y="220" width="10" height="10" fill="#fabf9e"/><rect x="710" y="220" width="10" height="10" fill="#fabf9e"/><rect x="720" y="220" width="10" height="10" fill="#fabf9e"/><rect x="730" y="220" width="10" height="10" fill="#fabf9e"/><rect x="740" y="220" width="10" height="10" fill="#fabf9e"/><rect x="750" y="220" width="10" height="10" fill="#fabf9e"/><rect x="760" y="220" width="10" height="10" fill="#fabf9e"/><rect x="770" y="220" width="10" height="10" fill="#fabf9e"/><rect x="780" y="220" width="10" height="10" fill="#fabf9e"/><rect x="790" y="220" width="10" height="10" fill="#fabf9e"/><rect x="800" y="220" width="10" height="10" fill="#fabf9e"/><rect x="810" y="220" width="10" height="10" fill="#fabf9e"/><rect x="820" y="220" width="10" height="10" fill="#fabf9e"/><rect x="830" y="220" width="10" height="10" fill="#fac09e"/><rect x="840" y="220" width="10" height="10" fill="#fac09e"/><rect x="850" y="220" width="10" height="10" fill="#fac09d"/><rect x="860" y="220" width="10" height="10" fill="#fac19d"/><rect x="870" y="220" width="10" height="10" fill="#fac29d"/><rect x="880" y="220" width="10" height="10" fill="#fac29d"/><rect x="890" y="220" width="10" height="10" fill="#fac39d"/><rect x="900" y="220" width="10" height="10" fill="#fac49d"/><rect x="910" y="220" width="10" height="10" fill="#fac59d"/><rect x="920" y="220" width="10" height="10" fill="#fac69d"/><rect x="930" y="220" width="10" height="10" fill="#fac79d"/><rect x="940" y="220" width="10" height="10" fill="#fac99d"/><rect x="950" y="220" width="10" height="10" fill="#f9cd9d"/><rect x="960" y="220" width="10" height="10" fill="#f9d39d"/><rect x="970" y="220" width="10" height="10" fill="#f9da9a"/><rect x="980" y="220" width="10" height="10" fill="#f9df9a"/><rect x="990" y="220" width="10" height="10" fill="#f9de9a"/><rect x="1000" y="220" width="10" height="10" fill="#f9da9a"/><rect x="1010" y="220" width="10" height="10" fill="#f9d79b"/><rect x="1020" y="220" width="10" height="10" fill="#f9d69b"/><rect x="1030" y="220" width="10" height="10" fill="#f9d59c"/><rect x="1040" y="220" width="10" height="10" fill="#f9d49d"/><rect x="1050" y="220" width="10" height="10" fill="#f9d19d"/><rect x="1060" y="220" width="10" height="10" fill="#f9cd9d"/><rect x="1070" y="220" width="10" height="10" fill="#fac99d"/><rect x="1080" y="220" width="10" height="10" fill="#fac69d"/><rect x="1090" y="220" width="10" height="10" fill="#fac49d"/><rect x="1100" y="220" width="10" height="10" fill="#fac29d"/><rect x="60" y="230" width="10" height="10" fill="#fabba0"/><rect x="70" y="230" width="10" height="10" fill="#fabba0"/><rect x="80" y="230" width="10" height="10" fill="#fabba0"/><rect x="90" y="230" width="10" height="10" fill="#fabba0"/><rect x="100" y="230" width="10" height="10" fill="#fabba0"/><rect x="110" y="230" width="10" height="10" fill="#fabba0"/><rect x="230" y="230" width="10" height="10" fill="#fabe9f"/><rect x="240" y="230" width="10" height="10" fill="#fac19d"/><rect x="250" y="230" width="10" height="10" fill="#fac49d"/><rect x="260" y="230" width="10" height="10" fill="#fac69d"/><rect x="270" y="230" width="10" height="10" fill="#fac69d"/><rect x="280" y="230" width="10" height="10" fill="#fac49d"/><rect x="290" y="230" width="10" height="10" fill="#fac09d"/><rect x="300" y="230" width="10" height="10" fill="#fabe9f"/><rect x="310" y="230" width="10" height="10" fill="#fabca0"/><rect x="320" y="230" width="10" height="10" fill="#fabba0"/><rect x="330" y="230" width="10" height="10" fill="#fabba0"/><rect x="340" y="230" width="10" height="10" fill="#fabba0"/><rect x="350" y="230" width="10" height="10" fill="#fabba0"/><rect x="360" y="230" width="10" height="10" fill="#fabba0"/><rect x="370" y="230" width="10" height="10" fill="#fabba0"/><rect x="380" y="230" width="10" height="10" fill="#fabba0"/><rect x="390" y="230" width="10" height="10" fill="#fabba0"/><rect x="400" y="230" width="10" height="10" fill="#fabba0"/><rect x="410" y="230" width="10" height="10" fill="#fabba0"/><rect x="420" y="230" width="10" height="10" fill="#fabba0"/><rect x="540" y="230" width="10" height="10" fill="#fabba0"/><rect x="550" y="230" width="10" height="10" fill="#fabba0"/><rect x="560" y="230" width="10" height="10" fill="#fabba0"/><rect x="570" y="230" width="10" height="10" fill="#fabba0"/><rect x="580" y="230" width="10" height="10" fill="#fabba0"/><rect x="590" y="230" width="10" height="10" fill="#fabba0"/><rect x="600" y="230" width="10" height="10" fill="#fabba0"/><rect x="610" y="230" width="10" height="10" fill="#fabba0"/><rect x="620" y="230" width="10" height="10" fill="#fabba0"/><rect x="630" y="230" width="10" height="10" fill="#fabba0"/><rect x="640" y="230" width="10" height="10" fill="#fabba0"/><rect x="650" y="230" width="10" height="10" fill="#fabba0"/><rect x="660" y="230" width="10" height="10" fill="#fabba0"/><rect x="670" y="230" width="10" height="10" fill="#fabba0"/><rect x="680" y="230" width="10" height="10" fill="#fabba0"/><rect x="690" y="230" width="10" height="10" fill="#fabba0"/><rect x="700" y="230" width="10" height="10" fill="#fabba0"/><rect x="710" y="230" width="10" height="10" fill="#fabca0"/><rect x="720" y="230" width="10" height="10" fill="#fabca0"/><rect x="730" y="230" width="10" height="10" fill="#fabca0"/><rect x="740" y="230" width="10" height="10" fill="#fabca0"/><rect x="750" y="230" width="10" height="10" fill="#fabc9f"/><rect x="760" y="230" width="10" height="10" fill="#fabc9f"/><rect x="770" y="230" width="10" height="10" fill="#fabc9f"/><rect x="780" y="230" width="10" height="10" fill="#fabca0"/><rect x="790" y="230" width="10" height="10" fill="#fabca0"/><rect x="800" y="230" width="10" height="10" fill="#fabba0"/><rect x="810" y="230" width="10" height="10" fill="#fabba0"/><rect x="820" y="230" width="10" height="10" fill="#fabba0"/><rect x="830" y="230" width="10" height="10" fill="#fabba0"/><rect x="840" y="230" width="10" height="10" fill="#fabba0"/><rect x="850" y="230" width="10" height="10" fill="#fabca0"/><rect x="860" y="230" width="10" height="10" fill="#fabca0"/><rect x="870" y="230" width="10" height="10" fill="#fabca0"/><rect x="880" y="230" width="10" height="10" fill="#fabca0"/><rect x="890" y="230" width="10" height="10" fill="#fabc9f"/><rect x="900" y="230" width="10" height="10" fill="#fabd9f"/><rect x="910" y="230" width="10" height="10" fill="#fabd9f"/><rect x="920" y="230" width="10" height="10" fill="#fabd9f"/><rect x="930" y="230" width="10" height="10" fill="#fabe9f"/><rect x="940" y="230" width="10" height="10" fill="#fabf9e"/><rect x="950" y="230" width="10" height="10" fill="#fac19d"/><rect x="960" y="230" width="10" height="10" fill="#fac49d"/><rect x="970" y="230" width="10" height="10" fill="#faca9d"/><rect x="980" y="230" width="10" height="10" fill="#f9d09d"/><rect x="990" y="230" width="10" height="10" fill="#f9d19d"/><rect x="1000" y="230" width="10" height="10" fill="#f9cf9d"/><rect x="1010" y="230" width="10" height="10" fill="#f9ce9d"/><rect x="1020" y="230" width="10" height="10" fill="#f9ce9d"/><rect x="1030" y="230" width="10" height="10" fill="#f9ce9d"/><rect x="1040" y="230" width="10" height="10" fill="#f9cc9d"/><rect x="1050" y="230" width="10" height="10" fill="#fac99d"/><rect x="1060" y="230" width="10" height="10" fill="#fac69d"/><rect x="1070" y="230" width="10" height="10" fill="#fac49d"/><rect x="1080" y="230" width="10" height="10" fill="#fac29d"/><rect x="70" y="240" width="10" height="10" fill="#fab7a1"/><rect x="80" y="240" width="10" height="10" fill="#fab7a1"/><rect x="90" y="240" width="10" height="10" fill="#fab7a1"/><rect x="100" y="240" width="10" height="10" fill="#fab7a1"/><rect x="110" y="240" width="10" height="10" fill="#fab7a1"/><rect x="120" y="240" width="10" height="10" fill="#fab7a1"/><rect x="240" y="240" width="10" height="10" fill="#fabaa0"/><rect x="250" y="240" width="10" height="10" fill="#fabca0"/><rect x="260" y="240" width="10" height="10" fill="#fabd9f"/><rect x="270" y="240" width="10" height="10" fill="#fabd9f"/><rect x="280" y="240" width="10" height="10" fill="#fabca0"/><rect x="290" y="240" width="10" height="10" fill="#fabaa0"/><rect x="300" y="240" width="10" height="10" fill="#fab9a1"/><rect x="310" y="240" width="10" height="10" fill="#fab8a1"/><rect x="320" y="240" width="10" height="10" fill="#fab7a1"/><rect x="330" y="240" width="10" height="10" fill="#fab7a1"/><rect x="340" y="240" width="10" height="10" fill="#fab7a1"/><rect x="350" y="240" width="10" height="10" fill="#fab7a1"/><rect x="360" y="240" width="10" height="10" fill="#fab7a1"/><rect x="370" y="240" width="10" height="10" fill="#fab7a1"/><rect x="380" y="240" width="10" height="10" fill="#fab7a1"/><rect x="390" y="240" width="10" height="10" fill="#fab7a1"/><rect x="400" y="240" width="10" height="10" fill="#fab7a1"/><rect x="410" y="240" width="10" height="10" fill="#fab7a1"/><rect x="420" y="240" width="10" height="10" fill="#fab7a1"/><rect x="430" y="240" width="10" height="10" fill="#fab7a1"/><rect x="530" y="240" width="10" height="10" fill="#fab7a1"/><rect x="540" y="240" width="10" height="10" fill="#fab7a1"/><rect x="550" y="240" width="10" height="10" fill="#fab7a1"/><rect x="560" y="240" width="10" height="10" fill="#fab7a1"/><rect x="570" y="240" width="10" height="10" fill="#fab7a1"/><rect x="580" y="240" width="10" height="10" fill="#fab7a1"/><rect x="590" y="240" width="10" height="10" fill="#fab7a1"/><rect x="600" y="240" width="10" height="10" fill="#fab7a1"/><rect x="610" y="240" width="10" height="10" fill="#fab7a1"/><rect x="620" y="240" width="10" height="10" fill="#fab7a1"/><rect x="630" y="240" width="10" height="10" fill="#fab7a1"/><rect x="640" y="240" width="10" height="10" fill="#fab7a1"/><rect x="650" y="240" width="10" height="10" fill="#fab7a1"/><rect x="660" y="240" width="10" height="10" fill="#fab7a1"/><rect x="670" y="240" width="10" height="10" fill="#fab7a1"/><rect x="680" y="240" width="10" height="10" fill="#fab7a1"/><rect x="690" y="240" width="10" height="10" fill="#fab7a1"/><rect x="700" y="240" width="10" height="10" fill="#fab8a1"/><rect x="710" y="240" width="10" height="10" fill="#fab8a1"/><rect x="720" y="240" width="10" height="10" fill="#fab8a1"/><rect x="730" y="240" width="10" height="10" fill="#fab9a1"/><rect x="740" y="240" width="10" height="10" fill="#fab9a1"/><rect x="750" y="240" width="10" height="10" fill="#fabaa1"/><rect x="760" y="240" width="10" height="10" fill="#fabba0"/><rect x="770" y="240" width="10" height="10" fill="#fabba0"/><rect x="780" y="240" width="10" height="10" fill="#fabaa1"/><rect x="790" y="240" width="10" height="10" fill="#fab8a1"/><rect x="800" y="240" width="10" height="10" fill="#fab7a1"/><rect x="810" y="240" width="10" height="10" fill="#fab7a1"/><rect x="820" y="240" width="10" height="10" fill="#fab7a1"/><rect x="830" y="240" width="10" height="10" fill="#fab7a1"/><rect x="840" y="240" width="10" height="10" fill="#fab7a1"/><rect x="850" y="240" width="10" height="10" fill="#fab7a1"/><rect x="860" y="240" width="10" height="10" fill="#fab7a1"/><rect x="870" y="240" width="10" height="10" fill="#fab7a1"/><rect x="880" y="240" width="10" height="10" fill="#fab7a1"/><rect x="890" y="240" width="10" height="10" fill="#fab7a1"/><rect x="900" y="240" width="10" height="10" fill="#fab7a1"/><rect x="910" y="240" width="10" height="10" fill="#fab7a1"/><rect x="920" y="240" width="10" height="10" fill="#fab8a1"/><rect x="930" y="240" width="10" height="10" fill="#fab8a1"/><rect x="940" y="240" width="10" height="10" fill="#fab9a1"/><rect x="950" y="240" width="10" height="10" fill="#fabaa0"/><rect x="960" y="240" width="10" height="10" fill="#fabc9f"/><rect x="970" y="240" width="10" height="10" fill="#fabf9e"/><rect x="980" y="240" width="10" height="10" fill="#fac19d"/><rect x="990" y="240" width="10" height="10" fill="#fac29d"/><rect x="1000" y="240" width="10" height="10" fill="#fac39d"/><rect x="1010" y="240" width="10" height="10" fill="#fac49d"/><rect x="1020" y="240" width="10" height="10" fill="#fac59d"/><rect x="1030" y="240" width="10" height="10" fill="#fac49d"/><rect x="1040" y="240" width="10" height="10" fill="#fac49d"/><rect x="1050" y="240" width="10" height="10" fill="#fac29d"/><rect x="1060" y="240" width="10" height="10" fill="#fac09d"/><rect x="1070" y="240" width="10" height="10" fill="#fabf9e"/><rect x="1080" y="240" width="10" height="10" fill="#fabd9f"/><rect x="70" y="250" width="10" height="10" fill="#fab4a1"/><rect x="80" y="250" width="10" height="10" fill="#fab4a1"/><rect x="90" y="250" width="10" height="10" fill="#fab4a1"/><rect x="100" y="250" width="10" height="10" fill="#fab4a1"/><rect x="110" y="250" width="10" height="10" fill="#fab4a1"/><rect x="270" y="250" width="10" height="10" fill="#fab7a1"/><rect x="280" y="250" width="10" height="10" fill="#fab6a1"/><rect x="290" y="250" width="10" height="10" fill="#fab6a1"/><rect x="300" y="250" width="10" height="10" fill="#fab5a1"/><rect x="310" y="250" width="10" height="10" fill="#fab4a1"/><rect x="320" y="250" width="10" height="10" fill="#fab4a1"/><rect x="330" y="250" width="10" height="10" fill="#fab4a1"/><rect x="340" y="250" width="10" height="10" fill="#fab4a1"/><rect x="350" y="250" width="10" height="10" fill="#fab4a1"/><rect x="360" y="250" width="10" height="10" fill="#fab4a1"/><rect x="370" y="250" width="10" height="10" fill="#fab4a1"/><rect x="380" y="250" width="10" height="10" fill="#fab4a1"/><rect x="390" y="250" width="10" height="10" fill="#fab4a1"/><rect x="400" y="250" width="10" height="10" fill="#fab4a1"/><rect x="410" y="250" width="10" height="10" fill="#fab4a1"/><rect x="420" y="250" width="10" height="10" fill="#fab4a1"/><rect x="430" y="250" width="10" height="10" fill="#fab4a1"/><rect x="530" y="250" width="10" height="10" fill="#fab4a1"/><rect x="540" y="250" width="10" height="10" fill="#fab4a1"/><rect x="550" y="250" width="10" height="10" fill="#fab4a1"/><rect x="560" y="250" width="10" height="10" fill="#fab4a1"/><rect x="570" y="250" width="10" height="10" fill="#fab4a1"/><rect x="580" y="250" width="10" height="10" fill="#fab4a1"/><rect x="590" y="250" width="10" height="10" fill="#fab4a1"/><rect x="600" y="250" width="10" height="10" fill="#fab4a1"/><rect x="610" y="250" width="10" height="10" fill="#fab4a1"/><rect x="620" y="250" width="10" height="10" fill="#fab4a1"/><rect x="630" y="250" width="10" height="10" fill="#fab4a1"/><rect x="640" y="250" width="10" height="10" fill="#fab4a1"/><rect x="650" y="250" width="10" height="10" fill="#fab4a1"/><rect x="660" y="250" width="10" height="10" fill="#fab5a1"/><rect x="670" y="250" width="10" height="10" fill="#fab5a1"/><rect x="680" y="250" width="10" height="10" fill="#fab5a1"/><rect x="690" y="250" width="10" height="10" fill="#fab5a1"/><rect x="700" y="250" width="10" height="10" fill="#fab5a1"/><rect x="710" y="250" width="10" height="10" fill="#fab6a1"/><rect x="720" y="250" width="10" height="10" fill="#fab6a1"/><rect x="730" y="250" width="10" height="10" fill="#fab8a1"/><rect x="740" y="250" width="10" height="10" fill="#fab9a1"/><rect x="750" y="250" width="10" height="10" fill="#fabba0"/><rect x="760" y="250" width="10" height="10" fill="#fabe9e"/><rect x="770" y="250" width="10" height="10" fill="#fac09e"/><rect x="780" y="250" width="10" height="10" fill="#fabd9f"/><rect x="790" y="250" width="10" height="10" fill="#fab8a1"/><rect x="800" y="250" width="10" height="10" fill="#fab5a1"/><rect x="810" y="250" width="10" height="10" fill="#fab4a1"/><rect x="820" y="250" width="10" height="10" fill="#fab4a1"/><rect x="830" y="250" width="10" height="10" fill="#fab4a1"/><rect x="840" y="250" width="10" height="10" fill="#fab4a1"/><rect x="850" y="250" width="10" height="10" fill="#fab4a1"/><rect x="870" y="250" width="10" height="10" fill="#fab4a1"/><rect x="880" y="250" width="10" height="10" fill="#fab4a1"/><rect x="890" y="250" width="10" height="10" fill="#fab4a1"/><rect x="900" y="250" width="10" height="10" fill="#fab4a1"/><rect x="910" y="250" width="10" height="10" fill="#fab4a1"/><rect x="920" y="250" width="10" height="10" fill="#fab5a1"/><rect x="930" y="250" width="10" height="10" fill="#fab5a1"/><rect x="940" y="250" width="10" height="10" fill="#fab6a1"/><rect x="950" y="250" width="10" height="10" fill="#fab7a1"/><rect x="960" y="250" width="10" height="10" fill="#fab8a1"/><rect x="970" y="250" width="10" height="10" fill="#fabaa1"/><rect x="980" y="250" width="10" height="10" fill="#fabba0"/><rect x="990" y="250" width="10" height="10" fill="#fabca0"/><rect x="1000" y="250" width="10" height="10" fill="#fabd9f"/><rect x="1010" y="250" width="10" height="10" fill="#fabe9f"/><rect x="1020" y="250" width="10" height="10" fill="#fabe9e"/><rect x="1030" y="250" width="10" height="10" fill="#fabe9e"/><rect x="1040" y="250" width="10" height="10" fill="#fabe9f"/><rect x="1050" y="250" width="10" height="10" fill="#fabd9f"/><rect x="1060" y="250" width="10" height="10" fill="#fabca0"/><rect x="1070" y="250" width="10" height="10" fill="#fabba0"/><rect x="1080" y="250" width="10" height="10" fill="#fab9a1"/><rect x="90" y="260" width="10" height="10" fill="#fab4a1"/><rect x="100" y="260" width="10" height="10" fill="#fab4a1"/><rect x="280" y="260" width="10" height="10" fill="#fab5a1"/><rect x="290" y="260" width="10" height="10" fill="#fab4a1"/><rect x="300" y="260" width="10" height="10" fill="#fab4a1"/><rect x="310" y="260" width="10" height="10" fill="#fab4a1"/><rect x="320" y="260" width="10" height="10" fill="#fab4a1"/><rect x="330" y="260" width="10" height="10" fill="#fab4a1"/><rect x="340" y="260" width="10" height="10" fill="#fab4a1"/><rect x="350" y="260" width="10" height="10" fill="#fab4a1"/><rect x="360" y="260" width="10" height="10" fill="#fab4a1"/><rect x="370" y="260" width="10" height="10" fill="#fab4a1"/><rect x="380" y="260" width="10" height="10" fill="#fab5a1"/><rect x="390" y="260" width="10" height="10" fill="#fab4a1"/><rect x="400" y="260" width="10" height="10" fill="#fab4a1"/><rect x="410" y="260" width="10" height="10" fill="#fab4a1"/><rect x="420" y="260" width="10" height="10" fill="#fab4a1"/><rect x="430" y="260" width="10" height="10" fill="#fab4a1"/><rect x="440" y="260" width="10" height="10" fill="#fab4a1"/><rect x="540" y="260" width="10" height="10" fill="#fab4a1"/><rect x="550" y="260" width="10" height="10" fill="#fab4a1"/><rect x="560" y="260" width="10" height="10" fill="#fab4a1"/><rect x="570" y="260" width="10" height="10" fill="#fab4a1"/><rect x="580" y="260" width="10" height="10" fill="#fab4a1"/><rect x="590" y="260" width="10" height="10" fill="#fab4a1"/><rect x="600" y="260" width="10" height="10" fill="#fab4a1"/><rect x="610" y="260" width="10" height="10" fill="#fab4a1"/><rect x="620" y="260" width="10" height="10" fill="#fab4a1"/><rect x="630" y="260" width="10" height="10" fill="#fab4a1"/><rect x="640" y="260" width="10" height="10" fill="#fab4a1"/><rect x="650" y="260" width="10" height="10" fill="#fab5a1"/><rect x="660" y="260" width="10" height="10" fill="#fab5a1"/><rect x="670" y="260" width="10" height="10" fill="#fab5a1"/><rect x="680" y="260" width="10" height="10" fill="#fab5a1"/><rect x="690" y="260" width="10" height="10" fill="#fab6a1"/><rect x="700" y="260" width="10" height="10" fill="#fab6a1"/><rect x="710" y="260" width="10" height="10" fill="#fab7a1"/><rect x="720" y="260" width="10" height="10" fill="#fab8a1"/><rect x="730" y="260" width="10" height="10" fill="#fabaa1"/><rect x="740" y="260" width="10" height="10" fill="#fabca0"/><rect x="750" y="260" width="10" height="10" fill="#fac09e"/><rect x="760" y="260" width="10" height="10" fill="#fac79d"/><rect x="770" y="260" width="10" height="10" fill="#f9cb9d"/><rect x="780" y="260" width="10" height="10" fill="#fac49d"/><rect x="790" y="260" width="10" height="10" fill="#fabba0"/><rect x="800" y="260" width="10" height="10" fill="#fab6a1"/><rect x="810" y="260" width="10" height="10" fill="#fab5a1"/><rect x="820" y="260" width="10" height="10" fill="#fab4a1"/><rect x="830" y="260" width="10" height="10" fill="#fab4a1"/><rect x="840" y="260" width="10" height="10" fill="#fab4a1"/><rect x="880" y="260" width="10" height="10" fill="#fab4a1"/><rect x="890" y="260" width="10" height="10" fill="#fab4a1"/><rect x="900" y="260" width="10" height="10" fill="#fab4a1"/><rect x="910" y="260" width="10" height="10" fill="#fab4a1"/><rect x="920" y="260" width="10" height="10" fill="#fab4a1"/><rect x="930" y="260" width="10" height="10" fill="#fab5a1"/><rect x="940" y="260" width="10" height="10" fill="#fab5a1"/><rect x="950" y="260" width="10" height="10" fill="#fab5a1"/><rect x="960" y="260" width="10" height="10" fill="#fab6a1"/><rect x="970" y="260" width="10" height="10" fill="#fab7a1"/><rect x="980" y="260" width="10" height="10" fill="#fab8a1"/><rect x="990" y="260" width="10" height="10" fill="#fab9a1"/><rect x="1000" y="260" width="10" height="10" fill="#fabaa1"/><rect x="1010" y="260" width="10" height="10" fill="#fabba0"/><rect x="1020" y="260" width="10" height="10" fill="#fabba0"/><rect x="1030" y="260" width="10" height="10" fill="#fabba0"/><rect x="1040" y="260" width="10" height="10" fill="#fabba0"/><rect x="1050" y="260" width="10" height="10" fill="#fabaa1"/><rect x="1060" y="260" width="10" height="10" fill="#fab9a1"/><rect x="1070" y="260" width="10" height="10" fill="#fab8a1"/><rect x="1080" y="260" width="10" height="10" fill="#fab7a1"/><rect x="1090" y="260" width="10" height="10" fill="#fab6a1"/><rect x="290" y="270" width="10" height="10" fill="#fab4a1"/><rect x="300" y="270" width="10" height="10" fill="#fab4a1"/><rect x="310" y="270" width="10" height="10" fill="#fab4a1"/><rect x="320" y="270" width="10" height="10" fill="#fab4a1"/><rect x="330" y="270" width="10" height="10" fill="#fab4a1"/><rect x="340" y="270" width="10" height="10" fill="#fab4a1"/><rect x="350" y="270" width="10" height="10" fill="#fab4a1"/><rect x="360" y="270" width="10" height="10" fill="#fab4a1"/><rect x="370" y="270" width="10" height="10" fill="#fab5a1"/><rect x="380" y="270" width="10" height="10" fill="#fab6a1"/><rect x="390" y="270" width="10" height="10" fill="#fab5a1"/><rect x="400" y="270" width="10" height="10" fill="#fab4a1"/><rect x="410" y="270" width="10" height="10" fill="#fab4a1"/><rect x="420" y="270" width="10" height="10" fill="#fab4a1"/><rect x="430" y="270" width="10" height="10" fill="#fab4a1"/><rect x="440" y="270" width="10" height="10" fill="#fab4a1"/><rect x="450" y="270" width="10" height="10" fill="#fab4a1"/><rect x="460" y="270" width="10" height="10" fill="#fab4a1"/><rect x="540" y="270" width="10" height="10" fill="#fab4a1"/><rect x="550" y="270" width="10" height="10" fill="#fab4a1"/><rect x="560" y="270" width="10" height="10" fill="#fab4a1"/><rect x="570" y="270" width="10" height="10" fill="#fab4a1"/><rect x="580" y="270" width="10" height="10" fill="#fab4a1"/><rect x="590" y="270" width="10" height="10" fill="#fab4a1"/><rect x="600" y="270" width="10" height="10" fill="#fab4a1"/><rect x="610" y="270" width="10" height="10" fill="#fab4a1"/><rect x="620" y="270" width="10" height="10" fill="#fab4a1"/><rect x="630" y="270" width="10" height="10" fill="#fab4a1"/><rect x="640" y="270" width="10" height="10" fill="#fab5a1"/><rect x="650" y="270" width="10" height="10" fill="#fab5a1"/><rect x="660" y="270" width="10" height="10" fill="#fab5a1"/><rect x="670" y="270" width="10" height="10" fill="#fab5a1"/><rect x="680" y="270" width="10" height="10" fill="#fab6a1"/><rect x="690" y="270" width="10" height="10" fill="#fab6a1"/><rect x="700" y="270" width="10" height="10" fill="#fab7a1"/><rect x="710" y="270" width="10" height="10" fill="#fab8a1"/><rect x="720" y="270" width="10" height="10" fill="#fabaa1"/><rect x="730" y="270" width="10" height="10" fill="#fabca0"/><rect x="740" y="270" width="10" height="10" fill="#fabf9e"/><rect x="750" y="270" width="10" height="10" fill="#fac69d"/><rect x="760" y="270" width="10" height="10" fill="#f9d49c"/><rect x="770" y="270" width="10" height="10" fill="#f9da9a"/><rect x="780" y="270" width="10" height="10" fill="#f9ce9d"/><rect x="790" y="270" width="10" height="10" fill="#fabe9f"/><rect x="800" y="270" width="10" height="10" fill="#fab7a1"/><rect x="810" y="270" width="10" height="10" fill="#fab5a1"/><rect x="820" y="270" width="10" height="10" fill="#fab4a1"/><rect x="830" y="270" width="10" height="10" fill="#fab4a1"/><rect x="880" y="270" width="10" height="10" fill="#fab4a1"/><rect x="890" y="270" width="10" height="10" fill="#fab4a1"/><rect x="900" y="270" width="10" height="10" fill="#fab4a1"/><rect x="910" y="270" width="10" height="10" fill="#fab4a1"/><rect x="920" y="270" width="10" height="10" fill="#fab4a1"/><rect x="930" y="270" width="10" height="10" fill="#fab4a1"/><rect x="940" y="270" width="10" height="10" fill="#fab5a1"/><rect x="960" y="270" width="10" height="10" fill="#fab5a1"/><rect x="970" y="270" width="10" height="10" fill="#fab6a1"/><rect x="980" y="270" width="10" height="10" fill="#fab6a1"/><rect x="990" y="270" width="10" height="10" fill="#fab7a1"/><rect x="1000" y="270" width="10" height="10" fill="#fab7a1"/><rect x="1010" y="270" width="10" height="10" fill="#fab8a1"/><rect x="1020" y="270" width="10" height="10" fill="#fab8a1"/><rect x="1030" y="270" width="10" height="10" fill="#fab8a1"/><rect x="1040" y="270" width="10" height="10" fill="#fab8a1"/><rect x="1050" y="270" width="10" height="10" fill="#fab7a1"/><rect x="1060" y="270" width="10" height="10" fill="#fab7a1"/><rect x="1070" y="270" width="10" height="10" fill="#fab6a1"/><rect x="1080" y="270" width="10" height="10" fill="#fab6a1"/><rect x="1090" y="270" width="10" height="10" fill="#fab5a1"/><rect x="320" y="280" width="10" height="10" fill="#fab4a1"/><rect x="330" y="280" width="10" height="10" fill="#fab4a1"/><rect x="340" y="280" width="10" height="10" fill="#fab4a1"/><rect x="350" y="280" width="10" height="10" fill="#fab4a1"/><rect x="360" y="280" width="10" height="10" fill="#fab4a1"/><rect x="370" y="280" width="10" height="10" fill="#fab6a1"/><rect x="380" y="280" width="10" height="10" fill="#fabaa1"/><rect x="390" y="280" width="10" height="10" fill="#fab7a1"/><rect x="400" y="280" width="10" height="10" fill="#fab4a1"/><rect x="410" y="280" width="10" height="10" fill="#fab4a1"/><rect x="420" y="280" width="10" height="10" fill="#fab4a1"/><rect x="430" y="280" width="10" height="10" fill="#fab4a1"/><rect x="440" y="280" width="10" height="10" fill="#fab4a1"/><rect x="450" y="280" width="10" height="10" fill="#fab4a1"/><rect x="460" y="280" width="10" height="10" fill="#fab4a1"/><rect x="470" y="280" width="10" height="10" fill="#fab4a1"/><rect x="570" y="280" width="10" height="10" fill="#fab4a1"/><rect x="580" y="280" width="10" height="10" fill="#fab4a1"/><rect x="590" y="280" width="10" height="10" fill="#fab4a1"/><rect x="600" y="280" width="10" height="10" fill="#fab4a1"/><rect x="610" y="280" width="10" height="10" fill="#fab4a1"/><rect x="620" y="280" width="10" height="10" fill="#fab4a1"/><rect x="630" y="280" width="10" height="10" fill="#fab4a1"/><rect x="640" y="280" width="10" height="10" fill="#fab5a1"/><rect x="650" y="280" width="10" height="10" fill="#fab5a1"/><rect x="660" y="280" width="10" height="10" fill="#fab5a1"/><rect x="670" y="280" width="10" height="10" fill="#fab6a1"/><rect x="680" y="280" width="10" height="10" fill="#fab6a1"/><rect x="690" y="280" width="10" height="10" fill="#fab7a1"/><rect x="700" y="280" width="10" height="10" fill="#fab8a1"/><rect x="710" y="280" width="10" height="10" fill="#fab9a1"/><rect x="720" y="280" width="10" height="10" fill="#fabba0"/><rect x="730" y="280" width="10" height="10" fill="#fabf9e"/><rect x="740" y="280" width="10" height="10" fill="#fac39d"/><rect x="750" y="280" width="10" height="10" fill="#f9cd9d"/><rect x="760" y="280" width="10" height="10" fill="#f9db9a"/><rect x="770" y="280" width="10" height="10" fill="#f9e19a"/><rect x="780" y="280" width="10" height="10" fill="#f9d49d"/><rect x="790" y="280" width="10" height="10" fill="#fac09e"/><rect x="800" y="280" width="10" height="10" fill="#fab7a1"/><rect x="810" y="280" width="10" height="10" fill="#fab5a1"/><rect x="820" y="280" width="10" height="10" fill="#fab4a1"/><rect x="830" y="280" width="10" height="10" fill="#fab4a1"/><rect x="890" y="280" width="10" height="10" fill="#fab4a1"/><rect x="900" y="280" width="10" height="10" fill="#fab4a1"/><rect x="910" y="280" width="10" height="10" fill="#fab4a1"/><rect x="920" y="280" width="10" height="10" fill="#fab4a1"/><rect x="930" y="280" width="10" height="10" fill="#fab4a1"/><rect x="940" y="280" width="10" height="10" fill="#fab4a1"/><rect x="950" y="280" width="10" height="10" fill="#fab4a1"/><rect x="960" y="280" width="10" height="10" fill="#fab5a1"/><rect x="970" y="280" width="10" height="10" fill="#fab5a1"/><rect x="980" y="280" width="10" height="10" fill="#fab5a1"/><rect x="990" y="280" width="10" height="10" fill="#fab5a1"/><rect x="1000" y="280" width="10" height="10" fill="#fab5a1"/><rect x="1010" y="280" width="10" height="10" fill="#fab6a1"/><rect x="1020" y="280" width="10" height="10" fill="#fab6a1"/><rect x="1030" y="280" width="10" height="10" fill="#fab6a1"/><rect x="1040" y="280" width="10" height="10" fill="#fab6a1"/><rect x="1050" y="280" width="10" height="10" fill="#fab5a1"/><rect x="1060" y="280" width="10" height="10" fill="#fab5a1"/><rect x="1070" y="280" width="10" height="10" fill="#fab5a1"/><rect x="1080" y="280" width="10" height="10" fill="#fab5a1"/><rect x="1090" y="280" width="10" height="10" fill="#fab5a1"/><rect x="1100" y="280" width="10" height="10" fill="#fab4a1"/><rect x="310" y="290" width="10" height="10" fill="#fab4a1"/><rect x="320" y="290" width="10" height="10" fill="#fab4a1"/><rect x="330" y="290" width="10" height="10" fill="#fab4a1"/><rect x="340" y="290" width="10" height="10" fill="#fab4a1"/><rect x="350" y="290" width="10" height="10" fill="#fab4a1"/><rect x="360" y="290" width="10" height="10" fill="#fab4a1"/><rect x="370" y="290" width="10" height="10" fill="#fab9a1"/><rect x="380" y="290" width="10" height="10" fill="#fabf9e"/><rect x="390" y="290" width="10" height="10" fill="#fabaa1"/><rect x="400" y="290" width="10" height="10" fill="#fab5a1"/><rect x="410" y="290" width="10" height="10" fill="#fab4a1"/><rect x="420" y="290" width="10" height="10" fill="#fab4a1"/><rect x="430" y="290" width="10" height="10" fill="#fab4a1"/><rect x="440" y="290" width="10" height="10" fill="#fab4a1"/><rect x="450" y="290" width="10" height="10" fill="#fab4a1"/><rect x="460" y="290" width="10" height="10" fill="#fab4a1"/><rect x="470" y="290" width="10" height="10" fill="#fab4a1"/><rect x="480" y="290" width="10" height="10" fill="#fab4a1"/><rect x="570" y="290" width="10" height="10" fill="#fab4a1"/><rect x="580" y="290" width="10" height="10" fill="#fab4a1"/><rect x="590" y="290" width="10" height="10" fill="#fab4a1"/><rect x="600" y="290" width="10" height="10" fill="#fab4a1"/><rect x="610" y="290" width="10" height="10" fill="#fab4a1"/><rect x="620" y="290" width="10" height="10" fill="#fab4a1"/><rect x="630" y="290" width="10" height="10" fill="#fab5a1"/><rect x="640" y="290" width="10" height="10" fill="#fab5a1"/><rect x="650" y="290" width="10" height="10" fill="#fab5a1"/><rect x="660" y="290" width="10" height="10" fill="#fab6a1"/><rect x="670" y="290" width="10" height="10" fill="#fab6a1"/><rect x="680" y="290" width="10" height="10" fill="#fab7a1"/><rect x="690" y="290" width="10" height="10" fill="#fab8a1"/><rect x="700" y="290" width="10" height="10" fill="#fab9a1"/><rect x="710" y="290" width="10" height="10" fill="#fabba0"/><rect x="720" y="290" width="10" height="10" fill="#fabd9f"/><rect x="730" y="290" width="10" height="10" fill="#fac29d"/><rect x="740" y="290" width="10" height="10" fill="#fac79d"/><rect x="750" y="290" width="10" height="10" fill="#f9d29d"/><rect x="760" y="290" width="10" height="10" fill="#f9dc9a"/><rect x="770" y="290" width="10" height="10" fill="#f9df9a"/><rect x="780" y="290" width="10" height="10" fill="#f9d29d"/><rect x="790" y="290" width="10" height="10" fill="#fabf9e"/><rect x="800" y="290" width="10" height="10" fill="#fab7a1"/><rect x="810" y="290" width="10" height="10" fill="#fab5a1"/><rect x="820" y="290" width="10" height="10" fill="#fab5a1"/><rect x="890" y="290" width="10" height="10" fill="#fab4a1"/><rect x="900" y="290" width="10" height="10" fill="#fab4a1"/><rect x="910" y="290" width="10" height="10" fill="#fab4a1"/><rect x="920" y="290" width="10" height="10" fill="#fab4a1"/><rect x="930" y="290" width="10" height="10" fill="#fab4a1"/><rect x="940" y="290" width="10" height="10" fill="#fab4a1"/><rect x="950" y="290" width="10" height="10" fill="#fab4a1"/><rect x="960" y="290" width="10" height="10" fill="#fab4a1"/><rect x="970" y="290" width="10" height="10" fill="#fab4a1"/><rect x="980" y="290" width="10" height="10" fill="#fab4a1"/><rect x="990" y="290" width="10" height="10" fill="#fab5a1"/><rect x="1000" y="290" width="10" height="10" fill="#fab5a1"/><rect x="1010" y="290" width="10" height="10" fill="#fab5a1"/><rect x="1020" y="290" width="10" height="10" fill="#fab5a1"/><rect x="1030" y="290" width="10" height="10" fill="#fab5a1"/><rect x="1040" y="290" width="10" height="10" fill="#fab5a1"/><rect x="1050" y="290" width="10" height="10" fill="#fab5a1"/><rect x="1060" y="290" width="10" height="10" fill="#fab5a1"/><rect x="1070" y="290" width="10" height="10" fill="#fab4a1"/><rect x="1080" y="290" width="10" height="10" fill="#fab4a1"/><rect x="1090" y="290" width="10" height="10" fill="#fab4a1"/><rect x="1100" y="290" width="10" height="10" fill="#fab4a1"/><rect x="300" y="300" width="10" height="10" fill="#fab4a1"/><rect x="310" y="300" width="10" height="10" fill="#fab4a1"/><rect x="320" y="300" width="10" height="10" fill="#fab4a1"/><rect x="330" y="300" width="10" height="10" fill="#fab4a1"/><rect x="340" y="300" width="10" height="10" fill="#fab4a1"/><rect x="350" y="300" width="10" height="10" fill="#fab4a1"/><rect x="360" y="300" width="10" height="10" fill="#fab5a1"/><rect x="370" y="300" width="10" height="10" fill="#fabba0"/><rect x="380" y="300" width="10" height="10" fill="#fac59d"/><rect x="390" y="300" width="10" height="10" fill="#fabc9f"/><rect x="400" y="300" width="10" height="10" fill="#fab5a1"/><rect x="410" y="300" width="10" height="10" fill="#fab4a1"/><rect x="420" y="300" width="10" height="10" fill="#fab4a1"/><rect x="430" y="300" width="10" height="10" fill="#fab4a1"/><rect x="440" y="300" width="10" height="10" fill="#fab4a1"/><rect x="450" y="300" width="10" height="10" fill="#fab4a1"/><rect x="460" y="300" width="10" height="10" fill="#fab4a1"/><rect x="470" y="300" width="10" height="10" fill="#fab4a1"/><rect x="480" y="300" width="10" height="10" fill="#fab4a1"/><rect x="490" y="300" width="10" height="10" fill="#fab4a1"/><rect x="500" y="300" width="10" height="10" fill="#fab4a1"/><rect x="510" y="300" width="10" height="10" fill="#fab4a1"/><rect x="590" y="300" width="10" height="10" fill="#fab4a1"/><rect x="600" y="300" width="10" height="10" fill="#fab4a1"/><rect x="610" y="300" width="10" height="10" fill="#fab4a1"/><rect x="620" y="300" width="10" height="10" fill="#fab4a1"/><rect x="630" y="300" width="10" height="10" fill="#fab5a1"/><rect x="640" y="300" width="10" height="10" fill="#fab5a1"/><rect x="650" y="300" width="10" height="10" fill="#fab5a1"/><rect x="660" y="300" width="10" height="10" fill="#fab6a1"/><rect x="670" y="300" width="10" height="10" fill="#fab7a1"/><rect x="680" y="300" width="10" height="10" fill="#fab8a1"/><rect x="690" y="300" width="10" height="10" fill="#fab9a1"/><rect x="700" y="300" width="10" height="10" fill="#fabaa1"/><rect x="710" y="300" width="10" height="10" fill="#fabca0"/><rect x="720" y="300" width="10" height="10" fill="#fabf9e"/><rect x="730" y="300" width="10" height="10" fill="#fac59d"/><rect x="740" y="300" width="10" height="10" fill="#f9cd9d"/><rect x="750" y="300" width="10" height="10" fill="#f9d49c"/><rect x="760" y="300" width="10" height="10" fill="#f9d99a"/><rect x="770" y="300" width="10" height="10" fill="#f9d79b"/><rect x="780" y="300" width="10" height="10" fill="#fac99d"/><rect x="790" y="300" width="10" height="10" fill="#fabd9f"/><rect x="800" y="300" width="10" height="10" fill="#fab7a1"/><rect x="810" y="300" width="10" height="10" fill="#fab5a1"/><rect x="820" y="300" width="10" height="10" fill="#fab5a1"/><rect x="900" y="300" width="10" height="10" fill="#fab4a1"/><rect x="910" y="300" width="10" height="10" fill="#fab4a1"/><rect x="920" y="300" width="10" height="10" fill="#fab4a1"/><rect x="930" y="300" width="10" height="10" fill="#fab4a1"/><rect x="960" y="300" width="10" height="10" fill="#fab4a1"/><rect x="970" y="300" width="10" height="10" fill="#fab4a1"/><rect x="980" y="300" width="10" height="10" fill="#fab4a1"/><rect x="990" y="300" width="10" height="10" fill="#fab4a1"/><rect x="1000" y="300" width="10" height="10" fill="#fab4a1"/><rect x="1010" y="300" width="10" height="10" fill="#fab4a1"/><rect x="1020" y="300" width="10" height="10" fill="#fab4a1"/><rect x="1030" y="300" width="10" height="10" fill="#fab4a1"/><rect x="1040" y="300" width="10" height="10" fill="#fab4a1"/><rect x="1050" y="300" width="10" height="10" fill="#fab4a1"/><rect x="1060" y="300" width="10" height="10" fill="#fab4a1"/><rect x="1070" y="300" width="10" height="10" fill="#fab4a1"/><rect x="1080" y="300" width="10" height="10" fill="#fab4a1"/><rect x="1090" y="300" width="10" height="10" fill="#fab4a1"/><rect x="1100" y="300" width="10" height="10" fill="#fab4a1"/><rect x="1110" y="300" width="10" height="10" fill="#fab4a1"/><rect x="1120" y="300" width="10" height="10" fill="#fab4a1"/><rect x="1130" y="300" width="10" height="10" fill="#fab4a1"/><rect x="1140" y="300" width="10" height="10" fill="#fab4a1"/><rect x="1150" y="300" width="10" height="10" fill="#fab4a1"/><rect x="1160" y="300" width="10" height="10" fill="#fab4a1"/><rect x="1170" y="300" width="10" height="10" fill="#fab4a1"/><rect x="300" y="310" width="10" height="10" fill="#fab4a1"/><rect x="310" y="310" width="10" height="10" fill="#fab4a1"/><rect x="320" y="310" width="10" height="10" fill="#fab4a1"/><rect x="330" y="310" width="10" height="10" fill="#fab4a1"/><rect x="340" y="310" width="10" height="10" fill="#fab4a1"/><rect x="350" y="310" width="10" height="10" fill="#fab4a1"/><rect x="360" y="310" width="10" height="10" fill="#fab5a1"/><rect x="370" y="310" width="10" height="10" fill="#fabd9f"/><rect x="380" y="310" width="10" height="10" fill="#f9cc9d"/><rect x="390" y="310" width="10" height="10" fill="#fac09e"/><rect x="400" y="310" width="10" height="10" fill="#fab5a1"/><rect x="410" y="310" width="10" height="10" fill="#fab4a1"/><rect x="420" y="310" width="10" height="10" fill="#fab4a1"/><rect x="430" y="310" width="10" height="10" fill="#fab4a1"/><rect x="440" y="310" width="10" height="10" fill="#fab4a1"/><rect x="450" y="310" width="10" height="10" fill="#fab4a1"/><rect x="460" y="310" width="10" height="10" fill="#fab4a1"/><rect x="470" y="310" width="10" height="10" fill="#fab4a1"/><rect x="480" y="310" width="10" height="10" fill="#fab4a1"/><rect x="490" y="310" width="10" height="10" fill="#fab4a1"/><rect x="500" y="310" width="10" height="10" fill="#fab4a1"/><rect x="510" y="310" width="10" height="10" fill="#fab4a1"/><rect x="520" y="310" width="10" height="10" fill="#fab4a1"/><rect x="620" y="310" width="10" height="10" fill="#fab4a1"/><rect x="630" y="310" width="10" height="10" fill="#fab5a1"/><rect x="650" y="310" width="10" height="10" fill="#fab5a1"/><rect x="660" y="310" width="10" height="10" fill="#fab6a1"/><rect x="670" y="310" width="10" height="10" fill="#fab7a1"/><rect x="680" y="310" width="10" height="10" fill="#fab8a1"/><rect x="690" y="310" width="10" height="10" fill="#fab9a1"/><rect x="700" y="310" width="10" height="10" fill="#fabaa0"/><rect x="710" y="310" width="10" height="10" fill="#fabc9f"/><rect x="720" y="310" width="10" height="10" fill="#fac09d"/><rect x="730" y="310" width="10" height="10" fill="#fac79d"/><rect x="740" y="310" width="10" height="10" fill="#f9d19d"/><rect x="750" y="310" width="10" height="10" fill="#f9d69b"/><rect x="760" y="310" width="10" height="10" fill="#f9d69c"/><rect x="770" y="310" width="10" height="10" fill="#f9cf9d"/><rect x="780" y="310" width="10" height="10" fill="#fac39d"/><rect x="790" y="310" width="10" height="10" fill="#fabba0"/><rect x="800" y="310" width="10" height="10" fill="#fab7a1"/><rect x="810" y="310" width="10" height="10" fill="#fab5a1"/><rect x="960" y="310" width="10" height="10" fill="#fab4a1"/><rect x="970" y="310" width="10" height="10" fill="#fab4a1"/><rect x="980" y="310" width="10" height="10" fill="#fab4a1"/><rect x="990" y="310" width="10" height="10" fill="#fab4a1"/><rect x="1000" y="310" width="10" height="10" fill="#fab4a1"/><rect x="1010" y="310" width="10" height="10" fill="#fab4a1"/><rect x="1020" y="310" width="10" height="10" fill="#fab4a1"/><rect x="1030" y="310" width="10" height="10" fill="#fab4a1"/><rect x="1040" y="310" width="10" height="10" fill="#fab4a1"/><rect x="1050" y="310" width="10" height="10" fill="#fab4a1"/><rect x="1060" y="310" width="10" height="10" fill="#fab4a1"/><rect x="1070" y="310" width="10" height="10" fill="#fab4a1"/><rect x="1080" y="310" width="10" height="10" fill="#fab4a1"/><rect x="1090" y="310" width="10" height="10" fill="#fab4a1"/><rect x="1100" y="310" width="10" height="10" fill="#fab4a1"/><rect x="1110" y="310" width="10" height="10" fill="#fab4a1"/><rect x="1120" y="310" width="10" height="10" fill="#fab4a1"/><rect x="1130" y="310" width="10" height="10" fill="#fab4a1"/><rect x="1140" y="310" width="10" height="10" fill="#fab4a1"/><rect x="1150" y="310" width="10" height="10" fill="#fab4a1"/><rect x="1160" y="310" width="10" height="10" fill="#fab4a1"/><rect x="1170" y="310" width="10" height="10" fill="#fab4a1"/><rect x="1180" y="310" width="10" height="10" fill="#fab4a1"/><rect x="1190" y="310" width="10" height="10" fill="#fab4a1"/><rect x="300" y="320" width="10" height="10" fill="#fab4a1"/><rect x="310" y="320" width="10" height="10" fill="#fab4a1"/><rect x="320" y="320" width="10" height="10" fill="#fab4a1"/><rect x="330" y="320" width="10" height="10" fill="#fab4a1"/><rect x="340" y="320" width="10" height="10" fill="#fab4a1"/><rect x="350" y="320" width="10" height="10" fill="#fab4a1"/><rect x="360" y="320" width="10" height="10" fill="#fab5a1"/><rect x="370" y="320" width="10" height="10" fill="#fabd9f"/><rect x="380" y="320" width="10" height="10" fill="#f9d29d"/><rect x="390" y="320" width="10" height="10" fill="#fac49d"/><rect x="400" y="320" width="10" height="10" fill="#fab6a1"/><rect x="410" y="320" width="10" height="10" fill="#fab4a1"/><rect x="420" y="320" width="10" height="10" fill="#fab4a1"/><rect x="430" y="320" width="10" height="10" fill="#fab4a1"/><rect x="440" y="320" width="10" height="10" fill="#fab4a1"/><rect x="450" y="320" width="10" height="10" fill="#fab4a1"/><rect x="460" y="320" width="10" height="10" fill="#fab4a1"/><rect x="470" y="320" width="10" height="10" fill="#fab4a1"/><rect x="480" y="320" width="10" height="10" fill="#fab4a1"/><rect x="490" y="320" width="10" height="10" fill="#fab4a1"/><rect x="500" y="320" width="10" height="10" fill="#fab4a1"/><rect x="510" y="320" width="10" height="10" fill="#fab4a1"/><rect x="520" y="320" width="10" height="10" fill="#fab4a1"/><rect x="530" y="320" width="10" height="10" fill="#fab4a1"/><rect x="660" y="320" width="10" height="10" fill="#fab6a1"/><rect x="670" y="320" width="10" height="10" fill="#fab7a1"/><rect x="680" y="320" width="10" height="10" fill="#fab8a1"/><rect x="690" y="320" width="10" height="10" fill="#fabaa1"/><rect x="700" y="320" width="10" height="10" fill="#fabba0"/><rect x="710" y="320" width="10" height="10" fill="#fabd9f"/><rect x="720" y="320" width="10" height="10" fill="#fac19d"/><rect x="730" y="320" width="10" height="10" fill="#fac99d"/><rect x="740" y="320" width="10" height="10" fill="#f9d39d"/><rect x="750" y="320" width="10" height="10" fill="#f9d79b"/><rect x="760" y="320" width="10" height="10" fill="#f9d49c"/><rect x="770" y="320" width="10" height="10" fill="#fac99d"/><rect x="780" y="320" width="10" height="10" fill="#fac09e"/><rect x="790" y="320" width="10" height="10" fill="#fabaa1"/><rect x="800" y="320" width="10" height="10" fill="#fab7a1"/><rect x="970" y="320" width="10" height="10" fill="#fab4a1"/><rect x="980" y="320" width="10" height="10" fill="#fab4a1"/><rect x="990" y="320" width="10" height="10" fill="#fab4a1"/><rect x="1000" y="320" width="10" height="10" fill="#fab4a1"/><rect x="1010" y="320" width="10" height="10" fill="#fab4a1"/><rect x="1020" y="320" width="10" height="10" fill="#fab4a1"/><rect x="1030" y="320" width="10" height="10" fill="#fab4a1"/><rect x="1040" y="320" width="10" height="10" fill="#fab4a1"/><rect x="1050" y="320" width="10" height="10" fill="#fab4a1"/><rect x="1060" y="320" width="10" height="10" fill="#fab4a1"/><rect x="1070" y="320" width="10" height="10" fill="#fab4a1"/><rect x="1080" y="320" width="10" height="10" fill="#fab4a1"/><rect x="1090" y="320" width="10" height="10" fill="#fab4a1"/><rect x="1100" y="320" width="10" height="10" fill="#fab4a1"/><rect x="1110" y="320" width="10" height="10" fill="#fab4a1"/><rect x="1120" y="320" width="10" height="10" fill="#fab5a1"/><rect x="1130" y="320" width="10" height="10" fill="#fab5a1"/><rect x="1140" y="320" width="10" height="10" fill="#fab4a1"/><rect x="1150" y="320" width="10" height="10" fill="#fab4a1"/><rect x="1160" y="320" width="10" height="10" fill="#fab4a1"/><rect x="1170" y="320" width="10" height="10" fill="#fab4a1"/><rect x="1180" y="320" width="10" height="10" fill="#fab4a1"/><rect x="1190" y="320" width="10" height="10" fill="#fab4a1"/><rect x="1200" y="320" width="10" height="10" fill="#fab4a1"/><rect x="310" y="330" width="10" height="10" fill="#fab4a1"/><rect x="320" y="330" width="10" height="10" fill="#fab4a1"/><rect x="330" y="330" width="10" height="10" fill="#fab4a1"/><rect x="340" y="330" width="10" height="10" fill="#fab4a1"/><rect x="350" y="330" width="10" height="10" fill="#fab4a1"/><rect x="360" y="330" width="10" height="10" fill="#fab5a1"/><rect x="370" y="330" width="10" height="10" fill="#fabc9f"/><rect x="380" y="330" width="10" height="10" fill="#f9d39d"/><rect x="390" y="330" width="10" height="10" fill="#fac79d"/><rect x="400" y="330" width="10" height="10" fill="#fab7a1"/><rect x="410" y="330" width="10" height="10" fill="#fab4a1"/><rect x="420" y="330" width="10" height="10" fill="#fab4a1"/><rect x="430" y="330" width="10" height="10" fill="#fab4a1"/><rect x="440" y="330" width="10" height="10" fill="#fab4a1"/><rect x="450" y="330" width="10" height="10" fill="#fab4a1"/><rect x="460" y="330" width="10" height="10" fill="#fab4a1"/><rect x="470" y="330" width="10" height="10" fill="#fab4a1"/><rect x="480" y="330" width="10" height="10" fill="#fab4a1"/><rect x="490" y="330" width="10" height="10" fill="#fab4a1"/><rect x="500" y="330" width="10" height="10" fill="#fab4a1"/><rect x="510" y="330" width="10" height="10" fill="#fab4a1"/><rect x="520" y="330" width="10" height="10" fill="#fab4a1"/><rect x="530" y="330" width="10" height="10" fill="#fab4a1"/><rect x="660" y="330" width="10" height="10" fill="#fab6a1"/><rect x="670" y="330" width="10" height="10" fill="#fab7a1"/><rect x="680" y="330" width="10" height="10" fill="#fab8a1"/><rect x="690" y="330" width="10" height="10" fill="#fabaa1"/><rect x="700" y="330" width="10" height="10" fill="#fabba0"/><rect x="710" y="330" width="10" height="10" fill="#fabd9f"/><rect x="720" y="330" width="10" height="10" fill="#fac19d"/><rect x="730" y="330" width="10" height="10" fill="#fac99d"/><rect x="740" y="330" width="10" height="10" fill="#f9d39d"/><rect x="750" y="330" width="10" height="10" fill="#f9d69b"/><rect x="760" y="330" width="10" height="10" fill="#f9d29d"/><rect x="770" y="330" width="10" height="10" fill="#fac79d"/><rect x="780" y="330" width="10" height="10" fill="#fabf9e"/><rect x="790" y="330" width="10" height="10" fill="#fabaa1"/><rect x="800" y="330" width="10" height="10" fill="#fab6a1"/><rect x="810" y="330" width="10" height="10" fill="#fab5a1"/><rect x="980" y="330" width="10" height="10" fill="#fab4a1"/><rect x="990" y="330" width="10" height="10" fill="#fab4a1"/><rect x="1000" y="330" width="10" height="10" fill="#fab4a1"/><rect x="1010" y="330" width="10" height="10" fill="#fab4a1"/><rect x="1020" y="330" width="10" height="10" fill="#fab4a1"/><rect x="1030" y="330" width="10" height="10" fill="#fab4a1"/><rect x="1040" y="330" width="10" height="10" fill="#fab4a1"/><rect x="1050" y="330" width="10" height="10" fill="#fab4a1"/><rect x="1060" y="330" width="10" height="10" fill="#fab4a1"/><rect x="1070" y="330" width="10" height="10" fill="#fab4a1"/><rect x="1080" y="330" width="10" height="10" fill="#fab5a1"/><rect x="1090" y="330" width="10" height="10" fill="#fab9a1"/><rect x="1100" y="330" width="10" height="10" fill="#fabd9f"/><rect x="1110" y="330" width="10" height="10" fill="#fac29d"/><rect x="1120" y="330" width="10" height="10" fill="#fac69d"/><rect x="1130" y="330" width="10" height="10" fill="#fac69d"/><rect x="1140" y="330" width="10" height="10" fill="#fac29d"/><rect x="1150" y="330" width="10" height="10" fill="#fabd9f"/><rect x="1160" y="330" width="10" height="10" fill="#fab9a1"/><rect x="1170" y="330" width="10" height="10" fill="#fab6a1"/><rect x="1180" y="330" width="10" height="10" fill="#fab4a1"/><rect x="1190" y="330" width="10" height="10" fill="#fab4a1"/><rect x="1200" y="330" width="10" height="10" fill="#fab4a1"/><rect x="1210" y="330" width="10" height="10" fill="#fab4a1"/><rect x="340" y="340" width="10" height="10" fill="#fab7a1"/><rect x="350" y="340" width="10" height="10" fill="#fab7a1"/><rect x="360" y="340" width="10" height="10" fill="#fab7a1"/><rect x="370" y="340" width="10" height="10" fill="#fabd9f"/><rect x="380" y="340" width="10" height="10" fill="#f9d59c"/><rect x="390" y="340" width="10" height="10" fill="#f9cf9d"/><rect x="400" y="340" width="10" height="10" fill="#fabaa0"/><rect x="410" y="340" width="10" height="10" fill="#fab7a1"/><rect x="420" y="340" width="10" height="10" fill="#fab7a1"/><rect x="430" y="340" width="10" height="10" fill="#fab7a1"/><rect x="440" y="340" width="10" height="10" fill="#fab7a1"/><rect x="450" y="340" width="10" height="10" fill="#fab7a1"/><rect x="460" y="340" width="10" height="10" fill="#fab7a1"/><rect x="470" y="340" width="10" height="10" fill="#fab7a1"/><rect x="480" y="340" width="10" height="10" fill="#fab7a1"/><rect x="490" y="340" width="10" height="10" fill="#fab7a1"/><rect x="500" y="340" width="10" height="10" fill="#fab7a1"/><rect x="510" y="340" width="10" height="10" fill="#fab7a1"/><rect x="520" y="340" width="10" height="10" fill="#fab7a1"/><rect x="530" y="340" width="10" height="10" fill="#fab7a1"/><rect x="670" y="340" width="10" height="10" fill="#fabaa1"/><rect x="680" y="340" width="10" height="10" fill="#fabaa0"/><rect x="690" y="340" width="10" height="10" fill="#fabba0"/><rect x="700" y="340" width="10" height="10" fill="#fabc9f"/><rect x="710" y="340" width="10" height="10" fill="#fabe9e"/><rect x="720" y="340" width="10" height="10" fill="#fac29d"/><rect x="730" y="340" width="10" height="10" fill="#fac99d"/><rect x="740" y="340" width="10" height="10" fill="#f9d39d"/><rect x="750" y="340" width="10" height="10" fill="#f9d69b"/><rect x="760" y="340" width="10" height="10" fill="#f9d29d"/><rect x="770" y="340" width="10" height="10" fill="#fac79d"/><rect x="780" y="340" width="10" height="10" fill="#fabf9e"/><rect x="790" y="340" width="10" height="10" fill="#fabba0"/><rect x="800" y="340" width="10" height="10" fill="#fab9a1"/><rect x="810" y="340" width="10" height="10" fill="#fab8a1"/><rect x="820" y="340" width="10" height="10" fill="#fab7a1"/><rect x="990" y="340" width="10" height="10" fill="#fab6a1"/><rect x="1000" y="340" width="10" height="10" fill="#fab6a1"/><rect x="1010" y="340" width="10" height="10" fill="#fab5a1"/><rect x="1020" y="340" width="10" height="10" fill="#fab5a1"/><rect x="1030" y="340" width="10" height="10" fill="#fab5a1"/><rect x="1040" y="340" width="10" height="10" fill="#fab4a1"/><rect x="1050" y="340" width="10" height="10" fill="#fab4a1"/><rect x="1060" y="340" width="10" height="10" fill="#fab4a1"/><rect x="1070" y="340" width="10" height="10" fill="#fab4a1"/><rect x="1080" y="340" width="10" height="10" fill="#fab5a1"/><rect x="1090" y="340" width="10" height="10" fill="#fab9a1"/><rect x="1100" y="340" width="10" height="10" fill="#fabd9f"/><rect x="1110" y="340" width="10" height="10" fill="#fac29d"/><rect x="1120" y="340" width="10" height="10" fill="#fac69d"/><rect x="1130" y="340" width="10" height="10" fill="#fac69d"/><rect x="1140" y="340" width="10" height="10" fill="#fac39d"/><rect x="1150" y="340" width="10" height="10" fill="#fabe9f"/><rect x="1160" y="340" width="10" height="10" fill="#fabaa1"/><rect x="1170" y="340" width="10" height="10" fill="#fab7a1"/><rect x="1180" y="340" width="10" height="10" fill="#fab6a1"/><rect x="1190" y="340" width="10" height="10" fill="#fab6a1"/><rect x="1200" y="340" width="10" height="10" fill="#fab6a1"/><rect x="1210" y="340" width="10" height="10" fill="#fab6a1"/><rect x="1220" y="340" width="10" height="10" fill="#fab6a1"/><rect x="350" y="350" width="10" height="10" fill="#fabba0"/><rect x="360" y="350" width="10" height="10" fill="#fabba0"/><rect x="370" y="350" width="10" height="10" fill="#fabf9e"/><rect x="380" y="350" width="10" height="10" fill="#f9d89a"/><rect x="390" y="350" width="10" height="10" fill="#f9d79b"/><rect x="400" y="350" width="10" height="10" fill="#fabf9e"/><rect x="410" y="350" width="10" height="10" fill="#fabba0"/><rect x="420" y="350" width="10" height="10" fill="#fabba0"/><rect x="430" y="350" width="10" height="10" fill="#fabba0"/><rect x="440" y="350" width="10" height="10" fill="#fabba0"/><rect x="450" y="350" width="10" height="10" fill="#fabba0"/><rect x="460" y="350" width="10" height="10" fill="#fabba0"/><rect x="470" y="350" width="10" height="10" fill="#fabba0"/><rect x="480" y="350" width="10" height="10" fill="#fabba0"/><rect x="490" y="350" width="10" height="10" fill="#fabba0"/><rect x="500" y="350" width="10" height="10" fill="#fabba0"/><rect x="510" y="350" width="10" height="10" fill="#fabba0"/><rect x="520" y="350" width="10" height="10" fill="#fabba0"/><rect x="530" y="350" width="10" height="10" fill="#fabba0"/><rect x="670" y="350" width="10" height="10" fill="#fabd9f"/><rect x="680" y="350" width="10" height="10" fill="#fabe9f"/><rect x="690" y="350" width="10" height="10" fill="#fabe9e"/><rect x="700" y="350" width="10" height="10" fill="#fabf9e"/><rect x="710" y="350" width="10" height="10" fill="#fac19d"/><rect x="720" y="350" width="10" height="10" fill="#fac49d"/><rect x="730" y="350" width="10" height="10" fill="#f9cb9d"/><rect x="740" y="350" width="10" height="10" fill="#f9d39d"/><rect x="750" y="350" width="10" height="10" fill="#f9d59c"/><rect x="760" y="350" width="10" height="10" fill="#f9d29d"/><rect x="770" y="350" width="10" height="10" fill="#fac89d"/><rect x="780" y="350" width="10" height="10" fill="#fac29d"/><rect x="790" y="350" width="10" height="10" fill="#fabe9f"/><rect x="800" y="350" width="10" height="10" fill="#fabc9f"/><rect x="810" y="350" width="10" height="10" fill="#fabca0"/><rect x="820" y="350" width="10" height="10" fill="#fabca0"/><rect x="830" y="350" width="10" height="10" fill="#fabba0"/><rect x="1000" y="350" width="10" height="10" fill="#fabaa1"/><rect x="1010" y="350" width="10" height="10" fill="#fab9a1"/><rect x="1020" y="350" width="10" height="10" fill="#fab8a1"/><rect x="1030" y="350" width="10" height="10" fill="#fab7a1"/><rect x="1040" y="350" width="10" height="10" fill="#fab6a1"/><rect x="1050" y="350" width="10" height="10" fill="#fab5a1"/><rect x="1060" y="350" width="10" height="10" fill="#fab5a1"/><rect x="1070" y="350" width="10" height="10" fill="#fab4a1"/><rect x="1080" y="350" width="10" height="10" fill="#fab4a1"/><rect x="1090" y="350" width="10" height="10" fill="#fab3a1"/><rect x="1100" y="350" width="10" height="10" fill="#fab3a1"/><rect x="1110" y="350" width="10" height="10" fill="#fab4a1"/><rect x="1120" y="350" width="10" height="10" fill="#fab4a1"/><rect x="1130" y="350" width="10" height="10" fill="#fab5a1"/><rect x="1140" y="350" width="10" height="10" fill="#fab6a1"/><rect x="1150" y="350" width="10" height="10" fill="#fab6a1"/><rect x="1160" y="350" width="10" height="10" fill="#fab7a1"/><rect x="1170" y="350" width="10" height="10" fill="#fab8a1"/><rect x="1180" y="350" width="10" height="10" fill="#fab9a1"/><rect x="1190" y="350" width="10" height="10" fill="#fabaa1"/><rect x="1200" y="350" width="10" height="10" fill="#fabaa1"/><rect x="1210" y="350" width="10" height="10" fill="#fabaa0"/><rect x="1220" y="350" width="10" height="10" fill="#fabba0"/><rect x="1230" y="350" width="10" height="10" fill="#fabba0"/><rect x="1250" y="350" width="10" height="10" fill="#fabba0"/><rect x="1260" y="350" width="10" height="10" fill="#fabba0"/><rect x="1270" y="350" width="10" height="10" fill="#fabba0"/><rect x="360" y="360" width="10" height="10" fill="#fabf9e"/><rect x="370" y="360" width="10" height="10" fill="#fac29d"/><rect x="380" y="360" width="10" height="10" fill="#f9dc9a"/><rect x="390" y="360" width="10" height="10" fill="#f9de9a"/><rect x="400" y="360" width="10" height="10" fill="#fac39d"/><rect x="410" y="360" width="10" height="10" fill="#fabf9e"/><rect x="420" y="360" width="10" height="10" fill="#fabf9e"/><rect x="430" y="360" width="10" height="10" fill="#fabf9e"/><rect x="440" y="360" width="10" height="10" fill="#fabf9e"/><rect x="450" y="360" width="10" height="10" fill="#fabf9e"/><rect x="460" y="360" width="10" height="10" fill="#fabf9e"/><rect x="470" y="360" width="10" height="10" fill="#fabf9e"/><rect x="480" y="360" width="10" height="10" fill="#fabf9e"/><rect x="490" y="360" width="10" height="10" fill="#fabf9e"/><rect x="500" y="360" width="10" height="10" fill="#fabf9e"/><rect x="510" y="360" width="10" height="10" fill="#fabf9e"/><rect x="520" y="360" width="10" height="10" fill="#fabf9e"/><rect x="660" y="360" width="10" height="10" fill="#fac09e"/><rect x="670" y="360" width="10" height="10" fill="#fac09e"/><rect x="680" y="360" width="10" height="10" fill="#fac19d"/><rect x="690" y="360" width="10" height="10" fill="#fac19d"/><rect x="700" y="360" width="10" height="10" fill="#fac29d"/><rect x="710" y="360" width="10" height="10" fill="#fac39d"/><rect x="720" y="360" width="10" height="10" fill="#fac69d"/><rect x="730" y="360" width="10" height="10" fill="#f9cc9d"/><rect x="740" y="360" width="10" height="10" fill="#f9d29d"/><rect x="750" y="360" width="10" height="10" fill="#f9d49c"/><rect x="760" y="360" width="10" height="10" fill="#f9d19d"/><rect x="770" y="360" width="10" height="10" fill="#fac99d"/><rect x="780" y="360" width="10" height="10" fill="#fac49d"/><rect x="790" y="360" width="10" height="10" fill="#fac19d"/><rect x="800" y="360" width="10" height="10" fill="#fac09e"/><rect x="810" y="360" width="10" height="10" fill="#fabf9e"/><rect x="820" y="360" width="10" height="10" fill="#fabf9e"/><rect x="830" y="360" width="10" height="10" fill="#fabf9e"/><rect x="1040" y="360" width="10" height="10" fill="#fabaa0"/><rect x="1050" y="360" width="10" height="10" fill="#fabaa1"/><rect x="1060" y="360" width="10" height="10" fill="#fab9a1"/><rect x="1070" y="360" width="10" height="10" fill="#fab8a1"/><rect x="1080" y="360" width="10" height="10" fill="#fab7a1"/><rect x="1090" y="360" width="10" height="10" fill="#fab7a1"/><rect x="1100" y="360" width="10" height="10" fill="#fab7a1"/><rect x="1110" y="360" width="10" height="10" fill="#fab7a1"/><rect x="1120" y="360" width="10" height="10" fill="#fab8a1"/><rect x="1130" y="360" width="10" height="10" fill="#fab9a1"/><rect x="1140" y="360" width="10" height="10" fill="#fabaa1"/><rect x="1150" y="360" width="10" height="10" fill="#fabaa0"/><rect x="1160" y="360" width="10" height="10" fill="#fabba0"/><rect x="1170" y="360" width="10" height="10" fill="#fabca0"/><rect x="1190" y="360" width="10" height="10" fill="#fabd9f"/><rect x="1200" y="360" width="10" height="10" fill="#fabd9f"/><rect x="1210" y="360" width="10" height="10" fill="#fabe9f"/><rect x="1220" y="360" width="10" height="10" fill="#fabe9f"/><rect x="1230" y="360" width="10" height="10" fill="#fabe9e"/><rect x="1240" y="360" width="10" height="10" fill="#fabe9e"/><rect x="1250" y="360" width="10" height="10" fill="#fabf9e"/><rect x="1260" y="360" width="10" height="10" fill="#fabf9e"/><rect x="1270" y="360" width="10" height="10" fill="#fabf9e"/><rect x="360" y="370" width="10" height="10" fill="#fac39d"/><rect x="370" y="370" width="10" height="10" fill="#fac69d"/><rect x="380" y="370" width="10" height="10" fill="#f9e09a"/><rect x="390" y="370" width="10" height="10" fill="#f9e89a"/><rect x="400" y="370" width="10" height="10" fill="#fac79d"/><rect x="410" y="370" width="10" height="10" fill="#fac39d"/><rect x="420" y="370" width="10" height="10" fill="#fac39d"/><rect x="430" y="370" width="10" height="10" fill="#fac39d"/><rect x="440" y="370" width="10" height="10" fill="#fac39d"/><rect x="450" y="370" width="10" height="10" fill="#fac39d"/><rect x="460" y="370" width="10" height="10" fill="#fac39d"/><rect x="470" y="370" width="10" height="10" fill="#fac39d"/><rect x="480" y="370" width="10" height="10" fill="#fac39d"/><rect x="490" y="370" width="10" height="10" fill="#fac39d"/><rect x="500" y="370" width="10" height="10" fill="#fac39d"/><rect x="510" y="370" width="10" height="10" fill="#fac39d"/><rect x="520" y="370" width="10" height="10" fill="#fac39d"/><rect x="660" y="370" width="10" height="10" fill="#fac39d"/><rect x="670" y="370" width="10" height="10" fill="#fac49d"/><rect x="680" y="370" width="10" height="10" fill="#fac49d"/><rect x="690" y="370" width="10" height="10" fill="#fac59d"/><rect x="700" y="370" width="10" height="10" fill="#fac59d"/><rect x="710" y="370" width="10" height="10" fill="#fac69d"/><rect x="720" y="370" width="10" height="10" fill="#fac89d"/><rect x="730" y="370" width="10" height="10" fill="#f9cd9d"/><rect x="740" y="370" width="10" height="10" fill="#f9d29d"/><rect x="750" y="370" width="10" height="10" fill="#f9d39d"/><rect x="760" y="370" width="10" height="10" fill="#f9d19d"/><rect x="770" y="370" width="10" height="10" fill="#f9cb9d"/><rect x="780" y="370" width="10" height="10" fill="#fac69d"/><rect x="790" y="370" width="10" height="10" fill="#fac49d"/><rect x="800" y="370" width="10" height="10" fill="#fac39d"/><rect x="810" y="370" width="10" height="10" fill="#fac39d"/><rect x="820" y="370" width="10" height="10" fill="#fac39d"/><rect x="830" y="370" width="10" height="10" fill="#fac39d"/><rect x="1020" y="370" width="10" height="10" fill="#fac19d"/><rect x="1030" y="370" width="10" height="10" fill="#fac09d"/><rect x="1040" y="370" width="10" height="10" fill="#fac09e"/><rect x="1050" y="370" width="10" height="10" fill="#fac09e"/><rect x="1060" y="370" width="10" height="10" fill="#fabf9e"/><rect x="1070" y="370" width="10" height="10" fill="#fabf9e"/><rect x="1080" y="370" width="10" height="10" fill="#fabf9e"/><rect x="1090" y="370" width="10" height="10" fill="#fabf9e"/><rect x="1100" y="370" width="10" height="10" fill="#fabf9e"/><rect x="1110" y="370" width="10" height="10" fill="#fabf9e"/><rect x="1120" y="370" width="10" height="10" fill="#fabf9e"/><rect x="1130" y="370" width="10" height="10" fill="#fabf9e"/><rect x="1140" y="370" width="10" height="10" fill="#fac09e"/><rect x="1150" y="370" width="10" height="10" fill="#fac09e"/><rect x="1160" y="370" width="10" height="10" fill="#fac09d"/><rect x="1170" y="370" width="10" height="10" fill="#fac19d"/><rect x="1190" y="370" width="10" height="10" fill="#fac29d"/><rect x="1200" y="370" width="10" height="10" fill="#fac29d"/><rect x="1210" y="370" width="10" height="10" fill="#fac29d"/><rect x="1220" y="370" width="10" height="10" fill="#fac29d"/><rect x="1230" y="370" width="10" height="10" fill="#fac29d"/><rect x="1240" y="370" width="10" height="10" fill="#fac29d"/><rect x="1250" y="370" width="10" height="10" fill="#fac29d"/><rect x="1260" y="370" width="10" height="10" fill="#fac39d"/><rect x="1270" y="370" width="10" height="10" fill="#fac39d"/><rect x="370" y="380" width="10" height="10" fill="#f9ca9d"/><rect x="380" y="380" width="10" height="10" fill="#f9e59a"/><rect x="390" y="380" width="10" height="10" fill="#f9f09c"/><rect x="400" y="380" width="10" height="10" fill="#f9ce9d"/><rect x="410" y="380" width="10" height="10" fill="#fac79d"/><rect x="420" y="380" width="10" height="10" fill="#fac79d"/><rect x="430" y="380" width="10" height="10" fill="#fac79d"/><rect x="440" y="380" width="10" height="10" fill="#fac79d"/><rect x="450" y="380" width="10" height="10" fill="#fac79d"/><rect x="460" y="380" width="10" height="10" fill="#fac79d"/><rect x="470" y="380" width="10" height="10" fill="#fac79d"/><rect x="480" y="380" width="10" height="10" fill="#fac79d"/><rect x="490" y="380" width="10" height="10" fill="#fac79d"/><rect x="500" y="380" width="10" height="10" fill="#fac79d"/><rect x="510" y="380" width="10" height="10" fill="#fac79d"/><rect x="670" y="380" width="10" height="10" fill="#fac89d"/><rect x="680" y="380" width="10" height="10" fill="#fac89d"/><rect x="690" y="380" width="10" height="10" fill="#fac99d"/><rect x="700" y="380" width="10" height="10" fill="#fac99d"/><rect x="710" y="380" width="10" height="10" fill="#f9ca9d"/><rect x="720" y="380" width="10" height="10" fill="#f9cc9d"/><rect x="730" y="380" width="10" height="10" fill="#f9cf9d"/><rect x="740" y="380" width="10" height="10" fill="#f9d29d"/><rect x="750" y="380" width="10" height="10" fill="#f9d39d"/><rect x="760" y="380" width="10" height="10" fill="#f9d29d"/><rect x="770" y="380" width="10" height="10" fill="#f9ce9d"/><rect x="780" y="380" width="10" height="10" fill="#f9ca9d"/><rect x="790" y="380" width="10" height="10" fill="#fac89d"/><rect x="800" y="380" width="10" height="10" fill="#fac79d"/><rect x="810" y="380" width="10" height="10" fill="#fac79d"/><rect x="820" y="380" width="10" height="10" fill="#fac79d"/><rect x="830" y="380" width="10" height="10" fill="#fac79d"/><rect x="1020" y="380" width="10" height="10" fill="#fac69d"/><rect x="1030" y="380" width="10" height="10" fill="#fac69d"/><rect x="1040" y="380" width="10" height="10" fill="#fac69d"/><rect x="1050" y="380" width="10" height="10" fill="#fac69d"/><rect x="1060" y="380" width="10" height="10" fill="#fac69d"/><rect x="1070" y="380" width="10" height="10" fill="#fac69d"/><rect x="1080" y="380" width="10" height="10" fill="#fac69d"/><rect x="1090" y="380" width="10" height="10" fill="#fac69d"/><rect x="1100" y="380" width="10" height="10" fill="#fac69d"/><rect x="1110" y="380" width="10" height="10" fill="#fac69d"/><rect x="1120" y="380" width="10" height="10" fill="#fac69d"/><rect x="1130" y="380" width="10" height="10" fill="#fac69d"/><rect x="1140" y="380" width="10" height="10" fill="#fac69d"/><rect x="1150" y="380" width="10" height="10" fill="#fac69d"/><rect x="1160" y="380" width="10" height="10" fill="#fac69d"/><rect x="1170" y="380" width="10" height="10" fill="#fac69d"/><rect x="1180" y="380" width="10" height="10" fill="#fac69d"/><rect x="1190" y="380" width="10" height="10" fill="#fac79d"/><rect x="1200" y="380" width="10" height="10" fill="#fac79d"/><rect x="1210" y="380" width="10" height="10" fill="#fac79d"/><rect x="1220" y="380" width="10" height="10" fill="#fac79d"/><rect x="1230" y="380" width="10" height="10" fill="#fac79d"/><rect x="1240" y="380" width="10" height="10" fill="#fac79d"/><rect x="1250" y="380" width="10" height="10" fill="#fac79d"/><rect x="1260" y="380" width="10" height="10" fill="#fac79d"/><rect x="1270" y="380" width="10" height="10" fill="#fac79d"/><rect x="380" y="390" width="10" height="10" fill="#f9ea9a"/><rect x="390" y="390" width="10" height="10" fill="#f9f49f"/><rect x="400" y="390" width="10" height="10" fill="#f9d49c"/><rect x="410" y="390" width="10" height="10" fill="#f9cd9d"/><rect x="420" y="390" width="10" height="10" fill="#f9cd9d"/><rect x="430" y="390" width="10" height="10" fill="#f9cd9d"/><rect x="440" y="390" width="10" height="10" fill="#f9cd9d"/><rect x="450" y="390" width="10" height="10" fill="#f9cd9d"/><rect x="460" y="390" width="10" height="10" fill="#f9cd9d"/><rect x="470" y="390" width="10" height="10" fill="#f9cd9d"/><rect x="480" y="390" width="10" height="10" fill="#f9cd9d"/><rect x="490" y="390" width="10" height="10" fill="#f9cd9d"/><rect x="500" y="390" width="10" height="10" fill="#f9cd9d"/><rect x="510" y="390" width="10" height="10" fill="#f9cd9d"/><rect x="670" y="390" width="10" height="10" fill="#f9ce9d"/><rect x="680" y="390" width="10" height="10" fill="#f9ce9d"/><rect x="690" y="390" width="10" height="10" fill="#f9ce9d"/><rect x="700" y="390" width="10" height="10" fill="#f9cf9d"/><rect x="710" y="390" width="10" height="10" fill="#f9cf9d"/><rect x="720" y="390" width="10" height="10" fill="#f9d19d"/><rect x="730" y="390" width="10" height="10" fill="#f9d29d"/><rect x="740" y="390" width="10" height="10" fill="#f9d49d"/><rect x="750" y="390" width="10" height="10" fill="#f9d49c"/><rect x="760" y="390" width="10" height="10" fill="#f9d39d"/><rect x="770" y="390" width="10" height="10" fill="#f9d29d"/><rect x="780" y="390" width="10" height="10" fill="#f9cf9d"/><rect x="790" y="390" width="10" height="10" fill="#f9ce9d"/><rect x="800" y="390" width="10" height="10" fill="#f9cd9d"/><rect x="810" y="390" width="10" height="10" fill="#f9cd9d"/><rect x="820" y="390" width="10" height="10" fill="#f9cd9d"/><rect x="1020" y="390" width="10" height="10" fill="#f9cd9d"/><rect x="1030" y="390" width="10" height="10" fill="#f9cd9d"/><rect x="1040" y="390" width="10" height="10" fill="#f9cd9d"/><rect x="1050" y="390" width="10" height="10" fill="#f9cd9d"/><rect x="1060" y="390" width="10" height="10" fill="#f9cd9d"/><rect x="1070" y="390" width="10" height="10" fill="#f9cd9d"/><rect x="1080" y="390" width="10" height="10" fill="#f9cd9d"/><rect x="1090" y="390" width="10" height="10" fill="#f9cd9d"/><rect x="1100" y="390" width="10" height="10" fill="#f9cd9d"/><rect x="1110" y="390" width="10" height="10" fill="#f9cd9d"/><rect x="1120" y="390" width="10" height="10" fill="#f9cd9d"/><rect x="1130" y="390" width="10" height="10" fill="#f9cd9d"/><rect x="1140" y="390" width="10" height="10" fill="#f9cd9d"/><rect x="1150" y="390" width="10" height="10" fill="#f9cd9d"/><rect x="1160" y="390" width="10" height="10" fill="#f9cd9d"/><rect x="1170" y="390" width="10" height="10" fill="#f9cd9d"/><rect x="1180" y="390" width="10" height="10" fill="#f9cd9d"/><rect x="1190" y="390" width="10" height="10" fill="#f9cd9d"/><rect x="1200" y="390" width="10" height="10" fill="#f9cd9d"/><rect x="1210" y="390" width="10" height="10" fill="#f9cd9d"/><rect x="1220" y="390" width="10" height="10" fill="#f9cd9d"/><rect x="1230" y="390" width="10" height="10" fill="#f9cd9d"/><rect x="1240" y="390" width="10" height="10" fill="#f9cd9d"/><rect x="1250" y="390" width="10" height="10" fill="#f9cd9d"/><rect x="1260" y="390" width="10" height="10" fill="#f9cd9d"/><rect x="1270" y="390" width="10" height="10" fill="#f9cd9d"/><rect x="370" y="400" width="10" height="10" fill="#f9d59c"/><rect x="380" y="400" width="10" height="10" fill="#f9ef9a"/><rect x="390" y="400" width="10" height="10" fill="#f8f6a2"/><rect x="400" y="400" width="10" height="10" fill="#f9d89b"/><rect x="410" y="400" width="10" height="10" fill="#f9d29d"/><rect x="420" y="400" width="10" height="10" fill="#f9d29d"/><rect x="430" y="400" width="10" height="10" fill="#f9d29d"/><rect x="440" y="400" width="10" height="10" fill="#f9d39d"/><rect x="450" y="400" width="10" height="10" fill="#f9d39d"/><rect x="460" y="400" width="10" height="10" fill="#f9d39d"/><rect x="470" y="400" width="10" height="10" fill="#f9d39d"/><rect x="480" y="400" width="10" height="10" fill="#f9d39d"/><rect x="490" y="400" width="10" height="10" fill="#f9d39d"/><rect x="500" y="400" width="10" height="10" fill="#f9d39d"/><rect x="670" y="400" width="10" height="10" fill="#f9d39d"/><rect x="680" y="400" width="10" height="10" fill="#f9d39d"/><rect x="690" y="400" width="10" height="10" fill="#f9d39d"/><rect x="700" y="400" width="10" height="10" fill="#f9d49d"/><rect x="710" y="400" width="10" height="10" fill="#f9d49c"/><rect x="720" y="400" width="10" height="10" fill="#f9d49c"/><rect x="730" y="400" width="10" height="10" fill="#f9d59c"/><rect x="740" y="400" width="10" height="10" fill="#f9d69b"/><rect x="750" y="400" width="10" height="10" fill="#f9d69b"/><rect x="760" y="400" width="10" height="10" fill="#f9d69c"/><rect x="770" y="400" width="10" height="10" fill="#f9d59c"/><rect x="780" y="400" width="10" height="10" fill="#f9d49c"/><rect x="790" y="400" width="10" height="10" fill="#f9d39d"/><rect x="800" y="400" width="10" height="10" fill="#f9d39d"/><rect x="810" y="400" width="10" height="10" fill="#f9d39d"/><rect x="820" y="400" width="10" height="10" fill="#f9d39d"/><rect x="1020" y="400" width="10" height="10" fill="#f9d39d"/><rect x="1030" y="400" width="10" height="10" fill="#f9d39d"/><rect x="1040" y="400" width="10" height="10" fill="#f9d39d"/><rect x="1050" y="400" width="10" height="10" fill="#f9d39d"/><rect x="1060" y="400" width="10" height="10" fill="#f9d39d"/><rect x="1070" y="400" width="10" height="10" fill="#f9d39d"/><rect x="1080" y="400" width="10" height="10" fill="#f9d39d"/><rect x="1090" y="400" width="10" height="10" fill="#f9d39d"/><rect x="1100" y="400" width="10" height="10" fill="#f9d39d"/><rect x="1110" y="400" width="10" height="10" fill="#f9d39d"/><rect x="1120" y="400" width="10" height="10" fill="#f9d39d"/><rect x="1130" y="400" width="10" height="10" fill="#f9d39d"/><rect x="1140" y="400" width="10" height="10" fill="#f9d39d"/><rect x="1150" y="400" width="10" height="10" fill="#f9d39d"/><rect x="1160" y="400" width="10" height="10" fill="#f9d39d"/><rect x="1170" y="400" width="10" height="10" fill="#f9d39d"/><rect x="1180" y="400" width="10" height="10" fill="#f9d39d"/><rect x="1190" y="400" width="10" height="10" fill="#f9d39d"/><rect x="1210" y="400" width="10" height="10" fill="#f9d39d"/><rect x="1220" y="400" width="10" height="10" fill="#f9d39d"/><rect x="1230" y="400" width="10" height="10" fill="#f9d39d"/><rect x="370" y="410" width="10" height="10" fill="#f9d99a"/><rect x="380" y="410" width="10" height="10" fill="#f9f19c"/><rect x="390" y="410" width="10" height="10" fill="#f7f6a3"/><rect x="400" y="410" width="10" height="10" fill="#f9da9a"/><rect x="410" y="410" width="10" height="10" fill="#f9d59c"/><rect x="420" y="410" width="10" height="10" fill="#f9d59c"/><rect x="430" y="410" width="10" height="10" fill="#f9d69c"/><rect x="440" y="410" width="10" height="10" fill="#f9d69b"/><rect x="450" y="410" width="10" height="10" fill="#f9d79b"/><rect x="460" y="410" width="10" height="10" fill="#f9d79b"/><rect x="470" y="410" width="10" height="10" fill="#f9d79b"/><rect x="480" y="410" width="10" height="10" fill="#f9d79b"/><rect x="680" y="410" width="10" height="10" fill="#f9d79b"/><rect x="690" y="410" width="10" height="10" fill="#f9d79b"/><rect x="700" y="410" width="10" height="10" fill="#f9d89b"/><rect x="710" y="410" width="10" height="10" fill="#f9d89b"/><rect x="720" y="410" width="10" height="10" fill="#f9d89a"/><rect x="730" y="410" width="10" height="10" fill="#f9d89a"/><rect x="740" y="410" width="10" height="10" fill="#f9d99a"/><rect x="750" y="410" width="10" height="10" fill="#f9d99a"/><rect x="760" y="410" width="10" height="10" fill="#f9d99a"/><rect x="770" y="410" width="10" height="10" fill="#f9d89a"/><rect x="780" y="410" width="10" height="10" fill="#f9d89b"/><rect x="790" y="410" width="10" height="10" fill="#f9d79b"/><rect x="800" y="410" width="10" height="10" fill="#f9d79b"/><rect x="810" y="410" width="10" height="10" fill="#f9d79b"/><rect x="1020" y="410" width="10" height="10" fill="#f9d79b"/><rect x="1030" y="410" width="10" height="10" fill="#f9d79b"/><rect x="1040" y="410" width="10" height="10" fill="#f9d79b"/><rect x="1050" y="410" width="10" height="10" fill="#f9d79b"/><rect x="1060" y="410" width="10" height="10" fill="#f9d79b"/><rect x="1070" y="410" width="10" height="10" fill="#f9d79b"/><rect x="1080" y="410" width="10" height="10" fill="#f9d79b"/><rect x="1090" y="410" width="10" height="10" fill="#f9d79b"/><rect x="1100" y="410" width="10" height="10" fill="#f9d79b"/><rect x="1110" y="410" width="10" height="10" fill="#f9d79b"/><rect x="1120" y="410" width="10" height="10" fill="#f9d79b"/><rect x="1130" y="410" width="10" height="10" fill="#f9d79b"/><rect x="1140" y="410" width="10" height="10" fill="#f9d79b"/><rect x="1150" y="410" width="10" height="10" fill="#f9d79b"/><rect x="1160" y="410" width="10" height="10" fill="#f9d79b"/><rect x="1170" y="410" width="10" height="10" fill="#f9d79b"/><rect x="1180" y="410" width="10" height="10" fill="#f9d79b"/><rect x="1190" y="410" width="10" height="10" fill="#f9d79b"/><rect x="1230" y="410" width="10" height="10" fill="#f9d79b"/><rect x="1240" y="410" width="10" height="10" fill="#f9d79b"/><rect x="1250" y="410" width="10" height="10" fill="#f9d79b"/><rect x="370" y="420" width="10" height="10" fill="#f9dd9a"/><rect x="380" y="420" width="10" height="10" fill="#f9f49f"/><rect x="390" y="420" width="10" height="10" fill="#f7f6a4"/><rect x="400" y="420" width="10" height="10" fill="#f9dc9a"/><rect x="410" y="420" width="10" height="10" fill="#f9d89b"/><rect x="420" y="420" width="10" height="10" fill="#f9d89b"/><rect x="430" y="420" width="10" height="10" fill="#f9d99a"/><rect x="440" y="420" width="10" height="10" fill="#f9da9a"/><rect x="450" y="420" width="10" height="10" fill="#f9db9a"/><rect x="460" y="420" width="10" height="10" fill="#f9db9a"/><rect x="470" y="420" width="10" height="10" fill="#f9dc9a"/><rect x="480" y="420" width="10" height="10" fill="#f9dc9a"/><rect x="680" y="420" width="10" height="10" fill="#f9dc9a"/><rect x="690" y="420" width="10" height="10" fill="#f9dc9a"/><rect x="700" y="420" width="10" height="10" fill="#f9dc9a"/><rect x="710" y="420" width="10" height="10" fill="#f9dc9a"/><rect x="720" y="420" width="10" height="10" fill="#f9dc9a"/><rect x="730" y="420" width="10" height="10" fill="#f9dc9a"/><rect x="740" y="420" width="10" height="10" fill="#f9dd9a"/><rect x="750" y="420" width="10" height="10" fill="#f9dd9a"/><rect x="760" y="420" width="10" height="10" fill="#f9dd9a"/><rect x="1020" y="420" width="10" height="10" fill="#f9dc9a"/><rect x="1030" y="420" width="10" height="10" fill="#f9dc9a"/><rect x="1040" y="420" width="10" height="10" fill="#f9dc9a"/><rect x="1050" y="420" width="10" height="10" fill="#f9dc9a"/><rect x="1060" y="420" width="10" height="10" fill="#f9dc9a"/><rect x="1070" y="420" width="10" height="10" fill="#f9dc9a"/><rect x="1080" y="420" width="10" height="10" fill="#f9dc9a"/><rect x="1090" y="420" width="10" height="10" fill="#f9dc9a"/><rect x="1100" y="420" width="10" height="10" fill="#f9dc9a"/><rect x="1110" y="420" width="10" height="10" fill="#f9dc9a"/><rect x="1120" y="420" width="10" height="10" fill="#f9dc9a"/><rect x="1130" y="420" width="10" height="10" fill="#f9dc9a"/><rect x="1140" y="420" width="10" height="10" fill="#f9dc9a"/><rect x="1150" y="420" width="10" height="10" fill="#f9dc9a"/><rect x="1160" y="420" width="10" height="10" fill="#f9dc9a"/><rect x="1170" y="420" width="10" height="10" fill="#f9dc9a"/><rect x="1180" y="420" width="10" height="10" fill="#f9dc9a"/><rect x="1190" y="420" width="10" height="10" fill="#f9dc9a"/><rect x="1220" y="420" width="10" height="10" fill="#f9dc9a"/><rect x="1230" y="420" width="10" height="10" fill="#f9dc9a"/><rect x="1240" y="420" width="10" height="10" fill="#f9dc9a"/><rect x="1250" y="420" width="10" height="10" fill="#f9dc9a"/><rect x="1260" y="420" width="10" height="10" fill="#f9dc9a"/><rect x="1270" y="420" width="10" height="10" fill="#f9dc9a"/><rect x="370" y="430" width="10" height="10" fill="#f9e59a"/><rect x="380" y="430" width="10" height="10" fill="#f7f6a3"/><rect x="390" y="430" width="10" height="10" fill="#f6f7a5"/><rect x="400" y="430" width="10" height="10" fill="#f9df9a"/><rect x="410" y="430" width="10" height="10" fill="#f9db9a"/><rect x="420" y="430" width="10" height="10" fill="#f9db9a"/><rect x="430" y="430" width="10" height="10" fill="#f9dc9a"/><rect x="440" y="430" width="10" height="10" fill="#f9de9a"/><rect x="450" y="430" width="10" height="10" fill="#f9e09a"/><rect x="460" y="430" width="10" height="10" fill="#f9e19a"/><rect x="470" y="430" width="10" height="10" fill="#f9e29a"/><rect x="690" y="430" width="10" height="10" fill="#f9e29a"/><rect x="700" y="430" width="10" height="10" fill="#f9e29a"/><rect x="710" y="430" width="10" height="10" fill="#f9e29a"/><rect x="720" y="430" width="10" height="10" fill="#f9e29a"/><rect x="730" y="430" width="10" height="10" fill="#f9e39a"/><rect x="740" y="430" width="10" height="10" fill="#f9e39a"/><rect x="750" y="430" width="10" height="10" fill="#f9e39a"/><rect x="1020" y="430" width="10" height="10" fill="#f9e29a"/><rect x="1030" y="430" width="10" height="10" fill="#f9e29a"/><rect x="1040" y="430" width="10" height="10" fill="#f9e29a"/><rect x="1050" y="430" width="10" height="10" fill="#f9e29a"/><rect x="1060" y="430" width="10" height="10" fill="#f9e29a"/><rect x="1070" y="430" width="10" height="10" fill="#f9e29a"/><rect x="1080" y="430" width="10" height="10" fill="#f9e29a"/><rect x="1090" y="430" width="10" height="10" fill="#f9e29a"/><rect x="1100" y="430" width="10" height="10" fill="#f9e29a"/><rect x="1110" y="430" width="10" height="10" fill="#f9e29a"/><rect x="1120" y="430" width="10" height="10" fill="#f9e29a"/><rect x="1130" y="430" width="10" height="10" fill="#f9e29a"/><rect x="1140" y="430" width="10" height="10" fill="#f9e29a"/><rect x="1150" y="430" width="10" height="10" fill="#f9e29a"/><rect x="1160" y="430" width="10" height="10" fill="#f9e29a"/><rect x="1170" y="430" width="10" height="10" fill="#f9e29a"/><rect x="1180" y="430" width="10" height="10" fill="#f9e29a"/><rect x="1220" y="430" width="10" height="10" fill="#f9e29a"/><rect x="1230" y="430" width="10" height="10" fill="#f9e29a"/><rect x="1240" y="430" width="10" height="10" fill="#f9e29a"/><rect x="1250" y="430" width="10" height="10" fill="#f9e29a"/><rect x="1260" y="430" width="10" height="10" fill="#f9e29a"/><rect x="1270" y="430" width="10" height="10" fill="#f9e29a"/><rect x="370" y="440" width="10" height="10" fill="#f9ef9b"/><rect x="380" y="440" width="10" height="10" fill="#f4f8a9"/><rect x="390" y="440" width="10" height="10" fill="#f4f8a8"/><rect x="400" y="440" width="10" height="10" fill="#f9e99a"/><rect x="410" y="440" width="10" height="10" fill="#f9e19a"/><rect x="420" y="440" width="10" height="10" fill="#f9e19a"/><rect x="430" y="440" width="10" height="10" fill="#f9e49a"/><rect x="440" y="440" width="10" height="10" fill="#f9e89a"/><rect x="450" y="440" width="10" height="10" fill="#f9eb9a"/><rect x="460" y="440" width="10" height="10" fill="#f9ed9a"/><rect x="700" y="440" width="10" height="10" fill="#f9ee9a"/><rect x="710" y="440" width="10" height="10" fill="#f9ee9a"/><rect x="720" y="440" width="10" height="10" fill="#f9ee9a"/><rect x="730" y="440" width="10" height="10" fill="#f9ee9a"/><rect x="740" y="440" width="10" height="10" fill="#f9ee9a"/><rect x="1030" y="440" width="10" height="10" fill="#f9ee9a"/><rect x="1040" y="440" width="10" height="10" fill="#f9ee9a"/><rect x="1050" y="440" width="10" height="10" fill="#f9ee9a"/><rect x="1060" y="440" width="10" height="10" fill="#f9ee9a"/><rect x="1070" y="440" width="10" height="10" fill="#f9ee9a"/><rect x="1080" y="440" width="10" height="10" fill="#f9ee9a"/><rect x="1090" y="440" width="10" height="10" fill="#f9ee9a"/><rect x="1100" y="440" width="10" height="10" fill="#f9ee9a"/><rect x="1110" y="440" width="10" height="10" fill="#f9ee9a"/><rect x="1120" y="440" width="10" height="10" fill="#f9ee9a"/><rect x="1130" y="440" width="10" height="10" fill="#f9ee9a"/><rect x="1140" y="440" width="10" height="10" fill="#f9ee9a"/><rect x="1150" y="440" width="10" height="10" fill="#f9ee9a"/><rect x="1160" y="440" width="10" height="10" fill="#f9ee9a"/><rect x="1170" y="440" width="10" height="10" fill="#f9ee9a"/><rect x="1180" y="440" width="10" height="10" fill="#f9ee9a"/><rect x="1220" y="440" width="10" height="10" fill="#f9ee9a"/><rect x="1230" y="440" width="10" height="10" fill="#f9ee9a"/><rect x="1240" y="440" width="10" height="10" fill="#f9ee9a"/><rect x="1250" y="440" width="10" height="10" fill="#f9ee9a"/><rect x="1260" y="440" width="10" height="10" fill="#f9ee9a"/><rect x="1270" y="440" width="10" height="10" fill="#f9ee9a"/><rect x="360" y="450" width="10" height="10" fill="#f9f5a1"/><rect x="370" y="450" width="10" height="10" fill="#f8f6a2"/><rect x="380" y="450" width="10" height="10" fill="#f0f9ad"/><rect x="390" y="450" width="10" height="10" fill="#f0f9ad"/><rect x="400" y="450" width="10" height="10" fill="#f9f49f"/><rect x="410" y="450" width="10" height="10" fill="#f9f19d"/><rect x="420" y="450" width="10" height="10" fill="#f9f19d"/><rect x="430" y="450" width="10" height="10" fill="#f9f29e"/><rect x="440" y="450" width="10" height="10" fill="#f9f39f"/><rect x="450" y="450" width="10" height="10" fill="#f9f4a0"/><rect x="1040" y="450" width="10" height="10" fill="#f9f5a1"/><rect x="1050" y="450" width="10" height="10" fill="#f9f5a1"/><rect x="1110" y="450" width="10" height="10" fill="#f9f5a1"/><rect x="1120" y="450" width="10" height="10" fill="#f9f5a1"/><rect x="1130" y="450" width="10" height="10" fill="#f9f5a1"/><rect x="1140" y="450" width="10" height="10" fill="#f9f5a1"/><rect x="1150" y="450" width="10" height="10" fill="#f9f5a1"/><rect x="1160" y="450" width="10" height="10" fill="#f9f5a1"/><rect x="1170" y="450" width="10" height="10" fill="#f9f5a1"/><rect x="1210" y="450" width="10" height="10" fill="#f9f5a1"/><rect x="1220" y="450" width="10" height="10" fill="#f9f5a1"/><rect x="1230" y="450" width="10" height="10" fill="#f9f5a1"/><rect x="1240" y="450" width="10" height="10" fill="#f9f5a1"/><rect x="1250" y="450" width="10" height="10" fill="#f9f5a1"/><rect x="1260" y="450" width="10" height="10" fill="#f9f5a1"/><rect x="1270" y="450" width="10" height="10" fill="#f9f5a1"/><rect x="360" y="460" width="10" height="10" fill="#f3f8aa"/><rect x="370" y="460" width="10" height="10" fill="#f2f9ab"/><rect x="380" y="460" width="10" height="10" fill="#ecf9b0"/><rect x="390" y="460" width="10" height="10" fill="#edf9af"/><rect x="400" y="460" width="10" height="10" fill="#f3f8a9"/><rect x="410" y="460" width="10" height="10" fill="#f4f8a8"/><rect x="420" y="460" width="10" height="10" fill="#f4f8a8"/><rect x="430" y="460" width="10" height="10" fill="#f4f8a8"/><rect x="440" y="460" width="10" height="10" fill="#f3f8a9"/><rect x="870" y="460" width="10" height="10" fill="#f3f8aa"/><rect x="880" y="460" width="10" height="10" fill="#f3f8aa"/><rect x="890" y="460" width="10" height="10" fill="#f3f8aa"/><rect x="1120" y="460" width="10" height="10" fill="#f3f8aa"/><rect x="1130" y="460" width="10" height="10" fill="#f3f8aa"/><rect x="1140" y="460" width="10" height="10" fill="#f3f8aa"/><rect x="1150" y="460" width="10" height="10" fill="#f3f8aa"/><rect x="1160" y="460" width="10" height="10" fill="#f3f8aa"/><rect x="1170" y="460" width="10" height="10" fill="#f3f8aa"/><rect x="1200" y="460" width="10" height="10" fill="#f3f8aa"/><rect x="1210" y="460" width="10" height="10" fill="#f3f8aa"/><rect x="1220" y="460" width="10" height="10" fill="#f3f8aa"/><rect x="1230" y="460" width="10" height="10" fill="#f3f8aa"/><rect x="1240" y="460" width="10" height="10" fill="#f3f8aa"/><rect x="1250" y="460" width="10" height="10" fill="#f3f8aa"/><rect x="1260" y="460" width="10" height="10" fill="#f3f8aa"/><rect x="1270" y="460" width="10" height="10" fill="#f3f8aa"/><rect x="360" y="470" width="10" height="10" fill="#ecf9b0"/><rect x="370" y="470" width="10" height="10" fill="#ecf9b0"/><rect x="380" y="470" width="10" height="10" fill="#e9f9b2"/><rect x="390" y="470" width="10" height="10" fill="#e9f9b2"/><rect x="400" y="470" width="10" height="10" fill="#ecf9b0"/><rect x="410" y="470" width="10" height="10" fill="#edf9af"/><rect x="420" y="470" width="10" height="10" fill="#edf9af"/><rect x="430" y="470" width="10" height="10" fill="#edf9af"/><rect x="440" y="470" width="10" height="10" fill="#edf9b0"/><rect x="860" y="470" width="10" height="10" fill="#ecf9b0"/><rect x="870" y="470" width="10" height="10" fill="#ecf9b0"/><rect x="880" y="470" width="10" height="10" fill="#ecf9b0"/><rect x="890" y="470" width="10" height="10" fill="#ecf9b0"/><rect x="900" y="470" width="10" height="10" fill="#ecf9b0"/><rect x="1130" y="470" width="10" height="10" fill="#ecf9b0"/><rect x="1140" y="470" width="10" height="10" fill="#ecf9b0"/><rect x="1150" y="470" width="10" height="10" fill="#ecf9b0"/><rect x="1160" y="470" width="10" height="10" fill="#ecf9b0"/><rect x="1170" y="470" width="10" height="10" fill="#ecf9b0"/><rect x="1200" y="470" width="10" height="10" fill="#ecf9b0"/><rect x="1210" y="470" width="10" height="10" fill="#ecf9b0"/><rect x="1220" y="470" width="10" height="10" fill="#ecf9b0"/><rect x="1230" y="470" width="10" height="10" fill="#ecf9b0"/><rect x="1240" y="470" width="10" height="10" fill="#ecf9b0"/><rect x="1250" y="470" width="10" height="10" fill="#ecf9b0"/><rect x="1260" y="470" width="10" height="10" fill="#ecf9b0"/><rect x="360" y="480" width="10" height="10" fill="#e7f9b4"/><rect x="370" y="480" width="10" height="10" fill="#e7f9b4"/><rect x="380" y="480" width="10" height="10" fill="#e6f9b5"/><rect x="390" y="480" width="10" height="10" fill="#e6f9b5"/><rect x="400" y="480" width="10" height="10" fill="#e7f9b4"/><rect x="410" y="480" width="10" height="10" fill="#e7f9b4"/><rect x="420" y="480" width="10" height="10" fill="#e7f9b4"/><rect x="430" y="480" width="10" height="10" fill="#e7f9b4"/><rect x="440" y="480" width="10" height="10" fill="#e7f9b4"/><rect x="450" y="480" width="10" height="10" fill="#e7f9b4"/><rect x="500" y="480" width="10" height="10" fill="#e7f9b4"/><rect x="510" y="480" width="10" height="10" fill="#e7f9b4"/><rect x="520" y="480" width="10" height="10" fill="#e7f9b4"/><rect x="860" y="480" width="10" height="10" fill="#e7f9b4"/><rect x="870" y="480" width="10" height="10" fill="#e7f9b4"/><rect x="880" y="480" width="10" height="10" fill="#e7f9b4"/><rect x="890" y="480" width="10" height="10" fill="#e7f9b4"/><rect x="900" y="480" width="10" height="10" fill="#e7f9b4"/><rect x="1150" y="480" width="10" height="10" fill="#e7f9b4"/><rect x="1200" y="480" width="10" height="10" fill="#e7f9b4"/><rect x="1210" y="480" width="10" height="10" fill="#e7f9b4"/><rect x="1220" y="480" width="10" height="10" fill="#e7f9b4"/><rect x="1230" y="480" width="10" height="10" fill="#e7f9b4"/><rect x="1240" y="480" width="10" height="10" fill="#e7f9b4"/><rect x="1250" y="480" width="10" height="10" fill="#e7f9b4"/><rect x="360" y="490" width="10" height="10" fill="#e4f9b7"/><rect x="370" y="490" width="10" height="10" fill="#e4f9b7"/><rect x="380" y="490" width="10" height="10" fill="#e3f9b7"/><rect x="390" y="490" width="10" height="10" fill="#e3f9b7"/><rect x="400" y="490" width="10" height="10" fill="#e4f9b7"/><rect x="410" y="490" width="10" height="10" fill="#e4f9b7"/><rect x="420" y="490" width="10" height="10" fill="#e4f9b7"/><rect x="430" y="490" width="10" height="10" fill="#e4f9b7"/><rect x="440" y="490" width="10" height="10" fill="#e4f9b7"/><rect x="450" y="490" width="10" height="10" fill="#e4f9b7"/><rect x="490" y="490" width="10" height="10" fill="#e4f9b7"/><rect x="500" y="490" width="10" height="10" fill="#e4f9b7"/><rect x="510" y="490" width="10" height="10" fill="#e4f9b7"/><rect x="520" y="490" width="10" height="10" fill="#e4f9b7"/><rect x="530" y="490" width="10" height="10" fill="#e4f9b7"/><rect x="860" y="490" width="10" height="10" fill="#e4f9b7"/><rect x="870" y="490" width="10" height="10" fill="#e4f9b7"/><rect x="880" y="490" width="10" height="10" fill="#e4f9b7"/><rect x="890" y="490" width="10" height="10" fill="#e4f9b7"/><rect x="900" y="490" width="10" height="10" fill="#e4f9b7"/><rect x="1220" y="490" width="10" height="10" fill="#e4f9b7"/><rect x="1230" y="490" width="10" height="10" fill="#e4f9b7"/><rect x="360" y="500" width="10" height="10" fill="#e0f9b9"/><rect x="370" y="500" width="10" height="10" fill="#e0f9b9"/><rect x="380" y="500" width="10" height="10" fill="#e0f9ba"/><rect x="390" y="500" width="10" height="10" fill="#e0f9ba"/><rect x="400" y="500" width="10" height="10" fill="#e0f9b9"/><rect x="410" y="500" width="10" height="10" fill="#e0f9b9"/><rect x="420" y="500" width="10" height="10" fill="#e0f9b9"/><rect x="430" y="500" width="10" height="10" fill="#e0f9b9"/><rect x="440" y="500" width="10" height="10" fill="#e0f9b9"/><rect x="450" y="500" width="10" height="10" fill="#e0f9b9"/><rect x="490" y="500" width="10" height="10" fill="#e0f9b9"/><rect x="500" y="500" width="10" height="10" fill="#e0f9b9"/><rect x="510" y="500" width="10" height="10" fill="#e0f9b9"/><rect x="520" y="500" width="10" height="10" fill="#e0f9b9"/><rect x="530" y="500" width="10" height="10" fill="#e0f9b9"/><rect x="870" y="500" width="10" height="10" fill="#e0f9b9"/><rect x="880" y="500" width="10" height="10" fill="#e0f9b9"/><rect x="890" y="500" width="10" height="10" fill="#e0f9b9"/><rect x="370" y="510" width="10" height="10" fill="#def9ba"/><rect x="380" y="510" width="10" height="10" fill="#def9ba"/><rect x="390" y="510" width="10" height="10" fill="#def9ba"/><rect x="400" y="510" width="10" height="10" fill="#def9ba"/><rect x="410" y="510" width="10" height="10" fill="#def9ba"/><rect x="420" y="510" width="10" height="10" fill="#def9ba"/><rect x="430" y="510" width="10" height="10" fill="#def9ba"/><rect x="440" y="510" width="10" height="10" fill="#def9ba"/><rect x="490" y="510" width="10" height="10" fill="#def9ba"/><rect x="500" y="510" width="10" height="10" fill="#def9ba"/><rect x="510" y="510" width="10" height="10" fill="#def9ba"/><rect x="520" y="510" width="10" height="10" fill="#def9ba"/><rect x="530" y="510" width="10" height="10" fill="#def9ba"/><rect x="390" y="520" width="10" height="10" fill="#ddf9bb"/><rect x="400" y="520" width="10" height="10" fill="#ddf9bb"/><rect x="510" y="520" width="10" height="10" fill="#ddf9bb"/></g><path d="M370.0,284.0 L378.0,292.0 L380.0,300.0 L374.0,311.0 L369.0,323.0 L370.0,337.0 L377.0,352.0 L391.0,366.0 L401.0,380.0 L403.0,395.0 L400.0,410.0 L397.0,425.0 L395.0,440.0 L392.0,460.0 L389.0,480.0 L387.0,500.0" fill="none" stroke="#e8f2a0" stroke-width="14" stroke-linecap="round" stroke-linejoin="round" filter="url(#ob0)"/><path d="M372.0,286.0 L379.0,296.0 L374.0,310.0 L370.0,322.0 L371.0,336.0 L379.0,356.0 L396.0,372.0 L405.0,388.0 L403.0,407.0 L400.0,423.0 L398.0,440.0 L395.0,460.0" fill="none" stroke="#cef2b8" stroke-width="5" stroke-linecap="round" stroke-linejoin="round" filter="url(#ob1)"/><path d="M880.0,170.0 L900.0,162.0 L935.0,158.0 L965.0,160.0 L960.0,166.0 L935.0,166.0 L905.0,172.0 L886.0,178.0 Z" fill="#a8eee4" filter="url(#pb0)"/><path d="M884.0,180.0 L906.0,169.0 L934.0,164.0 L964.0,165.0 L993.0,174.0 L1004.0,188.0 L994.0,204.0 L977.0,213.0 L954.0,216.0 L925.0,208.0 L906.0,199.0 L889.0,193.0 Z" fill="#96e6f4" filter="url(#pb1)"/><path d="M906.0,174.0 L925.0,167.0 L960.0,164.0 L990.0,167.0 L1012.0,172.0 L1006.0,179.0 L975.0,182.0 L940.0,185.0 L912.0,184.0 Z" fill="#f0f09a" filter="url(#pb2)"/>
<mask id="hmask" maskUnits="userSpaceOnUse" x="0" y="0" width="1280" height="530"><path d="M380.0,276.0 L396.2,271.2 L418.7,273.5 L434.4,280.2 L452.4,293.7 L465.8,304.9 L483.8,316.2 L501.8,322.9 L513.0,329.7 L515.3,334.2 L497.3,345.4 L486.1,349.9 L481.6,361.1 L465.8,365.6 L452.4,372.4 L443.4,385.8 L429.9,385.8 L425.4,367.9 L420.9,354.4 L407.4,352.1 L395.0,350.0 L386.0,344.0 L380.0,334.0 L379.0,320.0 L385.0,306.0 L388.0,292.0 Z" fill="#fff"/><path d="M285.0,246.0 L300.0,250.0 L315.0,245.0 L330.0,240.0 L335.0,252.0 L347.0,258.0 L350.0,270.0 L345.0,277.0 L332.0,270.0 L322.0,260.0 L310.0,255.0 L295.0,252.0 Z" fill="#fff"/><path d="M586.4,241.7 L596.0,225.7 L616.9,212.8 L628.2,211.2 L649.0,217.7 L660.3,220.9 L669.9,219.3 L676.3,224.1 L663.5,225.7 L657.0,228.9 L668.3,235.3 L684.3,236.9 L700.4,241.7 L708.4,244.9 L724.5,240.1 L740.5,230.5 L756.6,227.3 L762.0,224.5 L766.2,223.8 L774.5,236.3 L778.7,251.0 L787.0,263.5 L803.7,276.0 L820.4,278.1 L812.0,296.9 L795.4,313.6 L787.0,322.0 L781.0,322.0 L770.0,314.0 L760.0,304.0 L752.0,298.0 L728.0,279.0 L704.0,286.0 L680.0,281.0 L666.0,284.3 L645.1,291.8 L624.3,294.8 L607.6,288.5 L590.9,278.1 L584.6,263.5 L582.5,242.6 Z" fill="#fff"/><path d="M766.0,218.0 L773.0,224.0 L793.0,213.0 L812.0,203.0 L822.0,212.0 L835.0,220.0 L848.0,233.0 L841.0,248.0 L829.0,255.0 L812.0,258.0 L795.0,262.0 L786.0,258.0 L778.0,240.0 Z" fill="#fff"/><path d="M840.0,214.0 L848.0,206.0 L864.0,211.0 L872.0,217.0 L878.0,224.0 L861.0,225.0 L840.0,224.0 Z" fill="#fff"/><path d="M876.9,210.9 L888.2,206.1 L896.2,202.8 L904.2,212.5 L920.3,218.9 L936.3,223.7 L952.4,226.9 L962.0,230.1 L966.0,236.0 L958.8,236.0 L944.3,241.0 L929.9,252.6 L920.3,260.6 L915.4,280.9 L910.6,280.9 L901.0,257.4 L896.2,243.0 L888.2,235.0 L876.9,223.7 Z" fill="#fff"/><path d="M967.9,234.7 L983.3,248.2 L1010.3,250.1 L1023.8,263.6 L1014.1,280.9 L1002.6,273.2 L996.0,280.0 L1005.0,307.0 L990.0,290.0 L985.2,255.9 L975.6,248.2 Z" fill="#fff"/><path d="M975.0,293.8 L985.0,297.5 L1000.0,310.0 L1012.5,322.5 L1015.0,332.5 L1007.5,332.5 L992.5,317.5 L980.0,302.5 Z" fill="#fff"/><path d="M1022.0,307.0 L1042.0,295.0 L1055.0,287.0 L1065.0,278.0 L1072.0,285.0 L1070.0,295.0 L1060.0,307.0 L1052.0,322.0 L1042.0,325.0 L1027.0,322.0 L1022.0,315.0 Z" fill="#fff"/><path d="M1100.0,318.0 L1115.0,322.0 L1135.0,326.0 L1150.0,332.0 L1160.0,342.0 L1145.0,343.0 L1130.0,342.0 L1118.0,338.0 L1105.0,328.0 Z" fill="#fff"/><path d="M1045.0,385.0 L1060.0,380.0 L1070.0,375.0 L1080.0,362.5 L1095.0,355.0 L1105.0,352.5 L1117.5,355.0 L1120.0,367.5 L1130.0,375.0 L1135.0,362.5 L1137.5,352.5 L1142.5,357.5 L1145.0,375.0 L1130.0,380.0 L1110.0,382.5 L1085.0,390.0 L1060.0,392.5 L1047.5,392.5 Z" fill="#fff"/><path d="M1060.0,255.0 L1070.0,252.0 L1080.0,275.0 L1085.0,290.0 L1075.0,293.0 L1064.0,270.0 Z" fill="#fff"/><path d="M764.0,264.0 L781.0,260.0 L793.0,274.0 L788.0,288.0 L783.0,303.0 L771.0,303.0 L764.0,286.0 Z" fill="#000"/><path d="M590.0,283.0 L600.0,278.0 L612.0,280.0 L622.0,290.0 L610.0,296.0 L596.0,292.0 Z" fill="#000"/><path d="M662.0,270.0 L675.0,266.0 L688.0,275.0 L690.0,290.0 L672.0,292.0 L662.0,284.0 Z" fill="#000"/><path d="M712.0,281.0 L728.0,279.0 L742.0,284.0 L738.0,300.0 L715.0,300.0 Z" fill="#000"/><path d="M414.0,293.7 L434.4,291.5 L438.9,302.7 L425.4,304.9 L414.2,302.7 Z" fill="#000"/><path d="M411.9,349.9 L429.9,347.6 L441.1,356.6 L443.4,367.9 L429.9,367.9 L418.7,363.4 Z" fill="#000"/></mask><rect x="0" y="0" width="1280" height="530" fill="url(#hatch)" mask="url(#hmask)" opacity="0.95"/>
<path d="M776.0,243.0 L779.0,242.0 L786.0,254.0 L792.0,264.0 L790.0,266.0 L784.0,258.0 L778.0,248.0 Z M593.8,245.0 L598.8,243.8 L601.3,252.6 L600.0,258.8 L596.3,257.6 L593.2,252.6 Z M606.3,250.0 L612.6,246.3 L620.1,246.3 L622.6,250.0 L618.8,255.0 L610.0,256.3 L606.3,253.8 Z M635.1,253.8 L642.6,247.6 L647.6,250.0 L655.1,252.6 L660.1,258.8 L657.6,263.8 L650.1,263.8 L641.4,261.3 L636.3,258.8 Z M696.4,258.8 L701.4,253.8 L707.7,252.6 L713.9,257.6 L715.2,263.8 L710.2,268.8 L701.4,268.8 L696.4,265.1 Z M751.3,248.8 L757.5,247.5 L765.0,248.8 L771.3,252.5 L770.0,256.3 L762.6,256.3 L756.3,253.8 L751.3,252.5 Z" fill="#262626"/>
</g>
<path d="M314.1,102.6 L322.1,94.6 L335.0,88.2 L344.6,85.0 L357.4,86.6 L365.5,80.1 L373.5,78.5 L370.3,88.2 L367.1,97.8 L370.3,107.4 L373.5,113.9 L367.1,120.3 L365.5,131.5 L360.6,129.9 L357.4,120.3 L346.2,115.5 L330.1,112.3 L317.3,109.0 Z M370.0,88.0 L373.5,78.5 L386.3,85.0 L402.4,91.4 L415.2,94.6 L421.7,86.6 L428.0,90.0 L418.4,104.2 L408.8,107.4 L402.4,102.6 L394.4,96.2 L380.0,93.0 Z M400.0,145.0 L417.5,137.5 L442.5,135.0 L430.0,145.0 L420.0,150.0 L405.0,147.5 Z M743.3,169.3 L740.2,162.3 L746.5,155.0 L749.9,150.8 L756.2,152.9 L761.4,158.1 L770.1,155.0 L777.1,149.1 L774.7,154.3 L775.4,157.8 L787.9,167.9 L782.3,169.6 L769.4,168.9 L759.7,166.5 L747.5,169.3 Z M808.0,156.0 L814.0,155.0 L817.0,160.0 L823.0,171.0 L826.0,183.0 L818.0,182.0 L814.0,172.0 L810.0,165.0 Z M785.8,81.2 L777.1,82.2 L770.1,87.1 L784.1,88.1 L796.3,82.9 Z" fill="#fff"/>
<rect x="3.7" y="3.1" width="1273.1" height="523.1" fill="none" stroke="#2a2a2a" stroke-width="1.5"/>
<text x="545.3" y="567.5" font-size="24.2" font-weight="bold" fill="#000">Mean annual temperature</text>
<rect x="535.50" y="584" width="23.60" height="12.5" fill="#a6a4f9" stroke="#464646" stroke-width="1.5"/><rect x="559.10" y="584" width="23.60" height="12.5" fill="#a8aff7" stroke="#464646" stroke-width="1.5"/><rect x="582.70" y="584" width="23.60" height="12.5" fill="#a6b6f7" stroke="#464646" stroke-width="1.5"/><rect x="606.30" y="584" width="23.60" height="12.5" fill="#a8c2f9" stroke="#464646" stroke-width="1.5"/><rect x="629.90" y="584" width="23.60" height="12.5" fill="#a8cbf9" stroke="#464646" stroke-width="1.5"/><rect x="653.50" y="584" width="23.60" height="12.5" fill="#a8d4f9" stroke="#464646" stroke-width="1.5"/><rect x="677.10" y="584" width="23.60" height="12.5" fill="#a8def9" stroke="#464646" stroke-width="1.5"/><rect x="700.70" y="584" width="23.60" height="12.5" fill="#a8e5f9" stroke="#464646" stroke-width="1.5"/><rect x="724.30" y="584" width="23.60" height="12.5" fill="#a4ebf9" stroke="#464646" stroke-width="1.5"/><rect x="747.90" y="584" width="23.60" height="12.5" fill="#a4f0f9" stroke="#464646" stroke-width="1.5"/><rect x="771.50" y="584" width="23.60" height="12.5" fill="#a4f5f4" stroke="#464646" stroke-width="1.5"/><rect x="795.10" y="584" width="23.60" height="12.5" fill="#aff5e7" stroke="#464646" stroke-width="1.5"/><rect x="818.70" y="584" width="23.60" height="12.5" fill="#b9f5dd" stroke="#464646" stroke-width="1.5"/><rect x="842.30" y="584" width="23.60" height="12.5" fill="#c4f7d2" stroke="#464646" stroke-width="1.5"/><rect x="865.90" y="584" width="23.60" height="12.5" fill="#cff7c8" stroke="#464646" stroke-width="1.5"/><rect x="889.50" y="584" width="23.60" height="12.5" fill="#d9f9bd" stroke="#464646" stroke-width="1.5"/><rect x="913.10" y="584" width="23.60" height="12.5" fill="#e0f9b9" stroke="#464646" stroke-width="1.5"/><rect x="936.70" y="584" width="23.60" height="12.5" fill="#e9f9b2" stroke="#464646" stroke-width="1.5"/><rect x="960.30" y="584" width="23.60" height="12.5" fill="#f2f9ab" stroke="#464646" stroke-width="1.5"/><rect x="983.90" y="584" width="23.60" height="12.5" fill="#f9f5a1" stroke="#464646" stroke-width="1.5"/><rect x="1007.50" y="584" width="23.60" height="12.5" fill="#f9ee9a" stroke="#464646" stroke-width="1.5"/><rect x="1031.10" y="584" width="23.60" height="12.5" fill="#f9e09a" stroke="#464646" stroke-width="1.5"/><rect x="1054.70" y="584" width="23.60" height="12.5" fill="#f9d99a" stroke="#464646" stroke-width="1.5"/><rect x="1078.30" y="584" width="23.60" height="12.5" fill="#f9d29d" stroke="#464646" stroke-width="1.5"/><rect x="1101.90" y="584" width="23.60" height="12.5" fill="#fac89d" stroke="#464646" stroke-width="1.5"/><rect x="1125.50" y="584" width="23.60" height="12.5" fill="#fac19d" stroke="#464646" stroke-width="1.5"/><rect x="1149.10" y="584" width="23.60" height="12.5" fill="#fab9a1" stroke="#464646" stroke-width="1.5"/><rect x="1172.70" y="584" width="23.60" height="12.5" fill="#faafa1" stroke="#464646" stroke-width="1.5"/><rect x="1196.30" y="584" width="23.60" height="12.5" fill="#fba8a4" stroke="#464646" stroke-width="1.5"/><rect x="1219.90" y="584" width="23.60" height="12.5" fill="#fca4a6" stroke="#464646" stroke-width="1.5"/>
<text x="625.9" y="618.7" text-anchor="middle" font-size="20">-20</text><text x="743.9" y="618.7" text-anchor="middle" font-size="20">-10</text><text x="865.1" y="618.7" text-anchor="middle" font-size="20">0</text><text x="983.1" y="618.7" text-anchor="middle" font-size="20">10</text><text x="1101.1" y="618.7" text-anchor="middle" font-size="20">20</text><text x="1219.1" y="618.7" text-anchor="middle" font-size="20">30</text>
<text x="1249.8" y="608" font-size="20">o</text>
<text x="0" y="0" font-size="26.5" transform="translate(1259.8,619.5) scale(0.8,1)">C</text>
</svg>
</body></html>
